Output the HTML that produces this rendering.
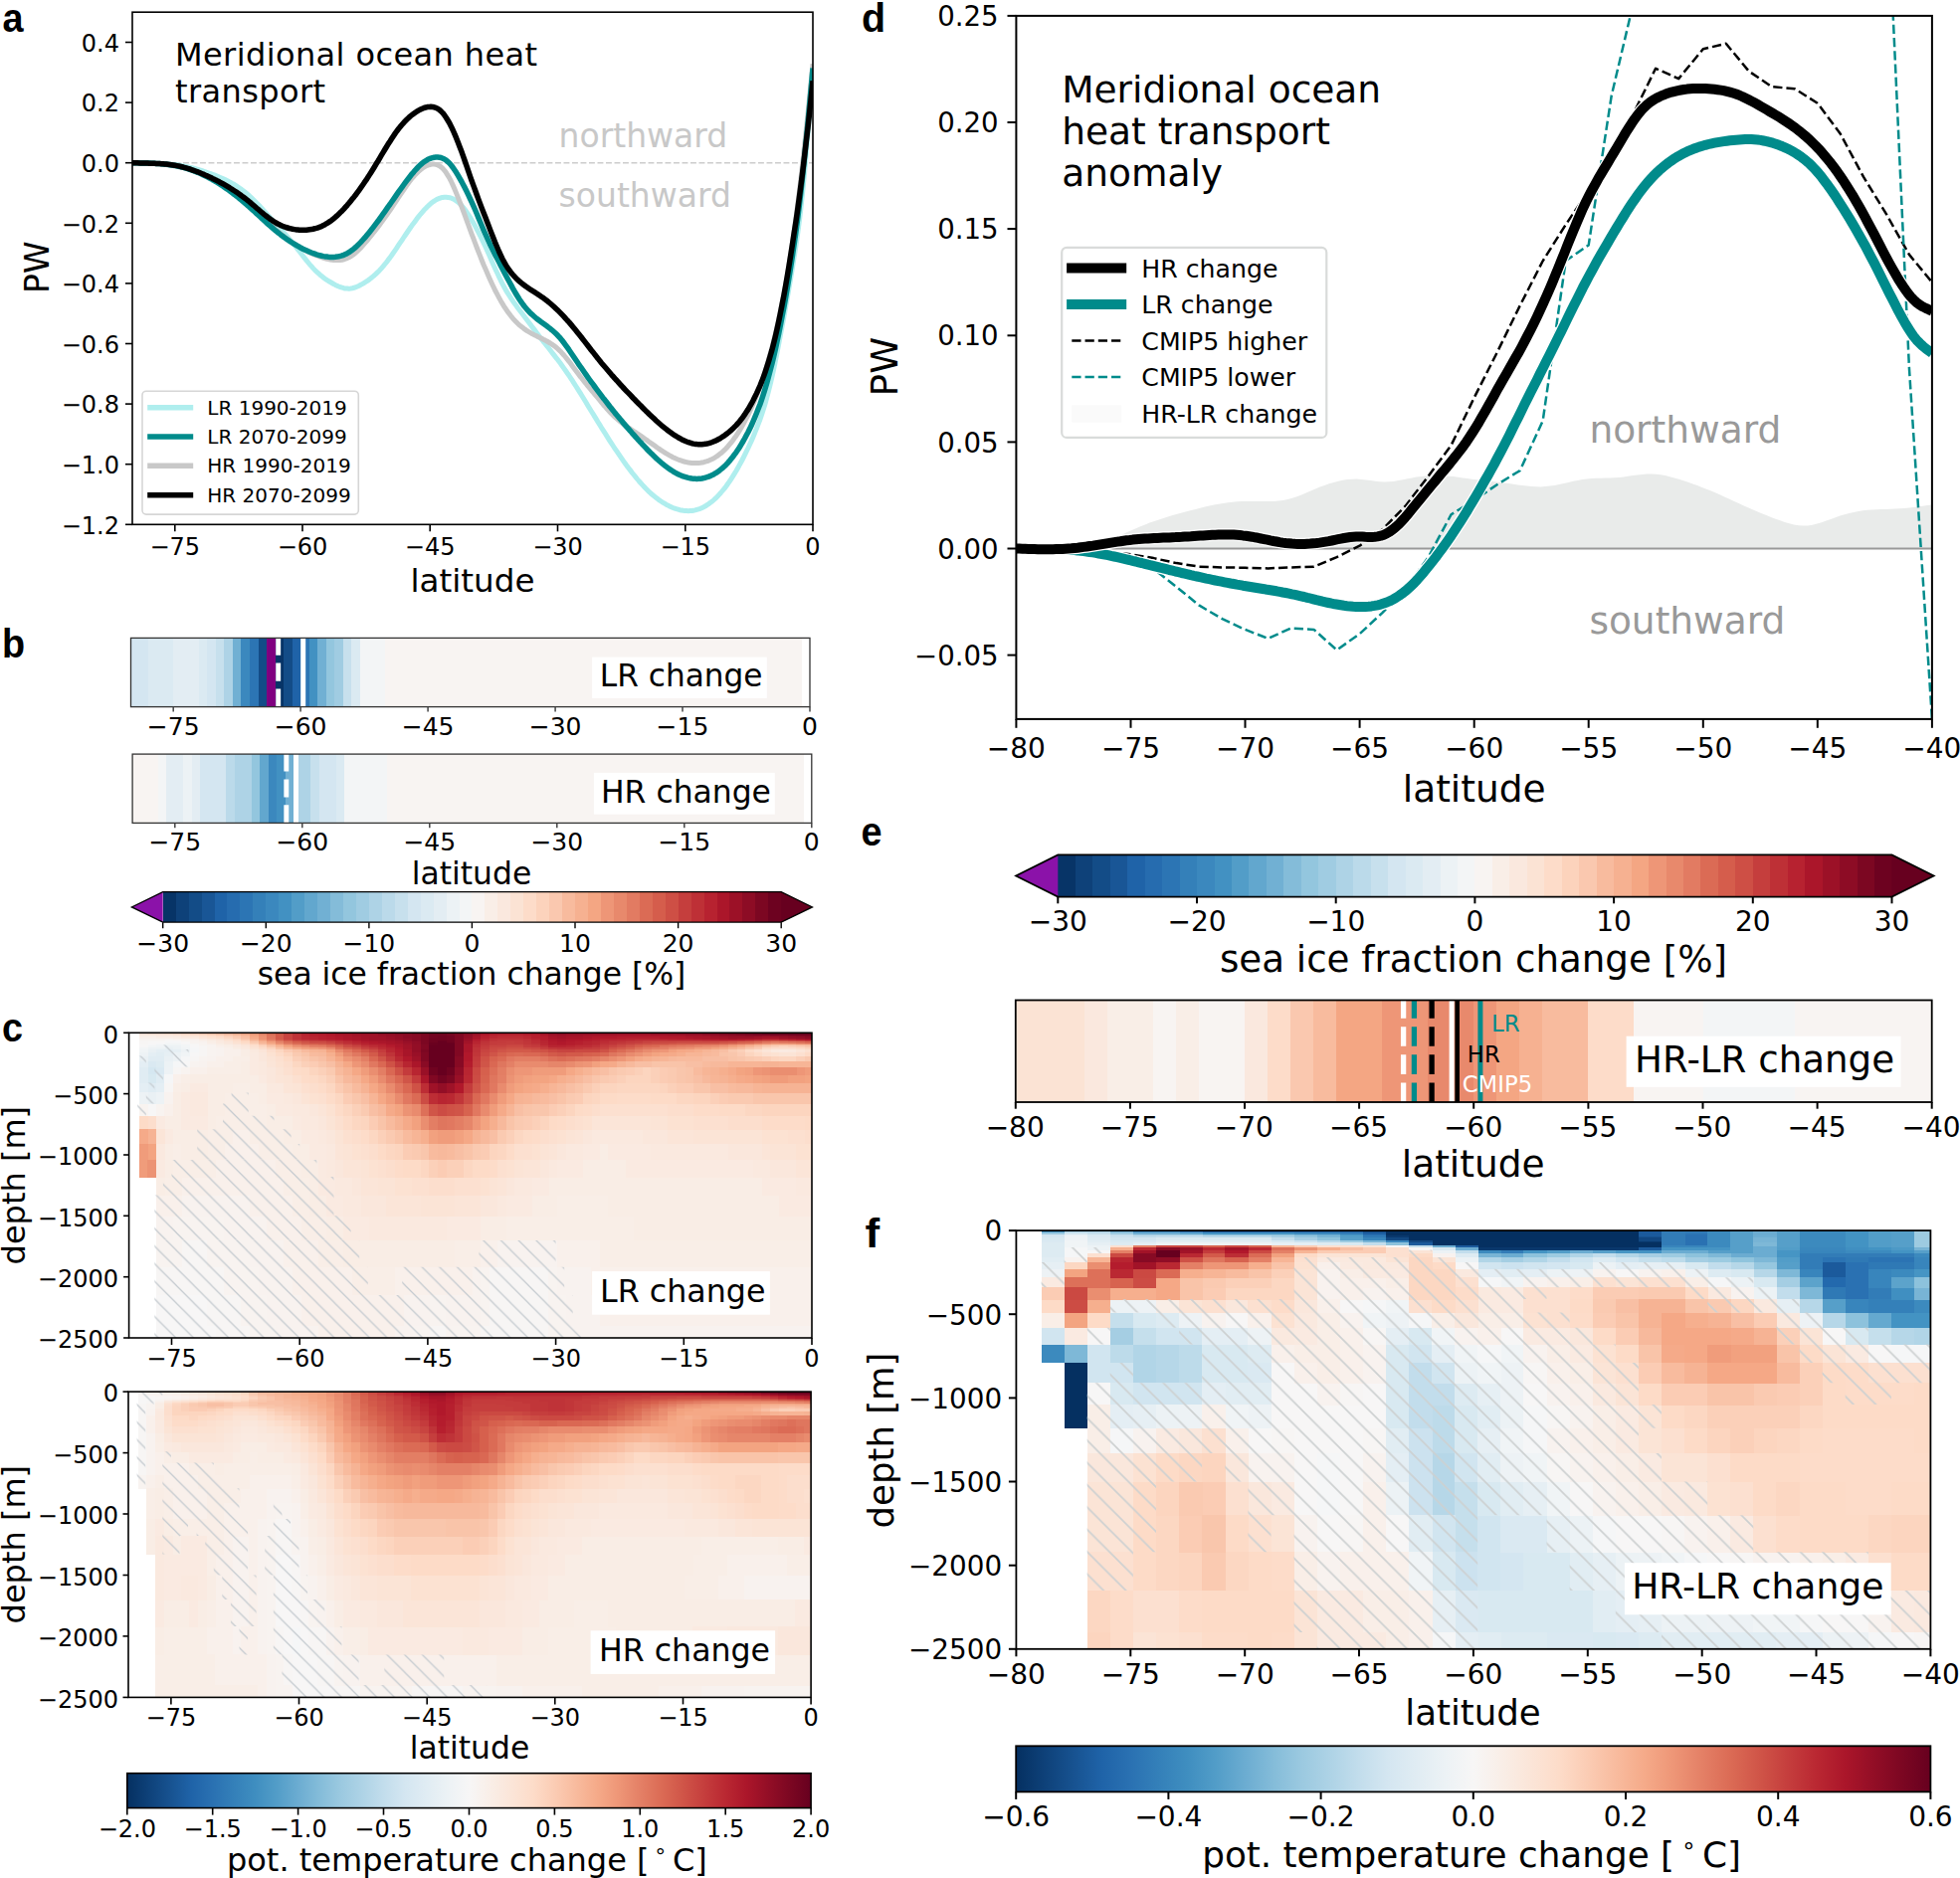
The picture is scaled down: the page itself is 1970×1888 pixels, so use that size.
<!DOCTYPE html><html><head><meta charset="utf-8"><title>Meridional ocean heat transport figure</title><style>html,body{margin:0;padding:0;background:#fff}svg{display:block}</style></head><body>
<svg width="1970" height="1888" viewBox="0 0 1970 1888" font-family='"DejaVu Sans","Liberation Sans",sans-serif' fill="#000">
<rect width="1970" height="1888" fill="#fff"/>
<defs><pattern id="hL" width="17.7" height="17.7" patternUnits="userSpaceOnUse"><path d="M-2 -2L19.7 19.7M-2 15.7L2 19.7M15.7 -2L19.7 2" stroke="#c4cacf" stroke-width="1.25" fill="none"/></pattern><pattern id="hR" width="22.4" height="22.4" patternUnits="userSpaceOnUse" x="3" y="0"><path d="M-2 -2L24.4 24.4M-2 20.4L2 24.4M20.4 -2L24.4 2" stroke="#cdd0d1" stroke-width="1.7" fill="none"/></pattern></defs>
<clipPath id="ca"><rect x="133" y="12.2" width="684" height="515.1"/></clipPath>
<g clip-path="url(#ca)">
<path d="M133 163.7L817 163.7" stroke="#cccccc" stroke-width="1.6" stroke-dasharray="5.9 2.6"/>
<path d="M133.0 163.7L134.7 163.7L136.4 163.8L138.1 163.8L139.9 163.9L141.6 163.9L143.3 164.0L145.0 164.0L146.7 164.1L148.4 164.1L150.1 164.2L151.9 164.2L153.6 164.3L155.3 164.3L157.0 164.4L158.7 164.4L160.4 164.5L162.1 164.6L163.9 164.6L165.6 164.7L167.3 164.8L169.0 164.9L170.7 165.0L172.4 165.2L174.1 165.4L175.9 165.6L177.6 165.8L179.3 166.0L181.0 166.3L182.7 166.6L184.4 166.9L186.1 167.2L187.9 167.6L189.6 168.0L191.3 168.4L193.0 168.8L194.7 169.2L196.4 169.7L198.1 170.2L199.9 170.7L201.6 171.2L203.3 171.7L205.0 172.3L206.7 172.9L208.4 173.5L210.1 174.1L211.9 174.7L213.6 175.3L215.3 175.9L217.0 176.6L218.7 177.3L220.4 178.0L222.1 178.7L223.9 179.5L225.6 180.3L227.3 181.1L229.0 182.0L230.7 182.9L232.4 183.8L234.1 184.8L235.9 185.8L237.6 186.9L239.3 188.0L241.0 189.2L242.7 190.4L244.4 191.7L246.1 193.0L247.9 194.5L249.6 195.9L251.3 197.5L253.0 199.1L254.7 200.7L256.4 202.4L258.1 204.2L259.9 206.0L261.6 207.8L263.3 209.7L265.0 211.6L266.7 213.5L268.4 215.4L270.1 217.3L271.9 219.2L273.6 221.1L275.3 223.0L277.0 224.9L278.7 226.8L280.4 228.6L282.1 230.5L283.9 232.4L285.6 234.3L287.3 236.2L289.0 238.1L290.7 240.1L292.4 242.1L294.1 244.1L295.9 246.2L297.6 248.4L299.3 250.6L301.0 252.8L302.7 255.0L304.4 257.2L306.1 259.4L307.9 261.6L309.6 263.7L311.3 265.8L313.0 267.7L314.7 269.6L316.4 271.4L318.1 273.1L319.9 274.7L321.6 276.2L323.3 277.6L325.0 278.9L326.7 280.2L328.4 281.4L330.1 282.5L331.9 283.5L333.6 284.5L335.3 285.5L337.0 286.4L338.7 287.2L340.4 288.0L342.1 288.6L343.9 289.2L345.6 289.7L347.3 290.0L349.0 290.1L350.7 290.2L352.4 290.0L354.1 289.7L355.9 289.3L357.6 288.7L359.3 288.0L361.0 287.2L362.7 286.3L364.4 285.4L366.1 284.3L367.9 283.2L369.6 282.1L371.3 280.9L373.0 279.5L374.7 278.1L376.4 276.7L378.1 275.1L379.9 273.4L381.6 271.7L383.3 269.8L385.0 267.9L386.7 265.8L388.4 263.7L390.1 261.4L391.9 259.1L393.6 256.7L395.3 254.3L397.0 251.8L398.7 249.3L400.4 246.7L402.1 244.2L403.9 241.6L405.6 239.0L407.3 236.5L409.0 234.0L410.7 231.5L412.4 229.0L414.1 226.6L415.9 224.2L417.6 221.9L419.3 219.6L421.0 217.4L422.7 215.3L424.4 213.3L426.1 211.3L427.9 209.5L429.6 207.7L431.3 206.1L433.0 204.6L434.7 203.3L436.4 202.1L438.1 201.0L439.9 200.1L441.6 199.4L443.3 198.8L445.0 198.4L446.7 198.2L448.4 198.2L450.1 198.4L451.9 198.7L453.6 199.2L455.3 199.9L457.0 200.8L458.7 201.9L460.4 203.2L462.1 204.8L463.9 206.5L465.6 208.5L467.3 210.7L469.0 213.1L470.7 215.6L472.4 218.3L474.1 221.2L475.9 224.1L477.6 227.2L479.3 230.5L481.0 233.8L482.7 237.2L484.4 240.7L486.1 244.3L487.9 248.0L489.6 251.8L491.3 255.6L493.0 259.5L494.7 263.4L496.4 267.2L498.1 271.0L499.9 274.8L501.6 278.5L503.3 282.0L505.0 285.3L506.7 288.5L508.4 291.6L510.1 294.4L511.9 297.2L513.6 299.8L515.3 302.3L517.0 304.8L518.7 307.1L520.4 309.5L522.1 311.7L523.9 314.0L525.6 316.2L527.3 318.5L529.0 320.8L530.7 323.0L532.4 325.3L534.1 327.6L535.9 329.9L537.6 332.1L539.3 334.4L541.0 336.6L542.7 338.9L544.4 341.1L546.1 343.3L547.9 345.5L549.6 347.7L551.3 349.8L553.0 352.0L554.7 354.2L556.4 356.4L558.1 358.6L559.9 360.8L561.6 363.1L563.3 365.3L565.0 367.7L566.7 370.1L568.4 372.5L570.1 375.0L571.9 377.5L573.6 380.1L575.3 382.7L577.0 385.3L578.7 388.0L580.4 390.7L582.1 393.4L583.9 396.2L585.6 399.0L587.3 401.8L589.0 404.5L590.7 407.4L592.4 410.2L594.1 413.0L595.9 415.8L597.6 418.6L599.3 421.4L601.0 424.2L602.7 426.9L604.4 429.7L606.1 432.4L607.9 435.2L609.6 437.9L611.3 440.6L613.0 443.3L614.7 445.9L616.4 448.5L618.1 451.1L619.9 453.7L621.6 456.2L623.3 458.7L625.0 461.2L626.7 463.6L628.4 466.0L630.1 468.4L631.9 470.7L633.6 472.9L635.3 475.2L637.0 477.3L638.7 479.4L640.4 481.5L642.1 483.5L643.9 485.5L645.6 487.4L647.3 489.2L649.0 491.0L650.7 492.7L652.4 494.4L654.1 496.0L655.9 497.5L657.6 498.9L659.3 500.3L661.0 501.6L662.7 502.9L664.4 504.0L666.1 505.1L667.9 506.2L669.6 507.2L671.3 508.1L673.0 508.9L674.7 509.7L676.4 510.5L678.1 511.1L679.9 511.7L681.6 512.2L683.3 512.7L685.0 513.0L686.7 513.3L688.4 513.5L690.1 513.6L691.9 513.7L693.6 513.6L695.3 513.5L697.0 513.2L698.7 512.9L700.4 512.4L702.1 511.9L703.9 511.3L705.6 510.6L707.3 509.7L709.0 508.8L710.7 507.7L712.4 506.6L714.1 505.3L715.9 504.0L717.6 502.5L719.3 500.9L721.0 499.2L722.7 497.4L724.4 495.5L726.1 493.5L727.9 491.4L729.6 489.2L731.3 486.8L733.0 484.4L734.7 481.8L736.4 479.1L738.1 476.4L739.9 473.5L741.6 470.5L743.3 467.4L745.0 464.3L746.7 461.0L748.4 457.6L750.1 454.1L751.9 450.5L753.6 446.8L755.3 443.1L757.0 439.2L758.7 435.1L760.4 430.9L762.1 426.4L763.9 421.8L765.6 416.8L767.3 411.5L769.0 405.9L770.7 399.9L772.4 393.4L774.1 386.6L775.9 379.2L777.6 371.5L779.3 363.3L781.0 354.7L782.7 345.9L784.4 336.9L786.1 327.7L787.9 318.4L789.6 308.9L791.3 299.3L793.0 289.6L794.7 279.6L796.4 269.3L798.1 258.6L799.9 247.5L801.6 235.7L803.3 222.8L805.0 208.7L806.7 193.1L808.4 175.8L810.1 156.6L811.9 135.9L813.6 114.1L815.3 91.5L817.0 68.6" fill="none" stroke="#afeeee" stroke-width="5" stroke-linejoin="round"/>
<path d="M133.0 163.7L134.7 163.7L136.4 163.8L138.1 163.8L139.9 163.8L141.6 163.9L143.3 163.9L145.0 164.0L146.7 164.0L148.4 164.1L150.1 164.1L151.9 164.2L153.6 164.3L155.3 164.4L157.0 164.4L158.7 164.5L160.4 164.7L162.1 164.8L163.9 164.9L165.6 165.1L167.3 165.3L169.0 165.5L170.7 165.7L172.4 165.9L174.1 166.2L175.9 166.5L177.6 166.8L179.3 167.2L181.0 167.5L182.7 167.9L184.4 168.4L186.1 168.8L187.9 169.3L189.6 169.8L191.3 170.4L193.0 171.0L194.7 171.6L196.4 172.2L198.1 172.8L199.9 173.5L201.6 174.2L203.3 175.0L205.0 175.7L206.7 176.5L208.4 177.4L210.1 178.2L211.9 179.1L213.6 180.0L215.3 181.0L217.0 181.9L218.7 182.9L220.4 184.0L222.1 185.0L223.9 186.1L225.6 187.2L227.3 188.4L229.0 189.5L230.7 190.7L232.4 191.9L234.1 193.2L235.9 194.5L237.6 195.8L239.3 197.1L241.0 198.5L242.7 199.8L244.4 201.2L246.1 202.7L247.9 204.1L249.6 205.6L251.3 207.1L253.0 208.7L254.7 210.2L256.4 211.8L258.1 213.4L259.9 215.0L261.6 216.6L263.3 218.2L265.0 219.8L266.7 221.4L268.4 223.0L270.1 224.5L271.9 226.1L273.6 227.6L275.3 229.2L277.0 230.7L278.7 232.1L280.4 233.6L282.1 235.0L283.9 236.4L285.6 237.7L287.3 239.0L289.0 240.3L290.7 241.6L292.4 242.8L294.1 244.0L295.9 245.2L297.6 246.3L299.3 247.4L301.0 248.4L302.7 249.4L304.4 250.4L306.1 251.3L307.9 252.2L309.6 253.0L311.3 253.9L313.0 254.7L314.7 255.4L316.4 256.1L318.1 256.8L319.9 257.5L321.6 258.1L323.3 258.7L325.0 259.3L326.7 259.8L328.4 260.2L330.1 260.6L331.9 261.0L333.6 261.3L335.3 261.5L337.0 261.6L338.7 261.6L340.4 261.6L342.1 261.4L343.9 261.2L345.6 260.8L347.3 260.2L349.0 259.6L350.7 258.8L352.4 257.8L354.1 256.7L355.9 255.4L357.6 254.0L359.3 252.4L361.0 250.8L362.7 249.0L364.4 247.1L366.1 245.2L367.9 243.2L369.6 241.1L371.3 239.0L373.0 236.9L374.7 234.7L376.4 232.6L378.1 230.4L379.9 228.1L381.6 225.9L383.3 223.6L385.0 221.3L386.7 218.9L388.4 216.5L390.1 214.1L391.9 211.6L393.6 209.1L395.3 206.5L397.0 203.9L398.7 201.3L400.4 198.7L402.1 196.1L403.9 193.5L405.6 191.0L407.3 188.5L409.0 186.1L410.7 183.7L412.4 181.5L414.1 179.3L415.9 177.3L417.6 175.4L419.3 173.7L421.0 172.0L422.7 170.6L424.4 169.2L426.1 168.1L427.9 167.1L429.6 166.3L431.3 165.7L433.0 165.3L434.7 165.1L436.4 165.1L438.1 165.4L439.9 165.9L441.6 166.7L443.3 167.9L445.0 169.4L446.7 171.3L448.4 173.6L450.1 176.3L451.9 179.3L453.6 182.7L455.3 186.4L457.0 190.3L458.7 194.4L460.4 198.6L462.1 203.0L463.9 207.5L465.6 212.0L467.3 216.7L469.0 221.3L470.7 226.0L472.4 230.7L474.1 235.3L475.9 239.9L477.6 244.5L479.3 249.0L481.0 253.4L482.7 257.7L484.4 262.0L486.1 266.2L487.9 270.3L489.6 274.3L491.3 278.2L493.0 282.0L494.7 285.7L496.4 289.3L498.1 292.8L499.9 296.1L501.6 299.3L503.3 302.4L505.0 305.3L506.7 308.1L508.4 310.7L510.1 313.2L511.9 315.6L513.6 317.8L515.3 319.9L517.0 321.8L518.7 323.6L520.4 325.3L522.1 326.9L523.9 328.3L525.6 329.6L527.3 330.9L529.0 332.1L530.7 333.2L532.4 334.2L534.1 335.2L535.9 336.1L537.6 337.0L539.3 337.8L541.0 338.7L542.7 339.5L544.4 340.3L546.1 341.2L547.9 342.1L549.6 343.0L551.3 344.0L553.0 345.0L554.7 346.1L556.4 347.3L558.1 348.6L559.9 350.0L561.6 351.6L563.3 353.2L565.0 355.1L566.7 357.0L568.4 359.0L570.1 361.1L571.9 363.3L573.6 365.6L575.3 367.9L577.0 370.2L578.7 372.5L580.4 374.8L582.1 377.1L583.9 379.3L585.6 381.5L587.3 383.6L589.0 385.8L590.7 387.9L592.4 389.9L594.1 392.0L595.9 394.0L597.6 396.1L599.3 398.2L601.0 400.2L602.7 402.3L604.4 404.4L606.1 406.5L607.9 408.5L609.6 410.5L611.3 412.4L613.0 414.3L614.7 416.1L616.4 417.8L618.1 419.4L619.9 420.9L621.6 422.4L623.3 423.8L625.0 425.1L626.7 426.4L628.4 427.7L630.1 428.9L631.9 430.1L633.6 431.2L635.3 432.4L637.0 433.5L638.7 434.6L640.4 435.8L642.1 436.9L643.9 438.1L645.6 439.3L647.3 440.5L649.0 441.7L650.7 442.9L652.4 444.2L654.1 445.4L655.9 446.6L657.6 447.8L659.3 449.1L661.0 450.3L662.7 451.4L664.4 452.6L666.1 453.7L667.9 454.8L669.6 455.9L671.3 456.9L673.0 457.9L674.7 458.8L676.4 459.7L678.1 460.5L679.9 461.3L681.6 462.0L683.3 462.6L685.0 463.2L686.7 463.8L688.4 464.2L690.1 464.6L691.9 465.0L693.6 465.2L695.3 465.4L697.0 465.6L698.7 465.6L700.4 465.6L702.1 465.5L703.9 465.3L705.6 465.0L707.3 464.7L709.0 464.2L710.7 463.7L712.4 463.1L714.1 462.3L715.9 461.5L717.6 460.6L719.3 459.5L721.0 458.4L722.7 457.1L724.4 455.8L726.1 454.3L727.9 452.7L729.6 451.0L731.3 449.2L733.0 447.2L734.7 445.2L736.4 443.0L738.1 440.6L739.9 438.2L741.6 435.6L743.3 432.9L745.0 430.0L746.7 427.1L748.4 423.9L750.1 420.7L751.9 417.3L753.6 413.7L755.3 410.0L757.0 406.1L758.7 402.0L760.4 397.8L762.1 393.4L763.9 388.7L765.6 383.8L767.3 378.7L769.0 373.4L770.7 367.9L772.4 362.0L774.1 355.9L775.9 349.6L777.6 342.9L779.3 335.9L781.0 328.6L782.7 320.9L784.4 312.8L786.1 304.3L787.9 295.5L789.6 286.2L791.3 276.4L793.0 266.2L794.7 255.5L796.4 244.2L798.1 232.4L799.9 220.1L801.6 207.1L803.3 193.5L805.0 179.2L806.7 164.2L808.4 148.6L810.1 132.4L811.9 115.8L813.6 98.8L815.3 81.6L817.0 64.3" fill="none" stroke="#c8c8c8" stroke-width="5" stroke-linejoin="round"/>
<path d="M133.0 163.7L134.7 163.7L136.4 163.8L138.1 163.8L139.9 163.8L141.6 163.9L143.3 163.9L145.0 164.0L146.7 164.0L148.4 164.1L150.1 164.1L151.9 164.2L153.6 164.3L155.3 164.3L157.0 164.4L158.7 164.5L160.4 164.6L162.1 164.8L163.9 164.9L165.6 165.1L167.3 165.3L169.0 165.5L170.7 165.7L172.4 165.9L174.1 166.2L175.9 166.5L177.6 166.8L179.3 167.2L181.0 167.6L182.7 168.0L184.4 168.4L186.1 168.9L187.9 169.4L189.6 170.0L191.3 170.5L193.0 171.1L194.7 171.8L196.4 172.4L198.1 173.1L199.9 173.8L201.6 174.6L203.3 175.4L205.0 176.2L206.7 177.0L208.4 177.9L210.1 178.8L211.9 179.7L213.6 180.7L215.3 181.6L217.0 182.7L218.7 183.7L220.4 184.8L222.1 185.9L223.9 187.0L225.6 188.2L227.3 189.4L229.0 190.6L230.7 191.8L232.4 193.1L234.1 194.4L235.9 195.7L237.6 197.1L239.3 198.4L241.0 199.8L242.7 201.2L244.4 202.7L246.1 204.1L247.9 205.6L249.6 207.1L251.3 208.7L253.0 210.2L254.7 211.8L256.4 213.3L258.1 214.9L259.9 216.5L261.6 218.1L263.3 219.7L265.0 221.2L266.7 222.8L268.4 224.4L270.1 225.9L271.9 227.4L273.6 228.9L275.3 230.4L277.0 231.8L278.7 233.2L280.4 234.5L282.1 235.9L283.9 237.2L285.6 238.5L287.3 239.7L289.0 240.9L290.7 242.1L292.4 243.2L294.1 244.3L295.9 245.4L297.6 246.4L299.3 247.4L301.0 248.3L302.7 249.3L304.4 250.2L306.1 251.0L307.9 251.8L309.6 252.6L311.3 253.3L313.0 254.0L314.7 254.6L316.4 255.2L318.1 255.8L319.9 256.3L321.6 256.8L323.3 257.2L325.0 257.6L326.7 257.9L328.4 258.1L330.1 258.3L331.9 258.4L333.6 258.4L335.3 258.4L337.0 258.3L338.7 258.1L340.4 257.8L342.1 257.4L343.9 256.9L345.6 256.3L347.3 255.5L349.0 254.7L350.7 253.7L352.4 252.5L354.1 251.3L355.9 249.9L357.6 248.4L359.3 246.8L361.0 245.1L362.7 243.4L364.4 241.5L366.1 239.6L367.9 237.6L369.6 235.5L371.3 233.4L373.0 231.3L374.7 229.1L376.4 226.9L378.1 224.6L379.9 222.3L381.6 220.0L383.3 217.6L385.0 215.2L386.7 212.8L388.4 210.4L390.1 207.9L391.9 205.5L393.6 203.0L395.3 200.6L397.0 198.1L398.7 195.6L400.4 193.2L402.1 190.8L403.9 188.4L405.6 186.0L407.3 183.7L409.0 181.4L410.7 179.2L412.4 177.0L414.1 174.8L415.9 172.8L417.6 170.8L419.3 169.0L421.0 167.2L422.7 165.6L424.4 164.1L426.1 162.8L427.9 161.7L429.6 160.6L431.3 159.8L433.0 159.1L434.7 158.6L436.4 158.2L438.1 158.0L439.9 158.0L441.6 158.2L443.3 158.5L445.0 159.2L446.7 160.0L448.4 161.1L450.1 162.6L451.9 164.3L453.6 166.3L455.3 168.5L457.0 171.0L458.7 173.6L460.4 176.4L462.1 179.4L463.9 182.5L465.6 185.7L467.3 188.9L469.0 192.3L470.7 195.9L472.4 199.5L474.1 203.2L475.9 207.1L477.6 211.0L479.3 215.0L481.0 219.1L482.7 223.2L484.4 227.3L486.1 231.3L487.9 235.3L489.6 239.2L491.3 242.9L493.0 246.6L494.7 250.1L496.4 253.6L498.1 257.0L499.9 260.3L501.6 263.6L503.3 266.9L505.0 270.2L506.7 273.5L508.4 276.8L510.1 280.0L511.9 283.3L513.6 286.4L515.3 289.6L517.0 292.6L518.7 295.5L520.4 298.3L522.1 301.0L523.9 303.6L525.6 306.0L527.3 308.2L529.0 310.2L530.7 312.2L532.4 314.0L534.1 315.7L535.9 317.2L537.6 318.7L539.3 320.2L541.0 321.5L542.7 322.8L544.4 324.1L546.1 325.3L547.9 326.6L549.6 327.8L551.3 329.1L553.0 330.4L554.7 331.8L556.4 333.3L558.1 334.8L559.9 336.5L561.6 338.3L563.3 340.2L565.0 342.3L566.7 344.5L568.4 346.8L570.1 349.2L571.9 351.7L573.6 354.2L575.3 356.7L577.0 359.3L578.7 361.8L580.4 364.3L582.1 366.9L583.9 369.3L585.6 371.8L587.3 374.3L589.0 376.7L590.7 379.1L592.4 381.5L594.1 383.8L595.9 386.2L597.6 388.5L599.3 390.8L601.0 393.1L602.7 395.4L604.4 397.7L606.1 399.9L607.9 402.1L609.6 404.3L611.3 406.5L613.0 408.7L614.7 410.8L616.4 412.9L618.1 415.1L619.9 417.2L621.6 419.2L623.3 421.3L625.0 423.3L626.7 425.4L628.4 427.4L630.1 429.4L631.9 431.4L633.6 433.3L635.3 435.3L637.0 437.2L638.7 439.1L640.4 441.0L642.1 442.9L643.9 444.7L645.6 446.6L647.3 448.4L649.0 450.2L650.7 452.0L652.4 453.7L654.1 455.4L655.9 457.1L657.6 458.8L659.3 460.4L661.0 462.0L662.7 463.5L664.4 465.0L666.1 466.4L667.9 467.8L669.6 469.1L671.3 470.4L673.0 471.6L674.7 472.7L676.4 473.8L678.1 474.8L679.9 475.8L681.6 476.7L683.3 477.5L685.0 478.2L686.7 478.9L688.4 479.4L690.1 479.9L691.9 480.4L693.6 480.7L695.3 481.0L697.0 481.2L698.7 481.3L700.4 481.4L702.1 481.3L703.9 481.2L705.6 481.0L707.3 480.6L709.0 480.2L710.7 479.7L712.4 479.1L714.1 478.4L715.9 477.6L717.6 476.7L719.3 475.7L721.0 474.6L722.7 473.4L724.4 472.0L726.1 470.6L727.9 469.0L729.6 467.4L731.3 465.6L733.0 463.7L734.7 461.6L736.4 459.5L738.1 457.2L739.9 454.8L741.6 452.3L743.3 449.7L745.0 446.9L746.7 444.0L748.4 441.0L750.1 437.8L751.9 434.5L753.6 431.1L755.3 427.5L757.0 423.7L758.7 419.7L760.4 415.5L762.1 411.1L763.9 406.5L765.6 401.6L767.3 396.4L769.0 390.9L770.7 385.2L772.4 379.1L774.1 372.6L775.9 365.9L777.6 358.8L779.3 351.3L781.0 343.5L782.7 335.4L784.4 326.9L786.1 318.1L787.9 308.9L789.6 299.4L791.3 289.5L793.0 279.2L794.7 268.6L796.4 257.5L798.1 245.9L799.9 233.6L801.6 220.7L803.3 206.9L805.0 192.2L806.7 176.6L808.4 160.1L810.1 142.7L811.9 124.7L813.6 106.3L815.3 87.5L817.0 68.6" fill="none" stroke="#008b8b" stroke-width="5.5" stroke-linejoin="round"/>
<path d="M133.0 163.7L134.7 163.7L136.4 163.8L138.1 163.8L139.9 163.9L141.6 163.9L143.3 163.9L145.0 164.0L146.7 164.0L148.4 164.1L150.1 164.2L151.9 164.2L153.6 164.3L155.3 164.3L157.0 164.4L158.7 164.5L160.4 164.6L162.1 164.7L163.9 164.8L165.6 165.0L167.3 165.1L169.0 165.3L170.7 165.5L172.4 165.7L174.1 166.0L175.9 166.3L177.6 166.6L179.3 166.9L181.0 167.3L182.7 167.7L184.4 168.2L186.1 168.6L187.9 169.1L189.6 169.6L191.3 170.2L193.0 170.8L194.7 171.4L196.4 172.0L198.1 172.6L199.9 173.3L201.6 174.0L203.3 174.7L205.0 175.4L206.7 176.2L208.4 176.9L210.1 177.7L211.9 178.5L213.6 179.4L215.3 180.2L217.0 181.1L218.7 181.9L220.4 182.8L222.1 183.8L223.9 184.7L225.6 185.7L227.3 186.7L229.0 187.7L230.7 188.7L232.4 189.8L234.1 190.9L235.9 192.0L237.6 193.1L239.3 194.3L241.0 195.5L242.7 196.8L244.4 198.0L246.1 199.3L247.9 200.7L249.6 202.0L251.3 203.4L253.0 204.9L254.7 206.3L256.4 207.8L258.1 209.3L259.9 210.7L261.6 212.2L263.3 213.7L265.0 215.1L266.7 216.5L268.4 217.8L270.1 219.1L271.9 220.4L273.6 221.6L275.3 222.7L277.0 223.8L278.7 224.7L280.4 225.6L282.1 226.4L283.9 227.2L285.6 227.9L287.3 228.5L289.0 229.0L290.7 229.5L292.4 229.9L294.1 230.3L295.9 230.6L297.6 230.9L299.3 231.0L301.0 231.2L302.7 231.2L304.4 231.3L306.1 231.2L307.9 231.2L309.6 231.0L311.3 230.8L313.0 230.6L314.7 230.2L316.4 229.8L318.1 229.4L319.9 228.8L321.6 228.2L323.3 227.4L325.0 226.6L326.7 225.7L328.4 224.7L330.1 223.6L331.9 222.4L333.6 221.2L335.3 219.8L337.0 218.4L338.7 216.9L340.4 215.3L342.1 213.6L343.9 211.9L345.6 210.1L347.3 208.2L349.0 206.3L350.7 204.3L352.4 202.2L354.1 200.1L355.9 197.9L357.6 195.7L359.3 193.4L361.0 191.1L362.7 188.7L364.4 186.2L366.1 183.7L367.9 181.2L369.6 178.6L371.3 175.9L373.0 173.2L374.7 170.5L376.4 167.7L378.1 164.8L379.9 162.0L381.6 159.1L383.3 156.2L385.0 153.4L386.7 150.5L388.4 147.7L390.1 144.9L391.9 142.2L393.6 139.5L395.3 136.9L397.0 134.4L398.7 132.0L400.4 129.8L402.1 127.6L403.9 125.5L405.6 123.6L407.3 121.7L409.0 120.0L410.7 118.4L412.4 116.9L414.1 115.5L415.9 114.2L417.6 113.0L419.3 111.9L421.0 110.9L422.7 110.0L424.4 109.2L426.1 108.5L427.9 108.0L429.6 107.6L431.3 107.4L433.0 107.3L434.7 107.5L436.4 107.8L438.1 108.4L439.9 109.3L441.6 110.4L443.3 111.9L445.0 113.6L446.7 115.7L448.4 118.2L450.1 121.0L451.9 124.0L453.6 127.4L455.3 131.0L457.0 134.9L458.7 138.9L460.4 143.2L462.1 147.7L463.9 152.3L465.6 157.1L467.3 162.0L469.0 166.9L470.7 171.9L472.4 176.8L474.1 181.8L475.9 186.6L477.6 191.3L479.3 196.0L481.0 200.6L482.7 205.1L484.4 209.6L486.1 214.0L487.9 218.5L489.6 222.9L491.3 227.4L493.0 231.9L494.7 236.3L496.4 240.6L498.1 244.9L499.9 249.0L501.6 253.0L503.3 256.7L505.0 260.2L506.7 263.4L508.4 266.4L510.1 269.1L511.9 271.6L513.6 273.9L515.3 276.0L517.0 277.9L518.7 279.7L520.4 281.4L522.1 282.9L523.9 284.4L525.6 285.7L527.3 287.0L529.0 288.3L530.7 289.4L532.4 290.6L534.1 291.7L535.9 292.8L537.6 293.9L539.3 295.0L541.0 296.1L542.7 297.2L544.4 298.4L546.1 299.6L547.9 300.9L549.6 302.2L551.3 303.6L553.0 305.0L554.7 306.5L556.4 308.0L558.1 309.6L559.9 311.2L561.6 312.9L563.3 314.6L565.0 316.4L566.7 318.2L568.4 320.1L570.1 322.0L571.9 323.9L573.6 325.9L575.3 327.9L577.0 330.0L578.7 332.1L580.4 334.2L582.1 336.3L583.9 338.5L585.6 340.7L587.3 342.9L589.0 345.1L590.7 347.3L592.4 349.5L594.1 351.7L595.9 353.9L597.6 356.1L599.3 358.3L601.0 360.4L602.7 362.6L604.4 364.7L606.1 366.7L607.9 368.8L609.6 370.8L611.3 372.8L613.0 374.8L614.7 376.8L616.4 378.7L618.1 380.6L619.9 382.5L621.6 384.4L623.3 386.3L625.0 388.2L626.7 390.0L628.4 391.8L630.1 393.6L631.9 395.4L633.6 397.2L635.3 399.0L637.0 400.8L638.7 402.5L640.4 404.3L642.1 406.0L643.9 407.7L645.6 409.5L647.3 411.2L649.0 412.9L650.7 414.5L652.4 416.2L654.1 417.9L655.9 419.5L657.6 421.1L659.3 422.7L661.0 424.2L662.7 425.7L664.4 427.2L666.1 428.7L667.9 430.1L669.6 431.4L671.3 432.8L673.0 434.1L674.7 435.3L676.4 436.5L678.1 437.6L679.9 438.7L681.6 439.8L683.3 440.7L685.0 441.7L686.7 442.5L688.4 443.3L690.1 444.0L691.9 444.6L693.6 445.2L695.3 445.7L697.0 446.1L698.7 446.4L700.4 446.6L702.1 446.7L703.9 446.8L705.6 446.7L707.3 446.6L709.0 446.3L710.7 446.0L712.4 445.6L714.1 445.1L715.9 444.5L717.6 443.8L719.3 443.1L721.0 442.2L722.7 441.3L724.4 440.3L726.1 439.2L727.9 438.1L729.6 436.8L731.3 435.5L733.0 434.1L734.7 432.7L736.4 431.1L738.1 429.4L739.9 427.6L741.6 425.7L743.3 423.7L745.0 421.6L746.7 419.3L748.4 416.9L750.1 414.3L751.9 411.6L753.6 408.7L755.3 405.7L757.0 402.5L758.7 399.1L760.4 395.6L762.1 391.8L763.9 387.8L765.6 383.6L767.3 379.1L769.0 374.3L770.7 369.2L772.4 363.8L774.1 358.0L775.9 351.9L777.6 345.3L779.3 338.3L781.0 330.9L782.7 323.1L784.4 314.8L786.1 306.1L787.9 297.0L789.6 287.5L791.3 277.6L793.0 267.4L794.7 256.8L796.4 245.9L798.1 234.7L799.9 223.2L801.6 211.3L803.3 198.9L805.0 186.1L806.7 172.8L808.4 158.9L810.1 144.4L811.9 129.2L813.6 113.6L815.3 97.5L817.0 81.3" fill="none" stroke="#000" stroke-width="5.5" stroke-linejoin="round"/>
</g>
<rect x="133" y="12.2" width="684" height="515.1" fill="none" stroke="#000" stroke-width="1.6"/>
<path d="M175.8 527.3L175.8 534.3" stroke="#000" stroke-width="1.6"/>
<text x="175.8" y="557.6" font-size="24" text-anchor="middle">−75</text>
<path d="M304 527.3L304 534.3" stroke="#000" stroke-width="1.6"/>
<text x="304" y="557.6" font-size="24" text-anchor="middle">−60</text>
<path d="M432.2 527.3L432.2 534.3" stroke="#000" stroke-width="1.6"/>
<text x="432.2" y="557.6" font-size="24" text-anchor="middle">−45</text>
<path d="M560.5 527.3L560.5 534.3" stroke="#000" stroke-width="1.6"/>
<text x="560.5" y="557.6" font-size="24" text-anchor="middle">−30</text>
<path d="M688.8 527.3L688.8 534.3" stroke="#000" stroke-width="1.6"/>
<text x="688.8" y="557.6" font-size="24" text-anchor="middle">−15</text>
<path d="M817 527.3L817 534.3" stroke="#000" stroke-width="1.6"/>
<text x="817" y="557.6" font-size="24" text-anchor="middle">0</text>
<path d="M126 42.5L133 42.5" stroke="#000" stroke-width="1.6"/>
<text x="120" y="51.8" font-size="24" text-anchor="end">0.4</text>
<path d="M126 103.1L133 103.1" stroke="#000" stroke-width="1.6"/>
<text x="120" y="112.4" font-size="24" text-anchor="end">0.2</text>
<path d="M126 163.7L133 163.7" stroke="#000" stroke-width="1.6"/>
<text x="120" y="173" font-size="24" text-anchor="end">0.0</text>
<path d="M126 224.3L133 224.3" stroke="#000" stroke-width="1.6"/>
<text x="120" y="233.6" font-size="24" text-anchor="end">−0.2</text>
<path d="M126 284.9L133 284.9" stroke="#000" stroke-width="1.6"/>
<text x="120" y="294.2" font-size="24" text-anchor="end">−0.4</text>
<path d="M126 345.5L133 345.5" stroke="#000" stroke-width="1.6"/>
<text x="120" y="354.8" font-size="24" text-anchor="end">−0.6</text>
<path d="M126 406.1L133 406.1" stroke="#000" stroke-width="1.6"/>
<text x="120" y="415.4" font-size="24" text-anchor="end">−0.8</text>
<path d="M126 466.7L133 466.7" stroke="#000" stroke-width="1.6"/>
<text x="120" y="476" font-size="24" text-anchor="end">−1.0</text>
<path d="M126 527.3L133 527.3" stroke="#000" stroke-width="1.6"/>
<text x="120" y="536.6" font-size="24" text-anchor="end">−1.2</text>
<text x="475" y="594.6" font-size="32.6" text-anchor="middle">latitude</text>
<text transform="translate(48.8,268.7) rotate(-90)" font-size="33" text-anchor="middle">PW</text>
<text x="176" y="66.3" font-size="32" letter-spacing="0.4">Meridional ocean heat</text>
<text x="176" y="102.5" font-size="32" letter-spacing="0.4">transport</text>
<text x="561.6" y="148.2" font-size="33" fill="#c8c8c8">northward</text>
<text x="561.6" y="208.3" font-size="33" fill="#c8c8c8">southward</text>
<rect x="143" y="393.2" width="217.3" height="123.9" fill="#fff" stroke="#d6d6d6" stroke-width="1.6" rx="4" fill-opacity="0.8"/>
<path d="M148.2 409.8L194.2 409.8" stroke="#afeeee" stroke-width="5.5"/>
<text x="208.3" y="416.7" font-size="20">LR 1990-2019</text>
<path d="M148.2 439L194.2 439" stroke="#008b8b" stroke-width="5.5"/>
<text x="208.3" y="445.9" font-size="20">LR 2070-2099</text>
<path d="M148.2 468.2L194.2 468.2" stroke="#c8c8c8" stroke-width="5.5"/>
<text x="208.3" y="475.1" font-size="20">HR 1990-2019</text>
<path d="M148.2 497.8L194.2 497.8" stroke="#000" stroke-width="5.5"/>
<text x="208.3" y="504.7" font-size="20">HR 2070-2099</text>
<text transform="translate(2.5,31.8) scale(0.9,0.98)" font-size="42" font-weight="bold" font-family='"Liberation Sans","DejaVu Sans",sans-serif'>a</text>
<g shape-rendering="crispEdges">
<rect x="131.5" y="641.4" width="17.4" height="69.2" fill="#d4e6f1"/>
<rect x="148.6" y="641.4" width="25.9" height="69.2" fill="#dbeaf2"/>
<rect x="174.2" y="641.4" width="25.9" height="69.2" fill="#e3edf3"/>
<rect x="199.8" y="641.4" width="8.8" height="69.2" fill="#dbeaf2"/>
<rect x="208.3" y="641.4" width="8.8" height="69.2" fill="#d4e6f1"/>
<rect x="216.8" y="641.4" width="8.8" height="69.2" fill="#c7e0ed"/>
<rect x="225.3" y="641.4" width="8.8" height="69.2" fill="#aed3e6"/>
<rect x="233.9" y="641.4" width="8.8" height="69.2" fill="#71b0d3"/>
<rect x="242.4" y="641.4" width="8.8" height="69.2" fill="#3b88be"/>
<rect x="250.9" y="641.4" width="8.8" height="69.2" fill="#2c75b4"/>
<rect x="259.5" y="641.4" width="8.8" height="69.2" fill="#134c87"/>
<rect x="268" y="641.4" width="8.8" height="69.2" fill="#800080"/>
<rect x="276.5" y="641.4" width="8.8" height="69.2" fill="#073467"/>
<rect x="285.1" y="641.4" width="8.8" height="69.2" fill="#134c87"/>
<rect x="293.6" y="641.4" width="8.8" height="69.2" fill="#1f63a8"/>
<rect x="302.1" y="641.4" width="8.8" height="69.2" fill="#2c75b4"/>
<rect x="310.7" y="641.4" width="8.8" height="69.2" fill="#4291c2"/>
<rect x="319.2" y="641.4" width="8.8" height="69.2" fill="#71b0d3"/>
<rect x="327.7" y="641.4" width="8.8" height="69.2" fill="#93c6de"/>
<rect x="336.2" y="641.4" width="8.8" height="69.2" fill="#a0cce2"/>
<rect x="344.8" y="641.4" width="8.8" height="69.2" fill="#c7e0ed"/>
<rect x="353.3" y="641.4" width="8.8" height="69.2" fill="#dbeaf2"/>
<rect x="361.8" y="641.4" width="25.9" height="69.2" fill="#f3f5f6"/>
<rect x="387.4" y="641.4" width="418.3" height="69.2" fill="#f8f4f2"/>
</g>
<path d="M279.7 710.6L279.7 641.4" stroke="#fff" stroke-width="4.9" stroke-dasharray="18.1 7.8"/>
<path d="M304.7 710.6L304.7 641.4" stroke="#fff" stroke-width="5.0"/>
<rect x="131.5" y="641.4" width="682.5" height="69.2" fill="none" stroke="#333" stroke-width="1.3"/>
<path d="M174.2 710.6L174.2 715.4" stroke="#444" stroke-width="1.5"/>
<text x="174.2" y="738.7" font-size="25" text-anchor="middle">−75</text>
<path d="M302.1 710.6L302.1 715.4" stroke="#444" stroke-width="1.5"/>
<text x="302.1" y="738.7" font-size="25" text-anchor="middle">−60</text>
<path d="M430.1 710.6L430.1 715.4" stroke="#444" stroke-width="1.5"/>
<text x="430.1" y="738.7" font-size="25" text-anchor="middle">−45</text>
<path d="M558.1 710.6L558.1 715.4" stroke="#444" stroke-width="1.5"/>
<text x="558.1" y="738.7" font-size="25" text-anchor="middle">−30</text>
<path d="M686 710.6L686 715.4" stroke="#444" stroke-width="1.5"/>
<text x="686" y="738.7" font-size="25" text-anchor="middle">−15</text>
<path d="M814 710.6L814 715.4" stroke="#444" stroke-width="1.5"/>
<text x="814" y="738.7" font-size="25" text-anchor="middle">0</text>
<rect x="595.1" y="660.6" width="175.7" height="41.3" fill="#fff"/>
<text x="602.8" y="690.4" font-size="31.2">LR change</text>
<g shape-rendering="crispEdges">
<rect x="133.1" y="758.1" width="25.9" height="69.3" fill="#f8f4f2"/>
<rect x="158.7" y="758.1" width="8.8" height="69.3" fill="#f3f5f6"/>
<rect x="167.2" y="758.1" width="17.4" height="69.3" fill="#e3edf3"/>
<rect x="184.3" y="758.1" width="8.8" height="69.3" fill="#ecf2f5"/>
<rect x="192.8" y="758.1" width="8.8" height="69.3" fill="#e3edf3"/>
<rect x="201.4" y="758.1" width="25.9" height="69.3" fill="#d4e6f1"/>
<rect x="227" y="758.1" width="8.8" height="69.3" fill="#bbdaea"/>
<rect x="235.5" y="758.1" width="17.4" height="69.3" fill="#aed3e6"/>
<rect x="252.6" y="758.1" width="8.8" height="69.3" fill="#93c6de"/>
<rect x="261.1" y="758.1" width="8.8" height="69.3" fill="#62a7ce"/>
<rect x="269.6" y="758.1" width="8.8" height="69.3" fill="#3b88be"/>
<rect x="278.2" y="758.1" width="8.8" height="69.3" fill="#4291c2"/>
<rect x="286.7" y="758.1" width="8.8" height="69.3" fill="#71b0d3"/>
<rect x="295.2" y="758.1" width="17.4" height="69.3" fill="#aed3e6"/>
<rect x="312.3" y="758.1" width="8.8" height="69.3" fill="#c7e0ed"/>
<rect x="320.8" y="758.1" width="17.4" height="69.3" fill="#d4e6f1"/>
<rect x="337.9" y="758.1" width="8.8" height="69.3" fill="#dbeaf2"/>
<rect x="346.4" y="758.1" width="43" height="69.3" fill="#f3f5f6"/>
<rect x="389.1" y="758.1" width="418.5" height="69.3" fill="#f8f4f2"/>
</g>
<path d="M287.8 827.4L287.8 758.1" stroke="#fff" stroke-width="4.9" stroke-dasharray="18.1 7.8"/>
<path d="M297.5 827.4L297.5 758.1" stroke="#fff" stroke-width="5.0"/>
<rect x="133.1" y="758.1" width="682.7" height="69.3" fill="none" stroke="#333" stroke-width="1.3"/>
<path d="M175.8 827.4L175.8 832.2" stroke="#444" stroke-width="1.5"/>
<text x="175.8" y="855.2" font-size="25" text-anchor="middle">−75</text>
<path d="M303.8 827.4L303.8 832.2" stroke="#444" stroke-width="1.5"/>
<text x="303.8" y="855.2" font-size="25" text-anchor="middle">−60</text>
<path d="M431.8 827.4L431.8 832.2" stroke="#444" stroke-width="1.5"/>
<text x="431.8" y="855.2" font-size="25" text-anchor="middle">−45</text>
<path d="M559.8 827.4L559.8 832.2" stroke="#444" stroke-width="1.5"/>
<text x="559.8" y="855.2" font-size="25" text-anchor="middle">−30</text>
<path d="M687.8 827.4L687.8 832.2" stroke="#444" stroke-width="1.5"/>
<text x="687.8" y="855.2" font-size="25" text-anchor="middle">−15</text>
<path d="M815.8 827.4L815.8 832.2" stroke="#444" stroke-width="1.5"/>
<text x="815.8" y="855.2" font-size="25" text-anchor="middle">0</text>
<rect x="596.9" y="776.9" width="181.9" height="41.8" fill="#fff"/>
<text x="604" y="807" font-size="31.4">HR change</text>
<text x="474" y="889" font-size="31.4" text-anchor="middle">latitude</text>
<g shape-rendering="crispEdges">
<rect x="163.7" y="896.6" width="13.2" height="30.6" fill="#073467"/>
<rect x="176.6" y="896.6" width="13.2" height="30.6" fill="#0e4179"/>
<rect x="189.6" y="896.6" width="13.2" height="30.6" fill="#134c87"/>
<rect x="202.5" y="896.6" width="13.2" height="30.6" fill="#195696"/>
<rect x="215.5" y="896.6" width="13.2" height="30.6" fill="#1f63a8"/>
<rect x="228.4" y="896.6" width="13.2" height="30.6" fill="#266caf"/>
<rect x="241.4" y="896.6" width="13.2" height="30.6" fill="#2c75b4"/>
<rect x="254.3" y="896.6" width="13.2" height="30.6" fill="#3480b9"/>
<rect x="267.3" y="896.6" width="13.2" height="30.6" fill="#3b88be"/>
<rect x="280.2" y="896.6" width="13.2" height="30.6" fill="#4291c2"/>
<rect x="293.2" y="896.6" width="13.2" height="30.6" fill="#529dc8"/>
<rect x="306.1" y="896.6" width="13.2" height="30.6" fill="#62a7ce"/>
<rect x="319.1" y="896.6" width="13.2" height="30.6" fill="#71b0d3"/>
<rect x="332" y="896.6" width="13.2" height="30.6" fill="#84bcd9"/>
<rect x="345" y="896.6" width="13.2" height="30.6" fill="#93c6de"/>
<rect x="357.9" y="896.6" width="13.2" height="30.6" fill="#a0cce2"/>
<rect x="370.9" y="896.6" width="13.2" height="30.6" fill="#aed3e6"/>
<rect x="383.8" y="896.6" width="13.2" height="30.6" fill="#bbdaea"/>
<rect x="396.8" y="896.6" width="13.2" height="30.6" fill="#c7e0ed"/>
<rect x="409.7" y="896.6" width="13.2" height="30.6" fill="#d4e6f1"/>
<rect x="422.7" y="896.6" width="13.2" height="30.6" fill="#dbeaf2"/>
<rect x="435.6" y="896.6" width="13.2" height="30.6" fill="#e3edf3"/>
<rect x="448.6" y="896.6" width="13.2" height="30.6" fill="#ecf2f5"/>
<rect x="461.5" y="896.6" width="13.2" height="30.6" fill="#f3f5f6"/>
<rect x="474.4" y="896.6" width="13.2" height="30.6" fill="#f8f4f2"/>
<rect x="487.4" y="896.6" width="13.2" height="30.6" fill="#f9eee7"/>
<rect x="500.3" y="896.6" width="13.2" height="30.6" fill="#fae8de"/>
<rect x="513.3" y="896.6" width="13.2" height="30.6" fill="#fbe3d4"/>
<rect x="526.2" y="896.6" width="13.2" height="30.6" fill="#fddcc9"/>
<rect x="539.2" y="896.6" width="13.2" height="30.6" fill="#fcd3bc"/>
<rect x="552.1" y="896.6" width="13.2" height="30.6" fill="#fac8af"/>
<rect x="565.1" y="896.6" width="13.2" height="30.6" fill="#f8bb9e"/>
<rect x="578" y="896.6" width="13.2" height="30.6" fill="#f6b191"/>
<rect x="591" y="896.6" width="13.2" height="30.6" fill="#f4a683"/>
<rect x="603.9" y="896.6" width="13.2" height="30.6" fill="#ee9677"/>
<rect x="616.9" y="896.6" width="13.2" height="30.6" fill="#e8896c"/>
<rect x="629.8" y="896.6" width="13.2" height="30.6" fill="#e27b62"/>
<rect x="642.8" y="896.6" width="13.2" height="30.6" fill="#db6b55"/>
<rect x="655.7" y="896.6" width="13.2" height="30.6" fill="#d55d4c"/>
<rect x="668.7" y="896.6" width="13.2" height="30.6" fill="#ce4f45"/>
<rect x="681.6" y="896.6" width="13.2" height="30.6" fill="#c53e3d"/>
<rect x="694.6" y="896.6" width="13.2" height="30.6" fill="#be3036"/>
<rect x="707.5" y="896.6" width="13.2" height="30.6" fill="#b72230"/>
<rect x="720.5" y="896.6" width="13.2" height="30.6" fill="#ab162a"/>
<rect x="733.4" y="896.6" width="13.2" height="30.6" fill="#9c1127"/>
<rect x="746.4" y="896.6" width="13.2" height="30.6" fill="#8d0c25"/>
<rect x="759.3" y="896.6" width="13.2" height="30.6" fill="#7c0722"/>
<rect x="772.3" y="896.6" width="13.2" height="30.6" fill="#6d0220"/>
</g>
<path d="M163.7 896.6L132.4 911.9L163.7 927.2Z" fill="#8b12a9"/>
<path d="M785.2 896.6L816.5 911.9L785.2 927.2Z" fill="#67001f"/>
<path d="M163.7 896.6L785.2 896.6L816.5 911.9L785.2 927.2L163.7 927.2L132.4 911.9Z" fill="none" stroke="#000" stroke-width="1.3" stroke-linejoin="miter"/>
<path d="M163.7 927.2L163.7 933.2" stroke="#000" stroke-width="1.4"/>
<text x="163.7" y="956.5" font-size="25" text-anchor="middle">−30</text>
<path d="M267.3 927.2L267.3 933.2" stroke="#000" stroke-width="1.4"/>
<text x="267.3" y="956.5" font-size="25" text-anchor="middle">−20</text>
<path d="M370.9 927.2L370.9 933.2" stroke="#000" stroke-width="1.4"/>
<text x="370.9" y="956.5" font-size="25" text-anchor="middle">−10</text>
<path d="M474.4 927.2L474.4 933.2" stroke="#000" stroke-width="1.4"/>
<text x="474.4" y="956.5" font-size="25" text-anchor="middle">0</text>
<path d="M578 927.2L578 933.2" stroke="#000" stroke-width="1.4"/>
<text x="578" y="956.5" font-size="25" text-anchor="middle">10</text>
<path d="M681.6 927.2L681.6 933.2" stroke="#000" stroke-width="1.4"/>
<text x="681.6" y="956.5" font-size="25" text-anchor="middle">20</text>
<path d="M785.2 927.2L785.2 933.2" stroke="#000" stroke-width="1.4"/>
<text x="785.2" y="956.5" font-size="25" text-anchor="middle">30</text>
<text x="474" y="990.3" font-size="31.4" text-anchor="middle">sea ice fraction change [%]</text>
<text transform="translate(2,661.1) scale(0.9,0.98)" font-size="42" font-weight="bold" font-family='"Liberation Sans","DejaVu Sans",sans-serif'>b</text>
<clipPath id="cc1"><rect x="129.6" y="1038.3" width="686.4" height="306.7"/></clipPath>
<g clip-path="url(#cc1)" shape-rendering="crispEdges">
<path fill="#d5e7f1" d="M148 1072.7h9v7.8h-9z"/>
<path fill="#d8e9f1" d="M148 1080h9v9h-9z"/>
<path fill="#dae9f2" d="M148 1066.5h9v6.5h-9zM156.6 1072.7h9v7.8h-9z"/>
<path fill="#ddebf2" d="M156.6 1066.5h9v6.5h-9z"/>
<path fill="#e0ecf3" d="M148 1061.6h17.6v5.3h-17.6zM139.5 1072.7h9v7.8h-9zM139.5 1080h9v9h-9zM156.6 1080h9v9h-9zM148 1088.6h9v10.2h-9z"/>
<path fill="#e1edf3" d="M156.6 1057.9h9v4.1h-9z"/>
<path fill="#e4eef4" d="M156.6 1054.9h17.6v3.5h-17.6zM148 1057.9h9v4.1h-9zM139.5 1066.5h9v6.5h-9zM139.5 1088.6h9v10.2h-9zM156.6 1088.6h9v10.2h-9z"/>
<path fill="#e6eff4" d="M173.8 1054.9h9v3.5h-9zM165.2 1057.9h9v4.1h-9z"/>
<path fill="#e9f0f4" d="M165.2 1052.4h9v2.9h-9zM148 1054.9h9v3.5h-9zM139.5 1061.6h9v5.3h-9zM165.2 1061.6h9v5.3h-9zM148 1098.4h9v11.4h-9z"/>
<path fill="#ecf2f5" d="M165.2 1050.6h9v2.2h-9zM156.6 1052.4h9v2.9h-9zM173.8 1052.4h9v2.9h-9zM173.8 1057.9h9v4.1h-9zM165.2 1066.5h9v6.5h-9z"/>
<path fill="#edf2f5" d="M173.8 1050.6h9v2.2h-9zM148 1052.4h9v2.9h-9zM182.4 1054.9h9v3.5h-9zM139.5 1057.9h9v4.1h-9zM173.8 1061.6h9v5.3h-9zM165.2 1072.7h9v7.8h-9zM139.5 1098.4h9v11.4h-9zM156.6 1098.4h9v11.4h-9z"/>
<path fill="#f0f4f6" d="M165.2 1049.3h17.6v1.6h-17.6zM156.6 1050.6h9v2.2h-9zM182.4 1052.4h9v2.9h-9zM139.5 1054.9h9v3.5h-9zM182.4 1057.9h9v4.1h-9z"/>
<path fill="#f2f5f6" d="M165.2 1048.1h17.6v1.6h-17.6zM156.6 1049.3h9v1.6h-9zM182.4 1049.3h9v1.6h-9zM148 1050.6h9v2.2h-9zM182.4 1050.6h9v2.2h-9zM139.5 1052.4h9v2.9h-9z"/>
<path fill="#f5f6f7" d="M165.2 1046.9h17.6v1.6h-17.6zM156.6 1048.1h9v1.6h-9zM148 1049.3h9v1.6h-9zM190.9 1052.4h9v2.9h-9zM190.9 1054.9h9v3.5h-9zM182.4 1061.6h9v5.3h-9zM173.8 1066.5h9v6.5h-9zM165.2 1080h9v9h-9z"/>
<path fill="#f7f6f6" d="M165.2 1045.7h17.6v1.6h-17.6zM148 1046.9h17.6v1.6h-17.6zM182.4 1046.9h9v1.6h-9zM148 1048.1h9v1.6h-9zM182.4 1048.1h9v1.6h-9zM139.5 1049.3h9v1.6h-9zM190.9 1049.3h9v1.6h-9zM139.5 1050.6h9v2.2h-9zM190.9 1050.6h9v2.2h-9zM190.9 1057.9h9v4.1h-9zM182.4 1066.5h9v6.5h-9zM148 1109.5h9v12.7h-9zM156.6 1302.1h51.9v31.1h-51.9zM156.6 1332.7h60.5v31.1h-60.5z"/>
<path fill="#f7f5f4" d="M165.2 1044.4h9v1.6h-9zM139.5 1045.7h26.1v1.6h-26.1zM139.5 1046.9h9v1.6h-9zM139.5 1048.1h9v1.6h-9zM190.9 1048.1h9v1.6h-9zM199.5 1050.6h9v2.2h-9zM199.5 1052.4h9v2.9h-9zM199.5 1054.9h9v3.5h-9zM199.5 1057.9h9v4.1h-9zM190.9 1061.6h9v5.3h-9zM173.8 1072.7h9v7.8h-9zM165.2 1088.6h9v10.2h-9zM182.4 1246.9h26.1v27.4h-26.1zM156.6 1273.8h69v28.6h-69zM491.2 1273.8h60.5v28.6h-60.5zM208.1 1302.1h34.7v31.1h-34.7zM491.2 1302.1h60.5v31.1h-60.5zM216.7 1332.7h34.7v31.1h-34.7zM431.2 1332.7h17.6v31.1h-17.6zM482.7 1332.7h69v31.1h-69z"/>
<path fill="#f8f3f0" d="M139.5 1044.4h26.1v1.6h-26.1zM173.8 1044.4h17.6v1.6h-17.6zM182.4 1045.7h9v1.6h-9zM190.9 1046.9h9v1.6h-9zM199.5 1048.1h9v1.6h-9zM199.5 1049.3h9v1.6h-9zM208.1 1050.6h9v2.2h-9zM208.1 1052.4h9v2.9h-9zM208.1 1054.9h9v3.5h-9zM208.1 1057.9h9v4.1h-9zM199.5 1061.6h9v5.3h-9zM190.9 1066.5h9v6.5h-9zM182.4 1072.7h9v7.8h-9zM139.5 1109.5h9v12.7h-9zM156.6 1109.5h9v12.7h-9zM173.8 1222.3h51.9v24.9h-51.9zM156.6 1246.9h26.1v27.4h-26.1zM208.1 1246.9h43.3v27.4h-43.3zM225.3 1273.8h34.7v28.6h-34.7zM482.7 1273.8h9v28.6h-9zM551.3 1273.8h9v28.6h-9zM242.4 1302.1h26.1v31.1h-26.1zM431.2 1302.1h17.6v31.1h-17.6zM482.7 1302.1h9v31.1h-9zM551.3 1302.1h17.6v31.1h-17.6zM251 1332.7h26.1v31.1h-26.1zM414 1332.7h17.6v31.1h-17.6zM448.3 1332.7h34.7v31.1h-34.7zM551.3 1332.7h26.1v31.1h-26.1z"/>
<path fill="#f8f2ef" d="M139.5 1043.2h34.7v1.6h-34.7zM190.9 1044.4h9v1.6h-9zM190.9 1045.7h9v1.6h-9zM199.5 1046.9h9v1.6h-9zM208.1 1049.3h9v1.6h-9zM216.7 1052.4h9v2.9h-9zM216.7 1054.9h9v3.5h-9zM216.7 1057.9h9v4.1h-9zM208.1 1061.6h9v5.3h-9zM199.5 1066.5h9v6.5h-9zM165.2 1098.4h9v11.4h-9zM182.4 1201.5h69v21.3h-69zM156.6 1222.3h17.6v24.9h-17.6zM225.3 1222.3h43.3v24.9h-43.3zM251 1246.9h34.7v27.4h-34.7zM499.8 1246.9h60.5v27.4h-60.5zM259.6 1273.8h34.7v28.6h-34.7zM474.1 1273.8h9v28.6h-9zM559.9 1273.8h34.7v28.6h-34.7zM268.2 1302.1h34.7v31.1h-34.7zM405.4 1302.1h26.1v31.1h-26.1zM448.3 1302.1h34.7v31.1h-34.7zM568.5 1302.1h34.7v31.1h-34.7zM276.7 1332.7h43.3v31.1h-43.3zM396.9 1332.7h17.6v31.1h-17.6zM577 1332.7h240.6v31.1h-240.6z"/>
<path fill="#f9f0eb" d="M139.5 1042h17.6v1.6h-17.6zM173.8 1043.2h17.6v1.6h-17.6zM199.5 1045.7h9v1.6h-9zM208.1 1048.1h9v1.6h-9zM216.7 1050.6h9v2.2h-9zM225.3 1052.4h9v2.9h-9zM225.3 1054.9h17.6v3.5h-17.6zM225.3 1057.9h17.6v4.1h-17.6zM216.7 1061.6h17.6v5.3h-17.6zM208.1 1066.5h17.6v6.5h-17.6zM190.9 1072.7h17.6v7.8h-17.6zM173.8 1080h9v9h-9zM165.2 1109.5h9v12.7h-9zM233.8 1135.2h17.6v15.1h-17.6zM225.3 1149.9h34.7v16.3h-34.7zM216.7 1165.9h60.5v17.6h-60.5zM182.4 1183.1h103.4v18.8h-103.4zM156.6 1201.5h26.1v21.3h-26.1zM251 1201.5h43.3v21.3h-43.3zM268.2 1222.3h34.7v24.9h-34.7zM285.3 1246.9h34.7v27.4h-34.7zM482.7 1246.9h17.6v27.4h-17.6zM559.9 1246.9h43.3v27.4h-43.3zM293.9 1273.8h60.5v28.6h-60.5zM396.9 1273.8h77.6v28.6h-77.6zM594.2 1273.8h223.5v28.6h-223.5zM302.5 1302.1h103.4v31.1h-103.4zM602.8 1302.1h214.9v31.1h-214.9zM319.6 1332.7h77.6v31.1h-77.6z"/>
<path fill="#f9eee7" d="M156.6 1042h17.6v1.6h-17.6zM190.9 1043.2h9v1.6h-9zM199.5 1044.4h9v1.6h-9zM208.1 1046.9h9v1.6h-9zM216.7 1049.3h9v1.6h-9zM225.3 1050.6h9v2.2h-9zM233.8 1061.6h17.6v5.3h-17.6zM225.3 1066.5h17.6v6.5h-17.6zM208.1 1072.7h34.7v7.8h-34.7zM182.4 1080h9v9h-9zM173.8 1088.6h9v10.2h-9zM233.8 1088.6h17.6v10.2h-17.6zM225.3 1098.4h34.7v11.4h-34.7zM225.3 1109.5h43.3v12.7h-43.3zM216.7 1121.7h51.9v13.9h-51.9zM208.1 1135.2h26.1v15.1h-26.1zM251 1135.2h34.7v15.1h-34.7zM173.8 1149.9h9v16.3h-9zM208.1 1149.9h17.6v16.3h-17.6zM259.6 1149.9h34.7v16.3h-34.7zM173.8 1165.9h43.3v17.6h-43.3zM276.7 1165.9h26.1v17.6h-26.1zM165.2 1183.1h17.6v18.8h-17.6zM285.3 1183.1h26.1v18.8h-26.1zM293.9 1201.5h17.6v21.3h-17.6zM559.9 1201.5h51.9v21.3h-51.9zM302.5 1222.3h26.1v24.9h-26.1zM508.4 1222.3h129.1v24.9h-129.1zM319.6 1246.9h26.1v27.4h-26.1zM456.9 1246.9h26.1v27.4h-26.1zM602.8 1246.9h214.9v27.4h-214.9zM354 1273.8h43.3v28.6h-43.3z"/>
<path fill="#f9ede5" d="M139.5 1040.8h17.6v1.6h-17.6zM173.8 1042h9v1.6h-9zM208.1 1045.7h9v1.6h-9zM216.7 1048.1h9v1.6h-9zM225.3 1049.3h9v1.6h-9zM233.8 1052.4h9v2.9h-9zM242.4 1054.9h9v3.5h-9zM242.4 1057.9h9v4.1h-9zM242.4 1066.5h9v6.5h-9zM242.4 1072.7h9v7.8h-9zM190.9 1080h69v9h-69zM182.4 1088.6h9v10.2h-9zM208.1 1088.6h26.1v10.2h-26.1zM251 1088.6h17.6v10.2h-17.6zM173.8 1098.4h9v11.4h-9zM208.1 1098.4h17.6v11.4h-17.6zM259.6 1098.4h9v11.4h-9zM173.8 1109.5h9v12.7h-9zM208.1 1109.5h17.6v12.7h-17.6zM268.2 1109.5h9v12.7h-9zM165.2 1121.7h17.6v13.9h-17.6zM208.1 1121.7h9v13.9h-9zM268.2 1121.7h26.1v13.9h-26.1zM173.8 1135.2h34.7v15.1h-34.7zM285.3 1135.2h17.6v15.1h-17.6zM165.2 1149.9h9v16.3h-9zM182.4 1149.9h26.1v16.3h-26.1zM293.9 1149.9h17.6v16.3h-17.6zM602.8 1149.9h9v16.3h-9zM165.2 1165.9h9v17.6h-9zM302.5 1165.9h17.6v17.6h-17.6zM585.6 1165.9h43.3v17.6h-43.3zM156.6 1183.1h9v18.8h-9zM311.1 1183.1h9v18.8h-9zM551.3 1183.1h214.9v18.8h-214.9zM311.1 1201.5h17.6v21.3h-17.6zM534.1 1201.5h26.1v21.3h-26.1zM611.4 1201.5h172v21.3h-172zM328.2 1222.3h17.6v24.9h-17.6zM482.7 1222.3h26.1v24.9h-26.1zM637.1 1222.3h180.6v24.9h-180.6zM345.4 1246.9h111.9v27.4h-111.9z"/>
<path fill="#faeae1" d="M139.5 1039.5h9v1.6h-9zM156.6 1040.8h17.6v1.6h-17.6zM182.4 1042h9v1.6h-9zM199.5 1043.2h9v1.6h-9zM208.1 1044.4h9v1.6h-9zM216.7 1046.9h9v1.6h-9zM233.8 1050.6h9v2.2h-9zM783 1054.9h9v3.5h-9zM251 1057.9h9v4.1h-9zM251 1061.6h9v5.3h-9zM251 1066.5h9v6.5h-9zM251 1072.7h9v7.8h-9zM259.6 1080h9v9h-9zM190.9 1088.6h17.6v10.2h-17.6zM182.4 1098.4h9v11.4h-9zM268.2 1098.4h17.6v11.4h-17.6zM182.4 1109.5h9v12.7h-9zM276.7 1109.5h17.6v12.7h-17.6zM156.6 1121.7h9v13.9h-9zM182.4 1121.7h26.1v13.9h-26.1zM293.9 1121.7h9v13.9h-9zM165.2 1135.2h9v15.1h-9zM302.5 1135.2h17.6v15.1h-17.6zM311.1 1149.9h17.6v16.3h-17.6zM585.6 1149.9h17.6v16.3h-17.6zM611.4 1149.9h43.3v16.3h-43.3zM156.6 1165.9h9v17.6h-9zM319.6 1165.9h9v17.6h-9zM559.9 1165.9h26.1v17.6h-26.1zM628.5 1165.9h129.1v17.6h-129.1zM319.6 1183.1h17.6v18.8h-17.6zM534.1 1183.1h17.6v18.8h-17.6zM765.8 1183.1h34.7v18.8h-34.7zM328.2 1201.5h17.6v21.3h-17.6zM508.4 1201.5h26.1v21.3h-26.1zM783 1201.5h34.7v21.3h-34.7zM345.4 1222.3h26.1v24.9h-26.1zM448.3 1222.3h34.7v24.9h-34.7z"/>
<path fill="#fae9df" d="M139.5 1038.3h9v1.6h-9zM148 1039.5h9v1.6h-9zM173.8 1040.8h9v1.6h-9zM190.9 1042h9v1.6h-9zM216.7 1045.7h9v1.6h-9zM225.3 1048.1h9v1.6h-9zM233.8 1049.3h9v1.6h-9zM242.4 1052.4h9v2.9h-9zM251 1054.9h9v3.5h-9zM774.4 1054.9h9v3.5h-9zM791.5 1054.9h9v3.5h-9zM259.6 1066.5h9v6.5h-9zM259.6 1072.7h9v7.8h-9zM268.2 1088.6h17.6v10.2h-17.6zM190.9 1098.4h17.6v11.4h-17.6zM285.3 1098.4h9v11.4h-9zM190.9 1109.5h17.6v12.7h-17.6zM293.9 1109.5h17.6v12.7h-17.6zM302.5 1121.7h17.6v13.9h-17.6zM319.6 1135.2h9v15.1h-9zM594.2 1135.2h51.9v15.1h-51.9zM156.6 1149.9h9v16.3h-9zM328.2 1149.9h9v16.3h-9zM568.5 1149.9h17.6v16.3h-17.6zM654.3 1149.9h77.6v16.3h-77.6zM328.2 1165.9h9v17.6h-9zM551.3 1165.9h9v17.6h-9zM757.2 1165.9h17.6v17.6h-17.6zM336.8 1183.1h17.6v18.8h-17.6zM517 1183.1h17.6v18.8h-17.6zM800.1 1183.1h17.6v18.8h-17.6zM345.4 1201.5h17.6v21.3h-17.6zM499.8 1201.5h9v21.3h-9zM371.1 1222.3h77.6v24.9h-77.6z"/>
<path fill="#fae7dc" d="M156.6 1039.5h17.6v1.6h-17.6zM208.1 1043.2h9v1.6h-9zM216.7 1044.4h9v1.6h-9zM225.3 1046.9h9v1.6h-9zM242.4 1050.6h9v2.2h-9zM259.6 1057.9h9v4.1h-9zM259.6 1061.6h9v5.3h-9zM268.2 1072.7h9v7.8h-9zM268.2 1080h9v9h-9zM293.9 1098.4h9v11.4h-9zM311.1 1109.5h9v12.7h-9zM319.6 1121.7h9v13.9h-9zM328.2 1135.2h9v15.1h-9zM585.6 1135.2h9v15.1h-9zM645.7 1135.2h26.1v15.1h-26.1zM559.9 1149.9h9v16.3h-9zM731.5 1149.9h34.7v16.3h-34.7zM336.8 1165.9h9v17.6h-9zM542.7 1165.9h9v17.6h-9zM774.4 1165.9h26.1v17.6h-26.1zM354 1183.1h9v18.8h-9zM508.4 1183.1h9v18.8h-9zM362.5 1201.5h26.1v21.3h-26.1zM482.7 1201.5h17.6v21.3h-17.6z"/>
<path fill="#fbe5d8" d="M148 1038.3h17.6v1.6h-17.6zM182.4 1040.8h9v1.6h-9zM199.5 1042h9v1.6h-9zM233.8 1048.1h9v1.6h-9zM259.6 1054.9h9v3.5h-9zM765.8 1054.9h9v3.5h-9zM800.1 1054.9h9v3.5h-9zM268.2 1066.5h9v6.5h-9zM276.7 1080h9v9h-9zM285.3 1088.6h9v10.2h-9zM319.6 1109.5h9v12.7h-9zM594.2 1121.7h60.5v13.9h-60.5zM156.6 1135.2h9v15.1h-9zM577 1135.2h9v15.1h-9zM671.4 1135.2h26.1v15.1h-26.1zM336.8 1149.9h9v16.3h-9zM551.3 1149.9h9v16.3h-9zM765.8 1149.9h9v16.3h-9zM345.4 1165.9h17.6v17.6h-17.6zM525.6 1165.9h17.6v17.6h-17.6zM800.1 1165.9h17.6v17.6h-17.6zM362.5 1183.1h17.6v18.8h-17.6zM499.8 1183.1h9v18.8h-9zM388.3 1201.5h34.7v21.3h-34.7zM456.9 1201.5h26.1v21.3h-26.1z"/>
<path fill="#fbe4d6" d="M173.8 1039.5h9v1.6h-9zM190.9 1040.8h9v1.6h-9zM216.7 1043.2h9v1.6h-9zM225.3 1045.7h9v1.6h-9zM242.4 1049.3h9v1.6h-9zM251 1052.4h9v2.9h-9zM783 1057.9h17.6v4.1h-17.6zM268.2 1061.6h9v5.3h-9zM276.7 1072.7h9v7.8h-9zM285.3 1080h9v9h-9zM293.9 1088.6h9v10.2h-9zM302.5 1098.4h9v11.4h-9zM328.2 1121.7h9v13.9h-9zM654.3 1121.7h17.6v13.9h-17.6zM336.8 1135.2h9v15.1h-9zM568.5 1135.2h9v15.1h-9zM697.2 1135.2h69v15.1h-69zM345.4 1149.9h9v16.3h-9zM542.7 1149.9h9v16.3h-9zM774.4 1149.9h26.1v16.3h-26.1zM362.5 1165.9h9v17.6h-9zM517 1165.9h9v17.6h-9zM379.7 1183.1h17.6v18.8h-17.6zM491.2 1183.1h9v18.8h-9zM422.6 1201.5h34.7v21.3h-34.7z"/>
<path fill="#fce2d2" d="M165.2 1038.3h9v1.6h-9zM182.4 1039.5h9v1.6h-9zM208.1 1042h9v1.6h-9zM225.3 1044.4h9v1.6h-9zM233.8 1046.9h9v1.6h-9zM268.2 1057.9h9v4.1h-9zM774.4 1057.9h9v4.1h-9zM276.7 1066.5h9v6.5h-9zM311.1 1098.4h9v11.4h-9zM328.2 1109.5h9v12.7h-9zM585.6 1121.7h9v13.9h-9zM671.4 1121.7h26.1v13.9h-26.1zM559.9 1135.2h9v15.1h-9zM765.8 1135.2h26.1v15.1h-26.1zM354 1149.9h9v16.3h-9zM534.1 1149.9h9v16.3h-9zM800.1 1149.9h17.6v16.3h-17.6zM371.1 1165.9h9v17.6h-9zM508.4 1165.9h9v17.6h-9zM396.9 1183.1h17.6v18.8h-17.6zM482.7 1183.1h9v18.8h-9z"/>
<path fill="#fce0d0" d="M173.8 1038.3h9v1.6h-9zM199.5 1040.8h9v1.6h-9zM242.4 1048.1h9v1.6h-9zM251 1050.6h9v2.2h-9zM757.2 1054.9h9v3.5h-9zM808.7 1054.9h9v3.5h-9zM765.8 1057.9h9v4.1h-9zM800.1 1057.9h9v4.1h-9zM276.7 1061.6h9v5.3h-9zM285.3 1072.7h9v7.8h-9zM293.9 1080h9v9h-9zM302.5 1088.6h9v10.2h-9zM319.6 1098.4h9v11.4h-9zM602.8 1109.5h69v12.7h-69zM336.8 1121.7h9v13.9h-9zM577 1121.7h9v13.9h-9zM697.2 1121.7h34.7v13.9h-34.7zM345.4 1135.2h9v15.1h-9zM551.3 1135.2h9v15.1h-9zM791.5 1135.2h17.6v15.1h-17.6zM362.5 1149.9h9v16.3h-9zM517 1149.9h17.6v16.3h-17.6zM379.7 1165.9h9v17.6h-9zM499.8 1165.9h9v17.6h-9zM414 1183.1h17.6v18.8h-17.6zM456.9 1183.1h26.1v18.8h-26.1z"/>
<path fill="#fcdecd" d="M190.9 1039.5h9v1.6h-9zM216.7 1042h9v1.6h-9zM225.3 1043.2h9v1.6h-9zM233.8 1045.7h9v1.6h-9zM259.6 1052.4h9v2.9h-9zM774.4 1052.4h26.1v2.9h-26.1zM268.2 1054.9h9v3.5h-9zM285.3 1066.5h9v6.5h-9zM311.1 1088.6h9v10.2h-9zM594.2 1109.5h9v12.7h-9zM671.4 1109.5h26.1v12.7h-26.1zM148 1121.7h9v13.9h-9zM568.5 1121.7h9v13.9h-9zM731.5 1121.7h34.7v13.9h-34.7zM354 1135.2h9v15.1h-9zM542.7 1135.2h9v15.1h-9zM808.7 1135.2h9v15.1h-9zM371.1 1149.9h9v16.3h-9zM388.3 1165.9h9v17.6h-9zM431.2 1183.1h26.1v18.8h-26.1z"/>
<path fill="#fddcc9" d="M182.4 1038.3h9v1.6h-9zM208.1 1040.8h9v1.6h-9zM233.8 1044.4h9v1.6h-9zM251 1049.3h9v1.6h-9zM276.7 1057.9h9v4.1h-9zM293.9 1072.7h9v7.8h-9zM302.5 1080h9v9h-9zM319.6 1088.6h9v10.2h-9zM328.2 1098.4h9v11.4h-9zM619.9 1098.4h34.7v11.4h-34.7zM336.8 1109.5h9v12.7h-9zM585.6 1109.5h9v12.7h-9zM697.2 1109.5h26.1v12.7h-26.1zM345.4 1121.7h9v13.9h-9zM559.9 1121.7h9v13.9h-9zM765.8 1121.7h43.3v13.9h-43.3zM362.5 1135.2h9v15.1h-9zM534.1 1135.2h9v15.1h-9zM508.4 1149.9h9v16.3h-9zM396.9 1165.9h9v17.6h-9zM491.2 1165.9h9v17.6h-9z"/>
<path fill="#fddbc7" d="M199.5 1039.5h9v1.6h-9zM242.4 1046.9h9v1.6h-9zM765.8 1052.4h9v2.9h-9zM800.1 1052.4h9v2.9h-9zM748.6 1054.9h9v3.5h-9zM757.2 1057.9h9v4.1h-9zM808.7 1057.9h9v4.1h-9zM285.3 1061.6h9v5.3h-9zM302.5 1072.7h9v7.8h-9zM311.1 1080h9v9h-9zM602.8 1098.4h17.6v11.4h-17.6zM654.3 1098.4h26.1v11.4h-26.1zM577 1109.5h9v12.7h-9zM722.9 1109.5h26.1v12.7h-26.1zM139.5 1121.7h9v13.9h-9zM551.3 1121.7h9v13.9h-9zM808.7 1121.7h9v13.9h-9zM525.6 1135.2h9v15.1h-9zM379.7 1149.9h9v16.3h-9zM405.4 1165.9h17.6v17.6h-17.6zM474.1 1165.9h17.6v17.6h-17.6z"/>
<path fill="#fcd7c2" d="M190.9 1038.3h9v1.6h-9zM216.7 1040.8h9v1.6h-9zM225.3 1042h9v1.6h-9zM259.6 1050.6h9v2.2h-9zM276.7 1054.9h9v3.5h-9zM783 1061.6h17.6v5.3h-17.6zM293.9 1066.5h9v6.5h-9zM319.6 1080h9v9h-9zM328.2 1088.6h9v10.2h-9zM619.9 1088.6h43.3v10.2h-43.3zM336.8 1098.4h9v11.4h-9zM594.2 1098.4h9v11.4h-9zM680 1098.4h17.6v11.4h-17.6zM345.4 1109.5h9v12.7h-9zM748.6 1109.5h17.6v12.7h-17.6zM354 1121.7h9v13.9h-9zM371.1 1135.2h9v15.1h-9zM517 1135.2h9v15.1h-9zM388.3 1149.9h9v16.3h-9zM499.8 1149.9h9v16.3h-9zM422.6 1165.9h9v17.6h-9zM465.5 1165.9h9v17.6h-9z"/>
<path fill="#fcd5bf" d="M208.1 1039.5h9v1.6h-9zM233.8 1043.2h9v1.6h-9zM242.4 1045.7h9v1.6h-9zM251 1048.1h9v1.6h-9zM783 1050.6h9v2.2h-9zM268.2 1052.4h9v2.9h-9zM808.7 1052.4h9v2.9h-9zM285.3 1057.9h9v4.1h-9zM748.6 1057.9h9v4.1h-9zM774.4 1061.6h9v5.3h-9zM311.1 1072.7h9v7.8h-9zM645.7 1072.7h9v7.8h-9zM628.5 1080h26.1v9h-26.1zM602.8 1088.6h17.6v10.2h-17.6zM662.8 1088.6h9v10.2h-9zM585.6 1098.4h9v11.4h-9zM697.2 1098.4h17.6v11.4h-17.6zM568.5 1109.5h9v12.7h-9zM765.8 1109.5h51.9v12.7h-51.9zM362.5 1121.7h9v13.9h-9zM542.7 1121.7h9v13.9h-9zM396.9 1149.9h9v16.3h-9zM491.2 1149.9h9v16.3h-9z"/>
<path fill="#fbd0b9" d="M199.5 1038.3h9v1.6h-9zM774.4 1050.6h9v2.2h-9zM791.5 1050.6h9v2.2h-9zM740.1 1054.9h9v3.5h-9zM293.9 1061.6h9v5.3h-9zM765.8 1061.6h9v5.3h-9zM800.1 1061.6h9v5.3h-9zM302.5 1066.5h9v6.5h-9zM319.6 1072.7h9v7.8h-9zM637.1 1072.7h9v7.8h-9zM654.3 1072.7h9v7.8h-9zM328.2 1080h9v9h-9zM619.9 1080h9v9h-9zM654.3 1080h9v9h-9zM594.2 1088.6h9v10.2h-9zM671.4 1088.6h9v10.2h-9zM714.3 1098.4h9v11.4h-9zM354 1109.5h9v12.7h-9zM559.9 1109.5h9v12.7h-9zM534.1 1121.7h9v13.9h-9zM379.7 1135.2h9v15.1h-9zM508.4 1135.2h9v15.1h-9zM431.2 1165.9h9v17.6h-9zM448.3 1165.9h17.6v17.6h-17.6z"/>
<path fill="#fbccb4" d="M216.7 1039.5h9v1.6h-9zM225.3 1040.8h9v1.6h-9zM233.8 1042h9v1.6h-9zM242.4 1044.4h9v1.6h-9zM259.6 1049.3h9v1.6h-9zM800.1 1050.6h9v2.2h-9zM757.2 1052.4h9v2.9h-9zM285.3 1054.9h9v3.5h-9zM740.1 1057.9h9v4.1h-9zM757.2 1061.6h9v5.3h-9zM311.1 1066.5h9v6.5h-9zM628.5 1072.7h9v7.8h-9zM662.8 1072.7h9v7.8h-9zM611.4 1080h9v9h-9zM662.8 1080h9v9h-9zM336.8 1088.6h9v10.2h-9zM680 1088.6h17.6v10.2h-17.6zM345.4 1098.4h9v11.4h-9zM577 1098.4h9v11.4h-9zM722.9 1098.4h9v11.4h-9zM551.3 1109.5h9v12.7h-9zM371.1 1121.7h9v13.9h-9zM525.6 1121.7h9v13.9h-9zM405.4 1149.9h9v16.3h-9zM482.7 1149.9h9v16.3h-9zM439.8 1165.9h9v17.6h-9z"/>
<path fill="#facab1" d="M208.1 1038.3h9v1.6h-9zM251 1046.9h9v1.6h-9zM765.8 1050.6h9v2.2h-9zM731.5 1054.9h9v3.5h-9zM293.9 1057.9h9v4.1h-9zM302.5 1061.6h9v5.3h-9zM748.6 1061.6h9v5.3h-9zM808.7 1061.6h9v5.3h-9zM328.2 1072.7h9v7.8h-9zM619.9 1072.7h9v7.8h-9zM671.4 1072.7h9v7.8h-9zM602.8 1080h9v9h-9zM671.4 1080h9v9h-9zM585.6 1088.6h9v10.2h-9zM568.5 1098.4h9v11.4h-9zM731.5 1098.4h26.1v11.4h-26.1zM362.5 1109.5h9v12.7h-9zM517 1121.7h9v13.9h-9zM388.3 1135.2h9v15.1h-9zM499.8 1135.2h9v15.1h-9zM414 1149.9h9v16.3h-9zM474.1 1149.9h9v16.3h-9z"/>
<path fill="#f9c6ac" d="M225.3 1039.5h9v1.6h-9zM233.8 1040.8h9v1.6h-9zM242.4 1043.2h9v1.6h-9zM268.2 1050.6h9v2.2h-9zM808.7 1050.6h9v2.2h-9zM748.6 1052.4h9v2.9h-9zM731.5 1057.9h9v4.1h-9zM740.1 1061.6h9v5.3h-9zM319.6 1066.5h9v6.5h-9zM611.4 1072.7h9v7.8h-9zM680 1072.7h9v7.8h-9zM594.2 1080h9v9h-9zM680 1080h9v9h-9zM697.2 1088.6h17.6v10.2h-17.6zM354 1098.4h9v11.4h-9zM757.2 1098.4h60.5v11.4h-60.5zM534.1 1109.5h17.6v12.7h-17.6zM422.6 1149.9h9v16.3h-9z"/>
<path fill="#f9c4a9" d="M216.7 1038.3h9v1.6h-9zM276.7 1052.4h9v2.9h-9zM293.9 1054.9h9v3.5h-9zM302.5 1057.9h9v4.1h-9zM722.9 1057.9h9v4.1h-9zM311.1 1061.6h9v5.3h-9zM731.5 1061.6h9v5.3h-9zM654.3 1066.5h34.7v6.5h-34.7zM688.6 1072.7h9v7.8h-9zM336.8 1080h9v9h-9zM688.6 1080h9v9h-9zM345.4 1088.6h9v10.2h-9zM577 1088.6h9v10.2h-9zM559.9 1098.4h9v11.4h-9zM525.6 1109.5h9v12.7h-9zM379.7 1121.7h9v13.9h-9zM508.4 1121.7h9v13.9h-9zM396.9 1135.2h9v15.1h-9zM465.5 1149.9h9v16.3h-9z"/>
<path fill="#f8bfa4" d="M242.4 1042h9v1.6h-9zM251 1045.7h9v1.6h-9zM259.6 1048.1h9v1.6h-9zM757.2 1050.6h9v2.2h-9zM722.9 1054.9h9v3.5h-9zM319.6 1061.6h9v5.3h-9zM705.7 1061.6h26.1v5.3h-26.1zM328.2 1066.5h9v6.5h-9zM637.1 1066.5h17.6v6.5h-17.6zM688.6 1066.5h17.6v6.5h-17.6zM602.8 1072.7h9v7.8h-9zM585.6 1080h9v9h-9zM697.2 1080h9v9h-9zM568.5 1088.6h9v10.2h-9zM714.3 1088.6h17.6v10.2h-17.6zM362.5 1098.4h9v11.4h-9zM551.3 1098.4h9v11.4h-9zM371.1 1109.5h9v12.7h-9zM517 1109.5h9v12.7h-9zM491.2 1135.2h9v15.1h-9zM456.9 1149.9h9v16.3h-9z"/>
<path fill="#f8bb9e" d="M225.3 1038.3h9v1.6h-9zM233.8 1039.5h9v1.6h-9zM774.4 1049.3h26.1v1.6h-26.1zM740.1 1052.4h9v2.9h-9zM302.5 1054.9h9v3.5h-9zM311.1 1057.9h9v4.1h-9zM714.3 1057.9h9v4.1h-9zM680 1061.6h26.1v5.3h-26.1zM705.7 1066.5h9v6.5h-9zM336.8 1072.7h9v7.8h-9zM594.2 1072.7h9v7.8h-9zM697.2 1072.7h9v7.8h-9zM354 1088.6h9v10.2h-9zM731.5 1088.6h9v10.2h-9zM542.7 1098.4h9v11.4h-9zM388.3 1121.7h9v13.9h-9zM405.4 1135.2h9v15.1h-9zM431.2 1149.9h9v16.3h-9zM448.3 1149.9h9v16.3h-9z"/>
<path fill="#f7b99c" d="M242.4 1040.8h9v1.6h-9zM268.2 1049.3h9v1.6h-9zM714.3 1054.9h9v3.5h-9zM319.6 1057.9h9v4.1h-9zM705.7 1057.9h9v4.1h-9zM671.4 1061.6h9v5.3h-9zM628.5 1066.5h9v6.5h-9zM714.3 1066.5h17.6v6.5h-17.6zM345.4 1080h9v9h-9zM577 1080h9v9h-9zM705.7 1080h9v9h-9zM559.9 1088.6h9v10.2h-9zM740.1 1088.6h17.6v10.2h-17.6zM534.1 1098.4h9v11.4h-9zM379.7 1109.5h9v12.7h-9zM499.8 1121.7h9v13.9h-9zM482.7 1135.2h9v15.1h-9zM439.8 1149.9h9v16.3h-9z"/>
<path fill="#f7b596" d="M233.8 1038.3h9v1.6h-9zM251 1044.4h9v1.6h-9zM259.6 1046.9h9v1.6h-9zM765.8 1049.3h9v1.6h-9zM800.1 1049.3h9v1.6h-9zM276.7 1050.6h9v2.2h-9zM748.6 1050.6h9v2.2h-9zM285.3 1052.4h9v2.9h-9zM311.1 1054.9h9v3.5h-9zM705.7 1054.9h9v3.5h-9zM688.6 1057.9h17.6v4.1h-17.6zM328.2 1061.6h9v5.3h-9zM662.8 1061.6h9v5.3h-9zM731.5 1066.5h34.7v6.5h-34.7zM783 1066.5h34.7v6.5h-34.7zM585.6 1072.7h9v7.8h-9zM705.7 1072.7h9v7.8h-9zM714.3 1080h9v9h-9zM551.3 1088.6h9v10.2h-9zM757.2 1088.6h9v10.2h-9zM371.1 1098.4h9v11.4h-9zM525.6 1098.4h9v11.4h-9zM508.4 1109.5h9v12.7h-9zM414 1135.2h9v15.1h-9z"/>
<path fill="#f6b394" d="M242.4 1039.5h9v1.6h-9zM808.7 1049.3h9v1.6h-9zM731.5 1052.4h9v2.9h-9zM319.6 1054.9h9v3.5h-9zM654.3 1061.6h9v5.3h-9zM336.8 1066.5h9v6.5h-9zM619.9 1066.5h9v6.5h-9zM765.8 1066.5h17.6v6.5h-17.6zM345.4 1072.7h9v7.8h-9zM714.3 1072.7h9v7.8h-9zM354 1080h9v9h-9zM568.5 1080h9v9h-9zM722.9 1080h9v9h-9zM362.5 1088.6h9v10.2h-9zM765.8 1088.6h51.9v10.2h-51.9zM517 1098.4h9v11.4h-9zM396.9 1121.7h9v13.9h-9zM148 1135.2h9v15.1h-9zM474.1 1135.2h9v15.1h-9z"/>
<path fill="#f6af8e" d="M251 1043.2h9v1.6h-9zM268.2 1048.1h9v1.6h-9zM697.2 1054.9h9v3.5h-9zM328.2 1057.9h9v4.1h-9zM680 1057.9h9v4.1h-9zM645.7 1061.6h9v5.3h-9zM577 1072.7h9v7.8h-9zM722.9 1072.7h9v7.8h-9zM559.9 1080h9v9h-9zM731.5 1080h9v9h-9zM542.7 1088.6h9v10.2h-9zM491.2 1121.7h9v13.9h-9zM422.6 1135.2h9v15.1h-9z"/>
<path fill="#f5aa89" d="M242.4 1038.3h9v1.6h-9zM251 1042h9v1.6h-9zM259.6 1045.7h9v1.6h-9zM757.2 1049.3h9v1.6h-9zM740.1 1050.6h9v2.2h-9zM293.9 1052.4h9v2.9h-9zM722.9 1052.4h9v2.9h-9zM688.6 1054.9h9v3.5h-9zM671.4 1057.9h9v4.1h-9zM637.1 1061.6h9v5.3h-9zM611.4 1066.5h9v6.5h-9zM731.5 1072.7h9v7.8h-9zM740.1 1080h9v9h-9zM534.1 1088.6h9v10.2h-9zM388.3 1109.5h9v12.7h-9zM499.8 1109.5h9v12.7h-9zM405.4 1121.7h9v13.9h-9zM139.5 1135.2h9v15.1h-9z"/>
<path fill="#f5a886" d="M276.7 1049.3h9v1.6h-9zM680 1054.9h9v3.5h-9zM662.8 1057.9h9v4.1h-9zM336.8 1061.6h9v5.3h-9zM345.4 1066.5h9v6.5h-9zM602.8 1066.5h9v6.5h-9zM354 1072.7h9v7.8h-9zM568.5 1072.7h9v7.8h-9zM362.5 1080h9v9h-9zM551.3 1080h9v9h-9zM748.6 1080h9v9h-9zM371.1 1088.6h9v10.2h-9zM525.6 1088.6h9v10.2h-9zM379.7 1098.4h9v11.4h-9zM508.4 1098.4h9v11.4h-9zM465.5 1135.2h9v15.1h-9z"/>
<path fill="#f3a481" d="M251 1040.8h9v1.6h-9zM285.3 1050.6h9v2.2h-9zM714.3 1052.4h9v2.9h-9zM328.2 1054.9h9v3.5h-9zM654.3 1057.9h9v4.1h-9zM740.1 1072.7h9v7.8h-9zM534.1 1080h17.6v9h-17.6zM757.2 1080h9v9h-9zM808.7 1080h9v9h-9zM517 1088.6h9v10.2h-9zM396.9 1109.5h9v12.7h-9zM482.7 1121.7h9v13.9h-9zM148 1149.9h9v16.3h-9z"/>
<path fill="#f2a17f" d="M251 1039.5h9v1.6h-9zM268.2 1046.9h9v1.6h-9zM774.4 1048.1h17.6v1.6h-17.6zM748.6 1049.3h9v1.6h-9zM731.5 1050.6h9v2.2h-9zM302.5 1052.4h9v2.9h-9zM671.4 1054.9h9v3.5h-9zM628.5 1061.6h9v5.3h-9zM594.2 1066.5h9v6.5h-9zM748.6 1072.7h9v7.8h-9zM525.6 1080h9v9h-9zM765.8 1080h9v9h-9zM791.5 1080h17.6v9h-17.6zM414 1121.7h9v13.9h-9zM431.2 1135.2h9v15.1h-9zM456.9 1135.2h9v15.1h-9z"/>
<path fill="#f09c7b" d="M251 1038.3h9v1.6h-9zM259.6 1044.4h9v1.6h-9zM791.5 1048.1h9v1.6h-9zM311.1 1052.4h9v2.9h-9zM697.2 1052.4h17.6v2.9h-17.6zM336.8 1057.9h9v4.1h-9zM645.7 1057.9h9v4.1h-9zM362.5 1072.7h9v7.8h-9zM534.1 1072.7h34.7v7.8h-34.7zM808.7 1072.7h9v7.8h-9zM371.1 1080h9v9h-9zM517 1080h9v9h-9zM774.4 1080h17.6v9h-17.6zM379.7 1088.6h9v10.2h-9zM508.4 1088.6h9v10.2h-9zM388.3 1098.4h9v11.4h-9zM499.8 1098.4h9v11.4h-9zM491.2 1109.5h9v12.7h-9zM439.8 1135.2h17.6v15.1h-17.6zM139.5 1149.9h9v16.3h-9zM139.5 1165.9h9v17.6h-9z"/>
<path fill="#ee9677" d="M276.7 1048.1h9v1.6h-9zM765.8 1048.1h9v1.6h-9zM740.1 1049.3h9v1.6h-9zM722.9 1050.6h9v2.2h-9zM319.6 1052.4h9v2.9h-9zM662.8 1054.9h9v3.5h-9zM345.4 1061.6h9v5.3h-9zM619.9 1061.6h9v5.3h-9zM354 1066.5h9v6.5h-9zM585.6 1066.5h9v6.5h-9zM517 1072.7h17.6v7.8h-17.6zM757.2 1072.7h9v7.8h-9zM800.1 1072.7h9v7.8h-9zM474.1 1121.7h9v13.9h-9z"/>
<path fill="#ec9374" d="M259.6 1042h9v1.6h-9zM259.6 1043.2h9v1.6h-9zM800.1 1048.1h9v1.6h-9zM285.3 1049.3h9v1.6h-9zM293.9 1050.6h9v2.2h-9zM688.6 1052.4h9v2.9h-9zM654.3 1054.9h9v3.5h-9zM637.1 1057.9h9v4.1h-9zM577 1066.5h9v6.5h-9zM765.8 1072.7h9v7.8h-9zM508.4 1080h9v9h-9zM405.4 1109.5h9v12.7h-9zM148 1165.9h9v17.6h-9z"/>
<path fill="#ea8e70" d="M259.6 1040.8h9v1.6h-9zM268.2 1045.7h9v1.6h-9zM757.2 1048.1h9v1.6h-9zM808.7 1048.1h9v1.6h-9zM714.3 1050.6h9v2.2h-9zM680 1052.4h9v2.9h-9zM611.4 1061.6h9v5.3h-9zM371.1 1072.7h9v7.8h-9zM508.4 1072.7h9v7.8h-9zM774.4 1072.7h26.1v7.8h-26.1zM422.6 1121.7h9v13.9h-9z"/>
<path fill="#e98b6e" d="M259.6 1039.5h9v1.6h-9zM731.5 1049.3h9v1.6h-9zM302.5 1050.6h9v2.2h-9zM705.7 1050.6h9v2.2h-9zM328.2 1052.4h9v2.9h-9zM671.4 1052.4h9v2.9h-9zM336.8 1054.9h9v3.5h-9zM645.7 1054.9h9v3.5h-9zM628.5 1057.9h9v4.1h-9zM354 1061.6h9v5.3h-9zM362.5 1066.5h9v6.5h-9zM517 1066.5h34.7v6.5h-34.7zM568.5 1066.5h9v6.5h-9zM379.7 1080h9v9h-9zM388.3 1088.6h9v10.2h-9zM499.8 1088.6h9v10.2h-9zM396.9 1098.4h9v11.4h-9zM491.2 1098.4h9v11.4h-9zM414 1109.5h9v12.7h-9zM482.7 1109.5h9v12.7h-9z"/>
<path fill="#e6866a" d="M259.6 1038.3h9v1.6h-9zM276.7 1046.9h9v1.6h-9zM697.2 1050.6h9v2.2h-9zM345.4 1057.9h9v4.1h-9zM602.8 1061.6h9v5.3h-9zM551.3 1066.5h17.6v6.5h-17.6zM465.5 1121.7h9v13.9h-9z"/>
<path fill="#e48066" d="M268.2 1044.4h9v1.6h-9zM285.3 1048.1h9v1.6h-9zM748.6 1048.1h9v1.6h-9zM293.9 1049.3h9v1.6h-9zM722.9 1049.3h9v1.6h-9zM311.1 1050.6h9v2.2h-9zM688.6 1050.6h9v2.2h-9zM662.8 1052.4h9v2.9h-9zM637.1 1054.9h9v3.5h-9zM508.4 1066.5h9v6.5h-9zM499.8 1080h9v9h-9z"/>
<path fill="#e37e64" d="M774.4 1046.9h9v1.6h-9zM319.6 1050.6h9v2.2h-9zM680 1050.6h9v2.2h-9zM654.3 1052.4h9v2.9h-9zM619.9 1057.9h9v4.1h-9zM362.5 1061.6h9v5.3h-9zM517 1061.6h26.1v5.3h-26.1zM594.2 1061.6h9v5.3h-9zM379.7 1072.7h9v7.8h-9zM499.8 1072.7h9v7.8h-9zM431.2 1121.7h9v13.9h-9zM456.9 1121.7h9v13.9h-9z"/>
<path fill="#e17860" d="M268.2 1043.2h9v1.6h-9zM765.8 1046.9h9v1.6h-9zM783 1046.9h9v1.6h-9zM740.1 1048.1h9v1.6h-9zM714.3 1049.3h9v1.6h-9zM671.4 1050.6h9v2.2h-9zM645.7 1052.4h9v2.9h-9zM345.4 1054.9h9v3.5h-9zM354 1057.9h9v4.1h-9zM508.4 1061.6h9v5.3h-9zM542.7 1061.6h9v5.3h-9zM585.6 1061.6h9v5.3h-9zM371.1 1066.5h9v6.5h-9zM388.3 1080h9v9h-9zM396.9 1088.6h9v10.2h-9zM491.2 1088.6h9v10.2h-9zM405.4 1098.4h9v11.4h-9zM482.7 1098.4h9v11.4h-9zM474.1 1109.5h9v12.7h-9zM448.3 1121.7h9v13.9h-9z"/>
<path fill="#df765e" d="M268.2 1040.8h9v1.6h-9zM268.2 1042h9v1.6h-9zM276.7 1045.7h9v1.6h-9zM791.5 1046.9h9v1.6h-9zM302.5 1049.3h9v1.6h-9zM697.2 1049.3h17.6v1.6h-17.6zM662.8 1050.6h9v2.2h-9zM628.5 1054.9h9v3.5h-9zM611.4 1057.9h9v4.1h-9zM577 1061.6h9v5.3h-9zM499.8 1066.5h9v6.5h-9zM491.2 1080h9v9h-9zM439.8 1121.7h9v13.9h-9z"/>
<path fill="#dd7059" d="M268.2 1038.3h9v1.6h-9zM268.2 1039.5h9v1.6h-9zM285.3 1046.9h9v1.6h-9zM800.1 1046.9h9v1.6h-9zM293.9 1048.1h9v1.6h-9zM731.5 1048.1h9v1.6h-9zM311.1 1049.3h9v1.6h-9zM688.6 1049.3h9v1.6h-9zM328.2 1050.6h9v2.2h-9zM336.8 1052.4h9v2.9h-9zM637.1 1052.4h9v2.9h-9zM551.3 1061.6h9v5.3h-9zM568.5 1061.6h9v5.3h-9zM491.2 1072.7h9v7.8h-9zM422.6 1109.5h9v12.7h-9z"/>
<path fill="#db6b55" d="M757.2 1046.9h9v1.6h-9zM319.6 1049.3h9v1.6h-9zM680 1049.3h9v1.6h-9zM654.3 1050.6h9v2.2h-9zM619.9 1054.9h9v3.5h-9zM362.5 1057.9h9v4.1h-9zM517 1057.9h9v4.1h-9zM499.8 1061.6h9v5.3h-9zM559.9 1061.6h9v5.3h-9zM414 1098.4h9v11.4h-9z"/>
<path fill="#da6853" d="M808.7 1046.9h9v1.6h-9zM722.9 1048.1h9v1.6h-9zM671.4 1049.3h9v1.6h-9zM645.7 1050.6h9v2.2h-9zM354 1054.9h9v3.5h-9zM508.4 1057.9h9v4.1h-9zM525.6 1057.9h17.6v4.1h-17.6zM602.8 1057.9h9v4.1h-9zM371.1 1061.6h9v5.3h-9zM379.7 1066.5h9v6.5h-9zM491.2 1066.5h9v6.5h-9zM388.3 1072.7h9v7.8h-9zM396.9 1080h9v9h-9zM405.4 1088.6h9v10.2h-9zM482.7 1088.6h9v10.2h-9zM474.1 1098.4h9v11.4h-9z"/>
<path fill="#d7634f" d="M276.7 1044.4h9v1.6h-9zM748.6 1046.9h9v1.6h-9zM302.5 1048.1h9v1.6h-9zM705.7 1048.1h17.6v1.6h-17.6zM662.8 1049.3h9v1.6h-9zM628.5 1052.4h9v2.9h-9zM542.7 1057.9h9v4.1h-9zM594.2 1057.9h9v4.1h-9zM491.2 1061.6h9v5.3h-9zM482.7 1080h9v9h-9zM465.5 1109.5h9v12.7h-9z"/>
<path fill="#d6604d" d="M285.3 1045.7h9v1.6h-9zM293.9 1046.9h9v1.6h-9zM740.1 1046.9h9v1.6h-9zM311.1 1048.1h9v1.6h-9zM680 1048.1h26.1v1.6h-26.1zM328.2 1049.3h9v1.6h-9zM654.3 1049.3h9v1.6h-9zM336.8 1050.6h9v2.2h-9zM637.1 1050.6h9v2.2h-9zM345.4 1052.4h9v2.9h-9zM611.4 1054.9h9v3.5h-9zM499.8 1057.9h9v4.1h-9zM585.6 1057.9h9v4.1h-9zM482.7 1072.7h9v7.8h-9z"/>
<path fill="#d35a4a" d="M276.7 1038.3h9v1.6h-9zM276.7 1039.5h9v1.6h-9zM276.7 1040.8h9v1.6h-9zM276.7 1042h9v1.6h-9zM276.7 1043.2h9v1.6h-9zM774.4 1045.7h9v1.6h-9zM319.6 1048.1h9v1.6h-9zM671.4 1048.1h9v1.6h-9zM645.7 1049.3h9v1.6h-9zM619.9 1052.4h9v2.9h-9zM362.5 1054.9h9v3.5h-9zM508.4 1054.9h26.1v3.5h-26.1zM371.1 1057.9h9v4.1h-9zM551.3 1057.9h9v4.1h-9zM568.5 1057.9h17.6v4.1h-17.6z"/>
<path fill="#d05548" d="M765.8 1045.7h9v1.6h-9zM783 1045.7h9v1.6h-9zM302.5 1046.9h9v1.6h-9zM731.5 1046.9h9v1.6h-9zM662.8 1048.1h9v1.6h-9zM637.1 1049.3h9v1.6h-9zM628.5 1050.6h9v2.2h-9zM354 1052.4h9v2.9h-9zM499.8 1054.9h9v3.5h-9zM534.1 1054.9h9v3.5h-9zM491.2 1057.9h9v4.1h-9zM559.9 1057.9h9v4.1h-9zM379.7 1061.6h9v5.3h-9zM482.7 1066.5h9v6.5h-9zM405.4 1080h9v9h-9zM474.1 1088.6h9v10.2h-9zM431.2 1109.5h9v12.7h-9zM456.9 1109.5h9v12.7h-9z"/>
<path fill="#cf5246" d="M722.9 1046.9h9v1.6h-9zM328.2 1048.1h9v1.6h-9zM645.7 1048.1h17.6v1.6h-17.6zM336.8 1049.3h9v1.6h-9zM508.4 1052.4h17.6v2.9h-17.6zM611.4 1052.4h9v2.9h-9zM542.7 1054.9h9v3.5h-9zM602.8 1054.9h9v3.5h-9zM482.7 1061.6h9v5.3h-9zM388.3 1066.5h9v6.5h-9zM396.9 1072.7h9v7.8h-9zM414 1088.6h9v10.2h-9zM448.3 1109.5h9v12.7h-9z"/>
<path fill="#cc4c44" d="M285.3 1044.4h9v1.6h-9zM293.9 1045.7h9v1.6h-9zM757.2 1045.7h9v1.6h-9zM791.5 1045.7h9v1.6h-9zM311.1 1046.9h17.6v1.6h-17.6zM680 1046.9h43.3v1.6h-43.3zM637.1 1048.1h9v1.6h-9zM628.5 1049.3h9v1.6h-9zM345.4 1050.6h9v2.2h-9zM619.9 1050.6h9v2.2h-9zM499.8 1052.4h9v2.9h-9zM525.6 1052.4h9v2.9h-9zM371.1 1054.9h9v3.5h-9zM491.2 1054.9h9v3.5h-9zM474.1 1080h9v9h-9zM422.6 1098.4h9v11.4h-9zM465.5 1098.4h9v11.4h-9zM439.8 1109.5h9v12.7h-9z"/>
<path fill="#cb4942" d="M800.1 1045.7h9v1.6h-9zM654.3 1046.9h26.1v1.6h-26.1zM508.4 1050.6h17.6v2.2h-17.6zM491.2 1052.4h9v2.9h-9zM534.1 1052.4h9v2.9h-9zM551.3 1054.9h9v3.5h-9zM577 1054.9h26.1v3.5h-26.1zM482.7 1057.9h9v4.1h-9zM474.1 1072.7h9v7.8h-9z"/>
<path fill="#c84440" d="M285.3 1038.3h9v1.6h-9zM285.3 1039.5h9v1.6h-9zM285.3 1040.8h9v1.6h-9zM285.3 1042h9v1.6h-9zM285.3 1043.2h9v1.6h-9zM302.5 1045.7h9v1.6h-9zM748.6 1045.7h9v1.6h-9zM328.2 1046.9h9v1.6h-9zM645.7 1046.9h9v1.6h-9zM336.8 1048.1h9v1.6h-9zM628.5 1048.1h9v1.6h-9zM345.4 1049.3h9v1.6h-9zM508.4 1049.3h17.6v1.6h-17.6zM619.9 1049.3h9v1.6h-9zM354 1050.6h9v2.2h-9zM491.2 1050.6h17.6v2.2h-17.6zM611.4 1050.6h9v2.2h-9zM362.5 1052.4h9v2.9h-9zM602.8 1052.4h9v2.9h-9zM482.7 1054.9h9v3.5h-9zM559.9 1054.9h17.6v3.5h-17.6zM379.7 1057.9h9v4.1h-9z"/>
<path fill="#c53e3d" d="M311.1 1045.7h9v1.6h-9zM740.1 1045.7h9v1.6h-9zM808.7 1045.7h9v1.6h-9zM508.4 1046.9h9v1.6h-9zM637.1 1046.9h9v1.6h-9zM499.8 1048.1h26.1v1.6h-26.1zM619.9 1048.1h9v1.6h-9zM491.2 1049.3h17.6v1.6h-17.6zM525.6 1050.6h9v2.2h-9zM482.7 1052.4h9v2.9h-9zM542.7 1052.4h9v2.9h-9zM594.2 1052.4h9v2.9h-9zM388.3 1061.6h9v5.3h-9zM474.1 1066.5h9v6.5h-9z"/>
<path fill="#c43b3c" d="M293.9 1044.4h9v1.6h-9zM319.6 1045.7h9v1.6h-9zM499.8 1045.7h26.1v1.6h-26.1zM645.7 1045.7h60.5v1.6h-60.5zM731.5 1045.7h9v1.6h-9zM491.2 1046.9h17.6v1.6h-17.6zM517 1046.9h9v1.6h-9zM628.5 1046.9h9v1.6h-9zM491.2 1048.1h9v1.6h-9zM525.6 1049.3h9v1.6h-9zM611.4 1049.3h9v1.6h-9zM482.7 1050.6h9v2.2h-9zM534.1 1050.6h9v2.2h-9zM602.8 1050.6h9v2.2h-9zM371.1 1052.4h9v2.9h-9zM585.6 1052.4h9v2.9h-9zM379.7 1054.9h9v3.5h-9zM474.1 1061.6h9v5.3h-9zM396.9 1066.5h9v6.5h-9zM405.4 1072.7h9v7.8h-9zM414 1080h9v9h-9zM465.5 1088.6h9v10.2h-9z"/>
<path fill="#c13639" d="M499.8 1044.4h26.1v1.6h-26.1zM765.8 1044.4h17.6v1.6h-17.6zM491.2 1045.7h9v1.6h-9zM637.1 1045.7h9v1.6h-9zM705.7 1045.7h26.1v1.6h-26.1zM336.8 1046.9h9v1.6h-9zM525.6 1046.9h9v1.6h-9zM619.9 1046.9h9v1.6h-9zM345.4 1048.1h9v1.6h-9zM482.7 1048.1h9v1.6h-9zM525.6 1048.1h9v1.6h-9zM611.4 1048.1h9v1.6h-9zM354 1049.3h9v1.6h-9zM482.7 1049.3h9v1.6h-9zM534.1 1049.3h9v1.6h-9zM602.8 1049.3h9v1.6h-9zM362.5 1050.6h9v2.2h-9zM551.3 1052.4h9v2.9h-9zM577 1052.4h9v2.9h-9zM474.1 1057.9h9v4.1h-9zM456.9 1098.4h9v11.4h-9z"/>
<path fill="#bf3338" d="M293.9 1038.3h9v1.6h-9zM293.9 1039.5h9v1.6h-9zM293.9 1040.8h9v1.6h-9zM293.9 1042h9v1.6h-9zM293.9 1043.2h9v1.6h-9zM491.2 1043.2h34.7v1.6h-34.7zM302.5 1044.4h9v1.6h-9zM491.2 1044.4h9v1.6h-9zM525.6 1044.4h9v1.6h-9zM328.2 1045.7h9v1.6h-9zM525.6 1045.7h9v1.6h-9zM628.5 1045.7h9v1.6h-9zM482.7 1046.9h9v1.6h-9zM611.4 1046.9h9v1.6h-9zM534.1 1048.1h9v1.6h-9zM602.8 1048.1h9v1.6h-9zM542.7 1050.6h9v2.2h-9zM594.2 1050.6h9v2.2h-9zM474.1 1052.4h9v2.9h-9zM559.9 1052.4h17.6v2.9h-17.6zM474.1 1054.9h9v3.5h-9zM388.3 1057.9h9v4.1h-9z"/>
<path fill="#bd2d35" d="M499.8 1042h26.1v1.6h-26.1zM525.6 1043.2h9v1.6h-9zM311.1 1044.4h9v1.6h-9zM637.1 1044.4h34.7v1.6h-34.7zM757.2 1044.4h9v1.6h-9zM783 1044.4h9v1.6h-9zM336.8 1045.7h9v1.6h-9zM482.7 1045.7h9v1.6h-9zM534.1 1045.7h9v1.6h-9zM611.4 1045.7h17.6v1.6h-17.6zM345.4 1046.9h9v1.6h-9zM534.1 1046.9h9v1.6h-9zM602.8 1046.9h9v1.6h-9zM354 1048.1h9v1.6h-9zM474.1 1049.3h9v1.6h-9zM594.2 1049.3h9v1.6h-9zM371.1 1050.6h9v2.2h-9zM474.1 1050.6h9v2.2h-9zM577 1050.6h17.6v2.2h-17.6zM379.7 1052.4h9v2.9h-9zM422.6 1088.6h9v10.2h-9zM431.2 1098.4h9v11.4h-9z"/>
<path fill="#ba2832" d="M499.8 1040.8h26.1v1.6h-26.1zM302.5 1042h9v1.6h-9zM491.2 1042h9v1.6h-9zM525.6 1042h9v1.6h-9zM302.5 1043.2h9v1.6h-9zM319.6 1044.4h9v1.6h-9zM482.7 1044.4h9v1.6h-9zM534.1 1044.4h9v1.6h-9zM619.9 1044.4h17.6v1.6h-17.6zM671.4 1044.4h26.1v1.6h-26.1zM791.5 1044.4h9v1.6h-9zM602.8 1045.7h9v1.6h-9zM594.2 1046.9h9v1.6h-9zM474.1 1048.1h9v1.6h-9zM542.7 1048.1h9v1.6h-9zM594.2 1048.1h9v1.6h-9zM362.5 1049.3h9v1.6h-9zM542.7 1049.3h9v1.6h-9zM585.6 1049.3h9v1.6h-9zM568.5 1050.6h9v2.2h-9zM388.3 1054.9h9v3.5h-9zM396.9 1061.6h9v5.3h-9zM465.5 1080h9v9h-9zM448.3 1098.4h9v11.4h-9z"/>
<path fill="#b82531" d="M302.5 1038.3h9v1.6h-9zM302.5 1039.5h9v1.6h-9zM499.8 1039.5h26.1v1.6h-26.1zM302.5 1040.8h9v1.6h-9zM491.2 1040.8h9v1.6h-9zM525.6 1040.8h9v1.6h-9zM311.1 1042h9v1.6h-9zM311.1 1043.2h9v1.6h-9zM482.7 1043.2h9v1.6h-9zM534.1 1043.2h9v1.6h-9zM628.5 1043.2h34.7v1.6h-34.7zM328.2 1044.4h9v1.6h-9zM602.8 1044.4h17.6v1.6h-17.6zM697.2 1044.4h17.6v1.6h-17.6zM748.6 1044.4h9v1.6h-9zM345.4 1045.7h9v1.6h-9zM542.7 1045.7h9v1.6h-9zM594.2 1045.7h9v1.6h-9zM354 1046.9h9v1.6h-9zM474.1 1046.9h9v1.6h-9zM542.7 1046.9h9v1.6h-9zM585.6 1046.9h9v1.6h-9zM362.5 1048.1h9v1.6h-9zM585.6 1048.1h9v1.6h-9zM371.1 1049.3h9v1.6h-9zM577 1049.3h9v1.6h-9zM379.7 1050.6h9v2.2h-9zM551.3 1050.6h17.6v2.2h-17.6zM388.3 1052.4h9v2.9h-9zM405.4 1066.5h9v6.5h-9zM414 1072.7h9v7.8h-9zM465.5 1072.7h9v7.8h-9zM439.8 1098.4h9v11.4h-9z"/>
<path fill="#b61f2e" d="M311.1 1038.3h9v1.6h-9zM508.4 1038.3h17.6v1.6h-17.6zM311.1 1039.5h9v1.6h-9zM491.2 1039.5h9v1.6h-9zM525.6 1039.5h9v1.6h-9zM311.1 1040.8h9v1.6h-9zM534.1 1040.8h9v1.6h-9zM319.6 1042h9v1.6h-9zM482.7 1042h9v1.6h-9zM534.1 1042h9v1.6h-9zM319.6 1043.2h9v1.6h-9zM602.8 1043.2h26.1v1.6h-26.1zM662.8 1043.2h17.6v1.6h-17.6zM336.8 1044.4h9v1.6h-9zM542.7 1044.4h9v1.6h-9zM594.2 1044.4h9v1.6h-9zM714.3 1044.4h9v1.6h-9zM740.1 1044.4h9v1.6h-9zM800.1 1044.4h9v1.6h-9zM474.1 1045.7h9v1.6h-9zM585.6 1045.7h9v1.6h-9zM577 1046.9h9v1.6h-9zM577 1048.1h9v1.6h-9zM379.7 1049.3h9v1.6h-9zM551.3 1049.3h9v1.6h-9zM568.5 1049.3h9v1.6h-9zM396.9 1057.9h9v4.1h-9z"/>
<path fill="#b41c2d" d="M319.6 1038.3h9v1.6h-9zM491.2 1038.3h17.6v1.6h-17.6zM525.6 1038.3h9v1.6h-9zM319.6 1039.5h9v1.6h-9zM534.1 1039.5h9v1.6h-9zM319.6 1040.8h9v1.6h-9zM482.7 1040.8h9v1.6h-9zM328.2 1042h9v1.6h-9zM542.7 1042h9v1.6h-9zM619.9 1042h43.3v1.6h-43.3zM328.2 1043.2h9v1.6h-9zM542.7 1043.2h9v1.6h-9zM594.2 1043.2h9v1.6h-9zM680 1043.2h17.6v1.6h-17.6zM765.8 1043.2h17.6v1.6h-17.6zM474.1 1044.4h9v1.6h-9zM585.6 1044.4h9v1.6h-9zM722.9 1044.4h17.6v1.6h-17.6zM354 1045.7h9v1.6h-9zM577 1045.7h9v1.6h-9zM362.5 1046.9h9v1.6h-9zM551.3 1046.9h9v1.6h-9zM568.5 1046.9h9v1.6h-9zM371.1 1048.1h17.6v1.6h-17.6zM551.3 1048.1h9v1.6h-9zM568.5 1048.1h9v1.6h-9zM559.9 1049.3h9v1.6h-9zM388.3 1050.6h9v2.2h-9zM396.9 1054.9h9v3.5h-9zM465.5 1066.5h9v6.5h-9z"/>
<path fill="#b1182b" d="M328.2 1038.3h9v1.6h-9zM534.1 1038.3h9v1.6h-9zM328.2 1039.5h9v1.6h-9zM482.7 1039.5h9v1.6h-9zM328.2 1040.8h9v1.6h-9zM542.7 1040.8h9v1.6h-9zM336.8 1042h9v1.6h-9zM594.2 1042h26.1v1.6h-26.1zM662.8 1042h26.1v1.6h-26.1zM336.8 1043.2h9v1.6h-9zM585.6 1043.2h9v1.6h-9zM697.2 1043.2h9v1.6h-9zM345.4 1044.4h9v1.6h-9zM551.3 1044.4h9v1.6h-9zM568.5 1044.4h17.6v1.6h-17.6zM808.7 1044.4h9v1.6h-9zM551.3 1045.7h9v1.6h-9zM568.5 1045.7h9v1.6h-9zM371.1 1046.9h9v1.6h-9zM559.9 1046.9h9v1.6h-9zM559.9 1048.1h9v1.6h-9zM388.3 1049.3h9v1.6h-9zM396.9 1052.4h9v2.9h-9zM465.5 1057.9h9v4.1h-9zM405.4 1061.6h9v5.3h-9zM465.5 1061.6h9v5.3h-9zM456.9 1088.6h9v10.2h-9z"/>
<path fill="#ab162a" d="M482.7 1038.3h9v1.6h-9zM336.8 1039.5h9v1.6h-9zM542.7 1039.5h9v1.6h-9zM336.8 1040.8h9v1.6h-9zM602.8 1040.8h69v1.6h-69zM345.4 1042h9v1.6h-9zM585.6 1042h9v1.6h-9zM688.6 1042h9v1.6h-9zM345.4 1043.2h9v1.6h-9zM474.1 1043.2h9v1.6h-9zM551.3 1043.2h9v1.6h-9zM568.5 1043.2h17.6v1.6h-17.6zM705.7 1043.2h17.6v1.6h-17.6zM757.2 1043.2h9v1.6h-9zM783 1043.2h9v1.6h-9zM354 1044.4h9v1.6h-9zM559.9 1044.4h9v1.6h-9zM362.5 1045.7h9v1.6h-9zM559.9 1045.7h9v1.6h-9zM379.7 1046.9h9v1.6h-9zM388.3 1048.1h9v1.6h-9zM396.9 1049.3h9v1.6h-9zM465.5 1049.3h9v1.6h-9zM396.9 1050.6h9v2.2h-9zM465.5 1050.6h9v2.2h-9zM465.5 1052.4h9v2.9h-9zM465.5 1054.9h9v3.5h-9zM414 1066.5h9v6.5h-9zM422.6 1080h9v9h-9z"/>
<path fill="#a81529" d="M336.8 1038.3h17.6v1.6h-17.6zM542.7 1038.3h9v1.6h-9zM345.4 1039.5h9v1.6h-9zM619.9 1039.5h34.7v1.6h-34.7zM345.4 1040.8h9v1.6h-9zM585.6 1040.8h17.6v1.6h-17.6zM671.4 1040.8h17.6v1.6h-17.6zM354 1042h9v1.6h-9zM474.1 1042h9v1.6h-9zM551.3 1042h9v1.6h-9zM568.5 1042h17.6v1.6h-17.6zM697.2 1042h17.6v1.6h-17.6zM354 1043.2h9v1.6h-9zM559.9 1043.2h9v1.6h-9zM722.9 1043.2h9v1.6h-9zM740.1 1043.2h17.6v1.6h-17.6zM791.5 1043.2h9v1.6h-9zM362.5 1044.4h9v1.6h-9zM371.1 1045.7h17.6v1.6h-17.6zM388.3 1046.9h9v1.6h-9zM396.9 1048.1h9v1.6h-9zM465.5 1048.1h9v1.6h-9zM405.4 1054.9h9v3.5h-9zM405.4 1057.9h9v4.1h-9z"/>
<path fill="#a21328" d="M354 1038.3h9v1.6h-9zM354 1039.5h9v1.6h-9zM585.6 1039.5h34.7v1.6h-34.7zM654.3 1039.5h17.6v1.6h-17.6zM354 1040.8h9v1.6h-9zM474.1 1040.8h9v1.6h-9zM551.3 1040.8h9v1.6h-9zM568.5 1040.8h17.6v1.6h-17.6zM688.6 1040.8h17.6v1.6h-17.6zM362.5 1042h9v1.6h-9zM559.9 1042h9v1.6h-9zM714.3 1042h9v1.6h-9zM765.8 1042h17.6v1.6h-17.6zM362.5 1043.2h9v1.6h-9zM731.5 1043.2h9v1.6h-9zM371.1 1044.4h17.6v1.6h-17.6zM388.3 1045.7h9v1.6h-9zM396.9 1046.9h9v1.6h-9zM465.5 1046.9h9v1.6h-9zM405.4 1050.6h9v2.2h-9zM405.4 1052.4h9v2.9h-9z"/>
<path fill="#9f1228" d="M362.5 1038.3h17.6v1.6h-17.6zM594.2 1038.3h60.5v1.6h-60.5zM362.5 1039.5h17.6v1.6h-17.6zM474.1 1039.5h9v1.6h-9zM551.3 1039.5h9v1.6h-9zM568.5 1039.5h17.6v1.6h-17.6zM671.4 1039.5h17.6v1.6h-17.6zM362.5 1040.8h17.6v1.6h-17.6zM559.9 1040.8h9v1.6h-9zM705.7 1040.8h9v1.6h-9zM371.1 1042h17.6v1.6h-17.6zM722.9 1042h9v1.6h-9zM757.2 1042h9v1.6h-9zM371.1 1043.2h17.6v1.6h-17.6zM800.1 1043.2h9v1.6h-9zM388.3 1044.4h9v1.6h-9zM396.9 1045.7h9v1.6h-9zM465.5 1045.7h9v1.6h-9zM405.4 1048.1h9v1.6h-9zM405.4 1049.3h9v1.6h-9zM414 1061.6h9v5.3h-9zM431.2 1088.6h9v10.2h-9zM448.3 1088.6h9v10.2h-9z"/>
<path fill="#991027" d="M474.1 1038.3h9v1.6h-9zM551.3 1038.3h9v1.6h-9zM568.5 1038.3h26.1v1.6h-26.1zM654.3 1038.3h26.1v1.6h-26.1zM379.7 1039.5h9v1.6h-9zM559.9 1039.5h9v1.6h-9zM688.6 1039.5h17.6v1.6h-17.6zM379.7 1040.8h9v1.6h-9zM714.3 1040.8h9v1.6h-9zM388.3 1042h9v1.6h-9zM731.5 1042h26.1v1.6h-26.1zM783 1042h9v1.6h-9zM388.3 1043.2h9v1.6h-9zM465.5 1043.2h9v1.6h-9zM808.7 1043.2h9v1.6h-9zM396.9 1044.4h9v1.6h-9zM465.5 1044.4h9v1.6h-9zM405.4 1046.9h9v1.6h-9zM414 1057.9h9v4.1h-9zM422.6 1072.7h9v7.8h-9zM456.9 1080h9v9h-9z"/>
<path fill="#930e26" d="M379.7 1038.3h17.6v1.6h-17.6zM559.9 1038.3h9v1.6h-9zM680 1038.3h17.6v1.6h-17.6zM388.3 1039.5h9v1.6h-9zM705.7 1039.5h9v1.6h-9zM388.3 1040.8h9v1.6h-9zM722.9 1040.8h9v1.6h-9zM396.9 1042h9v1.6h-9zM465.5 1042h9v1.6h-9zM791.5 1042h9v1.6h-9zM396.9 1043.2h9v1.6h-9zM405.4 1045.7h9v1.6h-9zM414 1049.3h9v1.6h-9zM414 1050.6h9v2.2h-9zM414 1052.4h9v2.9h-9zM414 1054.9h9v3.5h-9zM439.8 1088.6h9v10.2h-9z"/>
<path fill="#900d26" d="M697.2 1038.3h9v1.6h-9zM396.9 1039.5h9v1.6h-9zM465.5 1039.5h9v1.6h-9zM714.3 1039.5h9v1.6h-9zM396.9 1040.8h9v1.6h-9zM465.5 1040.8h9v1.6h-9zM731.5 1040.8h17.6v1.6h-17.6zM765.8 1040.8h9v1.6h-9zM800.1 1042h9v1.6h-9zM405.4 1043.2h9v1.6h-9zM405.4 1044.4h9v1.6h-9zM414 1046.9h9v1.6h-9zM414 1048.1h9v1.6h-9zM456.9 1072.7h9v7.8h-9z"/>
<path fill="#8a0b25" d="M396.9 1038.3h17.6v1.6h-17.6zM465.5 1038.3h9v1.6h-9zM705.7 1038.3h17.6v1.6h-17.6zM405.4 1039.5h9v1.6h-9zM722.9 1039.5h9v1.6h-9zM405.4 1040.8h9v1.6h-9zM748.6 1040.8h17.6v1.6h-17.6zM774.4 1040.8h17.6v1.6h-17.6zM405.4 1042h9v1.6h-9zM808.7 1042h9v1.6h-9zM414 1045.7h9v1.6h-9zM422.6 1066.5h9v6.5h-9z"/>
<path fill="#870a24" d="M414 1039.5h9v1.6h-9zM731.5 1039.5h9v1.6h-9zM414 1040.8h9v1.6h-9zM791.5 1040.8h9v1.6h-9zM414 1042h9v1.6h-9zM414 1043.2h9v1.6h-9zM414 1044.4h9v1.6h-9zM456.9 1061.6h9v5.3h-9zM456.9 1066.5h9v6.5h-9z"/>
<path fill="#810823" d="M414 1038.3h9v1.6h-9zM456.9 1038.3h9v1.6h-9zM722.9 1038.3h9v1.6h-9zM456.9 1039.5h9v1.6h-9zM740.1 1039.5h17.6v1.6h-17.6zM456.9 1040.8h9v1.6h-9zM800.1 1040.8h9v1.6h-9zM456.9 1042h9v1.6h-9zM456.9 1043.2h9v1.6h-9zM456.9 1044.4h9v1.6h-9zM456.9 1045.7h9v1.6h-9zM456.9 1046.9h9v1.6h-9zM456.9 1048.1h9v1.6h-9zM422.6 1049.3h9v1.6h-9zM456.9 1049.3h9v1.6h-9zM422.6 1050.6h9v2.2h-9zM456.9 1050.6h9v2.2h-9zM422.6 1052.4h9v2.9h-9zM456.9 1052.4h9v2.9h-9zM456.9 1054.9h9v3.5h-9zM422.6 1057.9h9v4.1h-9zM456.9 1057.9h9v4.1h-9zM422.6 1061.6h9v5.3h-9zM431.2 1080h9v9h-9z"/>
<path fill="#7c0722" d="M422.6 1038.3h9v1.6h-9zM731.5 1038.3h9v1.6h-9zM422.6 1039.5h9v1.6h-9zM757.2 1039.5h17.6v1.6h-17.6zM422.6 1040.8h9v1.6h-9zM808.7 1040.8h9v1.6h-9zM422.6 1042h9v1.6h-9zM422.6 1043.2h9v1.6h-9zM422.6 1044.4h9v1.6h-9zM422.6 1045.7h9v1.6h-9zM422.6 1046.9h9v1.6h-9zM422.6 1048.1h9v1.6h-9zM422.6 1054.9h9v3.5h-9zM448.3 1080h9v9h-9z"/>
<path fill="#790622" d="M448.3 1038.3h9v1.6h-9zM740.1 1038.3h9v1.6h-9zM448.3 1039.5h9v1.6h-9zM774.4 1039.5h17.6v1.6h-17.6z"/>
<path fill="#730421" d="M431.2 1038.3h17.6v1.6h-17.6zM748.6 1038.3h9v1.6h-9zM431.2 1039.5h17.6v1.6h-17.6zM791.5 1039.5h26.1v1.6h-26.1zM431.2 1040.8h9v1.6h-9zM448.3 1040.8h9v1.6h-9zM431.2 1042h9v1.6h-9zM448.3 1042h9v1.6h-9zM431.2 1043.2h9v1.6h-9zM448.3 1043.2h9v1.6h-9zM448.3 1044.4h9v1.6h-9zM439.8 1080h9v9h-9z"/>
<path fill="#700320" d="M757.2 1038.3h9v1.6h-9zM439.8 1040.8h9v1.6h-9zM439.8 1042h9v1.6h-9zM439.8 1043.2h9v1.6h-9zM431.2 1044.4h17.6v1.6h-17.6zM431.2 1045.7h9v1.6h-9zM448.3 1045.7h9v1.6h-9zM431.2 1046.9h9v1.6h-9zM448.3 1046.9h9v1.6h-9zM431.2 1072.7h9v7.8h-9zM448.3 1072.7h9v7.8h-9z"/>
<path fill="#6a011f" d="M439.8 1045.7h9v1.6h-9zM431.2 1048.1h9v1.6h-9zM448.3 1048.1h9v1.6h-9zM431.2 1049.3h9v1.6h-9z"/>
<path fill="#67001f" d="M765.8 1038.3h51.9v1.6h-51.9zM439.8 1046.9h9v1.6h-9zM439.8 1048.1h9v1.6h-9zM439.8 1049.3h17.6v1.6h-17.6zM431.2 1050.6h26.1v2.2h-26.1zM431.2 1052.4h26.1v2.9h-26.1zM431.2 1054.9h26.1v3.5h-26.1zM431.2 1057.9h26.1v4.1h-26.1zM431.2 1061.6h26.1v5.3h-26.1zM431.2 1066.5h26.1v6.5h-26.1zM439.8 1072.7h9v7.8h-9z"/>
</g>
<path clip-path="url(#cc1)" fill="url(#hL)" d="M163.9 1050.6h17.2v1.8h-17.2zM163.9 1052.4h17.2v2.5h-17.2zM163.9 1054.9h25.7v3.1h-25.7zM163.9 1057.9h25.7v3.7h-25.7zM138.2 1061.6h8.6v4.9h-8.6zM172.5 1061.6h17.2v4.9h-17.2zM138.2 1066.5h8.6v6.1h-8.6zM172.5 1066.5h17.2v6.1h-17.2zM155.3 1072.7h8.6v7.4h-8.6zM155.3 1080h8.6v8.6h-8.6zM146.8 1088.6h8.6v9.8h-8.6zM146.8 1098.4h8.6v11h-8.6zM232.6 1098.4h17.2v11h-17.2zM138.2 1109.5h8.6v12.3h-8.6zM224 1109.5h25.7v12.3h-25.7zM224 1121.7h51.5v13.5h-51.5zM198.2 1135.2h94.4v14.7h-94.4zM198.2 1149.9h103v15.9h-103zM172.5 1165.9h145.9v17.2h-145.9zM163.9 1183.1h171.6v18.4h-171.6zM155.3 1201.5h180.2v20.9h-180.2zM155.3 1222.3h197.3v24.5h-197.3zM155.3 1246.9h205.9v27h-205.9zM481.4 1246.9h77.2v27h-77.2zM155.3 1273.8h214.5v28.2h-214.5zM404.2 1273.8h163v28.2h-163zM155.3 1302.1h420.4v30.7h-420.4zM155.3 1332.7h429v30.7h-429z"/>
<rect x="129.6" y="1038.3" width="686.4" height="306.7" fill="none" stroke="#000" stroke-width="1.6"/>
<path d="M124.1 1038.3L129.6 1038.3" stroke="#000" stroke-width="1.6"/>
<text x="119" y="1048.5" font-size="24" text-anchor="end">0</text>
<path d="M124.1 1099.6L129.6 1099.6" stroke="#000" stroke-width="1.6"/>
<text x="119" y="1109.8" font-size="24" text-anchor="end">−500</text>
<path d="M124.1 1161L129.6 1161" stroke="#000" stroke-width="1.6"/>
<text x="119" y="1171.2" font-size="24" text-anchor="end">−1000</text>
<path d="M124.1 1222.3L129.6 1222.3" stroke="#000" stroke-width="1.6"/>
<text x="119" y="1232.5" font-size="24" text-anchor="end">−1500</text>
<path d="M124.1 1283.7L129.6 1283.7" stroke="#000" stroke-width="1.6"/>
<text x="119" y="1293.9" font-size="24" text-anchor="end">−2000</text>
<path d="M124.1 1345L129.6 1345" stroke="#000" stroke-width="1.6"/>
<text x="119" y="1355.2" font-size="24" text-anchor="end">−2500</text>
<path d="M172.5 1345L172.5 1352" stroke="#000" stroke-width="1.6"/>
<text x="172.5" y="1374.2" font-size="24" text-anchor="middle">−75</text>
<path d="M301.2 1345L301.2 1352" stroke="#000" stroke-width="1.6"/>
<text x="301.2" y="1374.2" font-size="24" text-anchor="middle">−60</text>
<path d="M429.9 1345L429.9 1352" stroke="#000" stroke-width="1.6"/>
<text x="429.9" y="1374.2" font-size="24" text-anchor="middle">−45</text>
<path d="M558.6 1345L558.6 1352" stroke="#000" stroke-width="1.6"/>
<text x="558.6" y="1374.2" font-size="24" text-anchor="middle">−30</text>
<path d="M687.3 1345L687.3 1352" stroke="#000" stroke-width="1.6"/>
<text x="687.3" y="1374.2" font-size="24" text-anchor="middle">−15</text>
<path d="M816 1345L816 1352" stroke="#000" stroke-width="1.6"/>
<text x="816" y="1374.2" font-size="24" text-anchor="middle">0</text>
<text transform="translate(25.3,1191.7) rotate(-90)" font-size="32" text-anchor="middle">depth [m]</text>
<rect x="595.1" y="1278.1" width="178.8" height="43.6" fill="#fff"/>
<text x="603.1" y="1309" font-size="31.7">LR change</text>
<text transform="translate(2,1047.4) scale(0.9,0.98)" font-size="42" font-weight="bold" font-family='"Liberation Sans","DejaVu Sans",sans-serif'>c</text>
<clipPath id="cc2"><rect x="129" y="1399.1" width="686.1" height="307.3"/></clipPath>
<g clip-path="url(#cc2)" shape-rendering="crispEdges">
<path fill="#f5f6f7" d="M293.2 1635.1h9v28.7h-9z"/>
<path fill="#f7f6f6" d="M138.9 1404h17.6v1.6h-17.6zM138.9 1405.2h17.6v1.6h-17.6zM138.9 1406.5h17.6v1.6h-17.6zM138.9 1407.7h9v1.6h-9zM138.9 1408.9h9v1.6h-9zM138.9 1410.2h9v1.6h-9zM276.1 1562.6h17.6v21.3h-17.6zM276.1 1583.5h17.6v25h-17.6zM276.1 1608.1h26.1v27.4h-26.1zM284.7 1635.1h9v28.7h-9zM301.8 1635.1h9v28.7h-9zM293.2 1663.4h26.1v31.1h-26.1zM293.2 1694.1h43.3v31.1h-43.3z"/>
<path fill="#f7f5f4" d="M138.9 1401.6h9v1.6h-9zM138.9 1402.8h17.6v1.6h-17.6zM156 1404h17.6v1.6h-17.6zM156 1405.2h9v1.6h-9zM147.4 1407.7h9v1.6h-9zM147.4 1408.9h9v1.6h-9zM147.4 1410.2h9v1.6h-9zM138.9 1411.4h9v2.2h-9zM138.9 1413.2h9v2.9h-9zM138.9 1415.7h9v3.5h-9zM138.9 1418.8h9v4.1h-9zM138.9 1422.5h9v5.3h-9zM138.9 1427.4h9v6.5h-9zM138.9 1433.5h9v7.8h-9zM138.9 1440.9h9v9h-9zM138.9 1449.5h9v10.2h-9zM138.9 1459.3h9v11.5h-9zM138.9 1470.4h9v12.7h-9zM276.1 1526.9h17.6v17.6h-17.6zM276.1 1544.1h17.6v18.8h-17.6zM293.2 1562.6h9v21.3h-9zM293.2 1583.5h9v25h-9zM301.8 1608.1h9v27.4h-9zM276.1 1635.1h9v28.7h-9zM310.4 1635.1h17.6v28.7h-17.6zM284.7 1663.4h9v31.1h-9zM319 1663.4h17.6v31.1h-17.6zM336.1 1694.1h26.1v31.1h-26.1zM413.3 1694.1h51.9v31.1h-51.9z"/>
<path fill="#f8f3f0" d="M138.9 1399.1h9v1.6h-9zM138.9 1400.3h9v1.6h-9zM147.4 1401.6h17.6v1.6h-17.6zM156 1402.8h17.6v1.6h-17.6zM173.2 1404h9v1.6h-9zM164.6 1405.2h9v1.6h-9zM156 1406.5h9v1.6h-9zM147.4 1411.4h9v2.2h-9zM147.4 1413.2h9v2.9h-9zM138.9 1482.7h9v13.9h-9zM276.1 1511h17.6v16.4h-17.6zM267.5 1526.9h9v17.6h-9zM267.5 1544.1h9v18.8h-9zM293.2 1544.1h9v18.8h-9zM267.5 1562.6h9v21.3h-9zM267.5 1583.5h9v25h-9zM301.8 1583.5h9v25h-9zM267.5 1608.1h9v27.4h-9zM310.4 1608.1h9v27.4h-9zM267.5 1635.1h9v28.7h-9zM276.1 1663.4h9v31.1h-9zM336.1 1663.4h9v31.1h-9zM276.1 1694.1h17.6v31.1h-17.6zM361.8 1694.1h51.9v31.1h-51.9zM464.8 1694.1h34.7v31.1h-34.7zM747.8 1694.1h69v31.1h-69z"/>
<path fill="#f8f2ef" d="M147.4 1400.3h17.6v1.6h-17.6zM164.6 1401.6h9v1.6h-9zM173.2 1402.8h9v1.6h-9zM181.7 1404h9v1.6h-9zM173.2 1405.2h9v1.6h-9zM156 1407.7h9v1.6h-9zM147.4 1415.7h9v3.5h-9zM147.4 1418.8h9v4.1h-9zM147.4 1440.9h9v9h-9zM147.4 1449.5h9v10.2h-9zM147.4 1459.3h9v11.5h-9zM147.4 1470.4h9v12.7h-9zM267.5 1496.2h26.1v15.2h-26.1zM267.5 1511h9v16.4h-9zM293.2 1511h9v16.4h-9zM258.9 1526.9h9v17.6h-9zM293.2 1526.9h9v17.6h-9zM233.2 1544.1h17.6v18.8h-17.6zM258.9 1544.1h9v18.8h-9zM301.8 1544.1h9v18.8h-9zM233.2 1562.6h17.6v21.3h-17.6zM258.9 1562.6h9v21.3h-9zM301.8 1562.6h9v21.3h-9zM233.2 1583.5h17.6v25h-17.6zM258.9 1583.5h9v25h-9zM310.4 1583.5h9v25h-9zM747.8 1583.5h69v25h-69zM233.2 1608.1h17.6v27.4h-17.6zM258.9 1608.1h9v27.4h-9zM319 1608.1h9v27.4h-9zM233.2 1635.1h9v28.7h-9zM258.9 1635.1h9v28.7h-9zM327.5 1635.1h9v28.7h-9zM267.5 1663.4h9v31.1h-9zM344.7 1663.4h17.6v31.1h-17.6zM267.5 1694.1h9v31.1h-9zM499.1 1694.1h26.1v31.1h-26.1zM704.9 1694.1h43.3v31.1h-43.3z"/>
<path fill="#f9f0eb" d="M147.4 1399.1h17.6v1.6h-17.6zM164.6 1400.3h17.6v1.6h-17.6zM173.2 1401.6h9v1.6h-9zM181.7 1402.8h9v1.6h-9zM190.3 1404h9v1.6h-9zM181.7 1405.2h9v1.6h-9zM164.6 1406.5h9v1.6h-9zM156 1408.9h9v1.6h-9zM147.4 1422.5h9v5.3h-9zM147.4 1427.4h9v6.5h-9zM147.4 1433.5h9v7.8h-9zM156 1459.3h9v11.5h-9zM156 1470.4h34.7v12.7h-34.7zM147.4 1482.7h9v13.9h-9zM164.6 1482.7h34.7v13.9h-34.7zM250.4 1482.7h43.3v13.9h-43.3zM173.2 1496.2h34.7v15.2h-34.7zM241.8 1496.2h26.1v15.2h-26.1zM293.2 1496.2h9v15.2h-9zM173.2 1511h34.7v16.4h-34.7zM224.6 1511h43.3v16.4h-43.3zM224.6 1526.9h34.7v17.6h-34.7zM301.8 1526.9h9v17.6h-9zM224.6 1544.1h9v18.8h-9zM250.4 1544.1h9v18.8h-9zM216 1562.6h17.6v21.3h-17.6zM250.4 1562.6h9v21.3h-9zM310.4 1562.6h9v21.3h-9zM730.6 1562.6h60.4v21.3h-60.4zM216 1583.5h17.6v25h-17.6zM250.4 1583.5h9v25h-9zM319 1583.5h9v25h-9zM722 1583.5h26.1v25h-26.1zM216 1608.1h17.6v27.4h-17.6zM250.4 1608.1h9v27.4h-9zM327.5 1608.1h9v27.4h-9zM207.5 1635.1h26.1v28.7h-26.1zM241.8 1635.1h17.6v28.7h-17.6zM336.1 1635.1h9v28.7h-9zM216 1663.4h51.9v31.1h-51.9zM361.8 1663.4h137.6v31.1h-137.6zM258.9 1694.1h9v31.1h-9zM524.8 1694.1h60.4v31.1h-60.4zM662 1694.1h43.3v31.1h-43.3z"/>
<path fill="#f9eee7" d="M164.6 1399.1h17.6v1.6h-17.6zM181.7 1401.6h9v1.6h-9zM190.3 1402.8h9v1.6h-9zM198.9 1404h9v1.6h-9zM190.3 1405.2h9v1.6h-9zM156 1410.2h9v1.6h-9zM156 1449.5h9v10.2h-9zM164.6 1459.3h9v11.5h-9zM250.4 1459.3h9v11.5h-9zM190.3 1470.4h26.1v12.7h-26.1zM224.6 1470.4h69v12.7h-69zM156 1482.7h9v13.9h-9zM198.9 1482.7h51.9v13.9h-51.9zM293.2 1482.7h9v13.9h-9zM147.4 1496.2h9v15.2h-9zM164.6 1496.2h9v15.2h-9zM207.5 1496.2h34.7v15.2h-34.7zM147.4 1511h9v16.4h-9zM164.6 1511h9v16.4h-9zM207.5 1511h17.6v16.4h-17.6zM301.8 1511h9v16.4h-9zM173.2 1526.9h51.9v17.6h-51.9zM207.5 1544.1h17.6v18.8h-17.6zM310.4 1544.1h9v18.8h-9zM704.9 1544.1h77.6v18.8h-77.6zM207.5 1562.6h9v21.3h-9zM319 1562.6h9v21.3h-9zM696.3 1562.6h34.7v21.3h-34.7zM790.7 1562.6h26.1v21.3h-26.1zM687.7 1583.5h34.7v25h-34.7zM207.5 1608.1h9v27.4h-9zM576.3 1608.1h34.7v27.4h-34.7zM164.6 1635.1h43.3v28.7h-43.3zM344.7 1635.1h17.6v28.7h-17.6zM550.5 1635.1h69v28.7h-69zM156 1663.4h60.4v31.1h-60.4zM499.1 1663.4h317.7v31.1h-317.7zM156 1694.1h103.3v31.1h-103.3zM584.8 1694.1h77.6v31.1h-77.6z"/>
<path fill="#f9ede5" d="M181.7 1399.1h9v1.6h-9zM181.7 1400.3h9v1.6h-9zM190.3 1401.6h9v1.6h-9zM198.9 1402.8h9v1.6h-9zM173.2 1406.5h9v1.6h-9zM156 1411.4h9v2.2h-9zM156 1413.2h9v2.9h-9zM156 1440.9h9v9h-9zM241.8 1449.5h26.1v10.2h-26.1zM173.2 1459.3h17.6v11.5h-17.6zM233.2 1459.3h17.6v11.5h-17.6zM258.9 1459.3h26.1v11.5h-26.1zM216 1470.4h9v12.7h-9zM293.2 1470.4h9v12.7h-9zM156 1496.2h9v15.2h-9zM301.8 1496.2h9v15.2h-9zM156 1511h9v16.4h-9zM147.4 1526.9h9v17.6h-9zM164.6 1526.9h9v17.6h-9zM310.4 1526.9h9v17.6h-9zM147.4 1544.1h9v18.8h-9zM173.2 1544.1h9v18.8h-9zM319 1544.1h9v18.8h-9zM584.8 1544.1h120.5v18.8h-120.5zM782.1 1544.1h26.1v18.8h-26.1zM567.7 1562.6h129v21.3h-129zM207.5 1583.5h9v25h-9zM327.5 1583.5h9v25h-9zM550.5 1583.5h137.6v25h-137.6zM164.6 1608.1h26.1v27.4h-26.1zM198.9 1608.1h9v27.4h-9zM336.1 1608.1h9v27.4h-9zM541.9 1608.1h34.7v27.4h-34.7zM610.6 1608.1h189.1v27.4h-189.1zM156 1635.1h9v28.7h-9zM361.8 1635.1h9v28.7h-9zM524.8 1635.1h26.1v28.7h-26.1zM619.1 1635.1h77.6v28.7h-77.6z"/>
<path fill="#faeae1" d="M190.3 1399.1h9v1.6h-9zM190.3 1400.3h9v1.6h-9zM198.9 1401.6h9v1.6h-9zM207.5 1404h9v1.6h-9zM198.9 1405.2h9v1.6h-9zM181.7 1406.5h9v1.6h-9zM164.6 1407.7h9v1.6h-9zM156 1415.7h9v3.5h-9zM156 1427.4h9v6.5h-9zM156 1433.5h9v7.8h-9zM241.8 1440.9h17.6v9h-17.6zM164.6 1449.5h9v10.2h-9zM233.2 1449.5h9v10.2h-9zM267.5 1449.5h9v10.2h-9zM190.3 1459.3h43.3v11.5h-43.3zM284.7 1459.3h9v11.5h-9zM301.8 1482.7h9v13.9h-9zM310.4 1511h9v16.4h-9zM156 1526.9h9v17.6h-9zM319 1526.9h9v17.6h-9zM593.4 1526.9h94.7v17.6h-94.7zM164.6 1544.1h9v18.8h-9zM181.7 1544.1h26.1v18.8h-26.1zM559.1 1544.1h26.1v18.8h-26.1zM807.8 1544.1h9v18.8h-9zM164.6 1562.6h43.3v21.3h-43.3zM327.5 1562.6h9v21.3h-9zM550.5 1562.6h17.6v21.3h-17.6zM164.6 1583.5h17.6v25h-17.6zM198.9 1583.5h9v25h-9zM336.1 1583.5h9v25h-9zM533.4 1583.5h17.6v25h-17.6zM156 1608.1h9v27.4h-9zM190.3 1608.1h9v27.4h-9zM344.7 1608.1h17.6v27.4h-17.6zM524.8 1608.1h17.6v27.4h-17.6zM799.2 1608.1h17.6v27.4h-17.6zM370.4 1635.1h94.7v28.7h-94.7zM490.5 1635.1h34.7v28.7h-34.7zM696.3 1635.1h34.7v28.7h-34.7z"/>
<path fill="#fae9df" d="M198.9 1400.3h9v1.6h-9zM207.5 1402.8h9v1.6h-9zM156 1418.8h9v4.1h-9zM156 1422.5h9v5.3h-9zM241.8 1433.5h17.6v7.8h-17.6zM233.2 1440.9h9v9h-9zM258.9 1440.9h17.6v9h-17.6zM173.2 1449.5h9v10.2h-9zM224.6 1449.5h9v10.2h-9zM276.1 1449.5h17.6v10.2h-17.6zM293.2 1459.3h9v11.5h-9zM301.8 1470.4h9v12.7h-9zM310.4 1496.2h9v15.2h-9zM319 1511h9v16.4h-9zM602 1511h69v16.4h-69zM567.7 1526.9h26.1v17.6h-26.1zM687.7 1526.9h34.7v17.6h-34.7zM156 1544.1h9v18.8h-9zM327.5 1544.1h9v18.8h-9zM541.9 1544.1h17.6v18.8h-17.6zM156 1562.6h9v21.3h-9zM533.4 1562.6h17.6v21.3h-17.6zM156 1583.5h9v25h-9zM181.7 1583.5h17.6v25h-17.6zM344.7 1583.5h9v25h-9zM516.2 1583.5h17.6v25h-17.6zM361.8 1608.1h17.6v27.4h-17.6zM507.6 1608.1h17.6v27.4h-17.6zM464.8 1635.1h26.1v28.7h-26.1zM730.6 1635.1h51.9v28.7h-51.9z"/>
<path fill="#fae7dc" d="M198.9 1399.1h9v1.6h-9zM207.5 1401.6h9v1.6h-9zM216 1404h9v1.6h-9zM207.5 1405.2h9v1.6h-9zM190.3 1406.5h9v1.6h-9zM173.2 1407.7h9v1.6h-9zM164.6 1408.9h9v1.6h-9zM241.8 1427.4h17.6v6.5h-17.6zM233.2 1433.5h9v7.8h-9zM258.9 1433.5h9v7.8h-9zM164.6 1440.9h9v9h-9zM224.6 1440.9h9v9h-9zM276.1 1440.9h9v9h-9zM181.7 1449.5h43.3v10.2h-43.3zM310.4 1482.7h9v13.9h-9zM619.1 1496.2h51.9v15.2h-51.9zM576.3 1511h26.1v16.4h-26.1zM670.6 1511h26.1v16.4h-26.1zM327.5 1526.9h9v17.6h-9zM550.5 1526.9h17.6v17.6h-17.6zM722 1526.9h17.6v17.6h-17.6zM533.4 1544.1h9v18.8h-9zM336.1 1562.6h9v21.3h-9zM524.8 1562.6h9v21.3h-9zM353.3 1583.5h9v25h-9zM507.6 1583.5h9v25h-9zM379 1608.1h26.1v27.4h-26.1zM481.9 1608.1h26.1v27.4h-26.1zM782.1 1635.1h34.7v28.7h-34.7z"/>
<path fill="#fbe5d8" d="M207.5 1400.3h9v1.6h-9zM216 1402.8h9v1.6h-9zM224.6 1404h9v1.6h-9zM216 1405.2h9v1.6h-9zM198.9 1406.5h9v1.6h-9zM233.2 1427.4h9v6.5h-9zM258.9 1427.4h9v6.5h-9zM224.6 1433.5h9v7.8h-9zM267.5 1433.5h9v7.8h-9zM216 1440.9h9v9h-9zM284.7 1440.9h9v9h-9zM293.2 1449.5h9v10.2h-9zM301.8 1459.3h9v11.5h-9zM644.9 1482.7h9v13.9h-9zM319 1496.2h9v15.2h-9zM602 1496.2h17.6v15.2h-17.6zM670.6 1496.2h17.6v15.2h-17.6zM559.1 1511h17.6v16.4h-17.6zM696.3 1511h17.6v16.4h-17.6zM541.9 1526.9h9v17.6h-9zM739.2 1526.9h17.6v17.6h-17.6zM336.1 1544.1h9v18.8h-9zM516.2 1544.1h17.6v18.8h-17.6zM344.7 1562.6h9v21.3h-9zM516.2 1562.6h9v21.3h-9zM361.8 1583.5h17.6v25h-17.6zM490.5 1583.5h17.6v25h-17.6zM404.7 1608.1h77.6v27.4h-77.6z"/>
<path fill="#fbe4d6" d="M207.5 1399.1h9v1.6h-9zM216 1401.6h9v1.6h-9zM224.6 1402.8h9v1.6h-9zM224.6 1405.2h9v1.6h-9zM181.7 1407.7h9v1.6h-9zM164.6 1410.2h9v1.6h-9zM233.2 1422.5h26.1v5.3h-26.1zM224.6 1427.4h9v6.5h-9zM164.6 1433.5h9v7.8h-9zM216 1433.5h9v7.8h-9zM276.1 1433.5h9v7.8h-9zM173.2 1440.9h43.3v9h-43.3zM310.4 1470.4h9v12.7h-9zM627.7 1482.7h17.6v13.9h-17.6zM653.4 1482.7h17.6v13.9h-17.6zM584.8 1496.2h17.6v15.2h-17.6zM687.7 1496.2h17.6v15.2h-17.6zM327.5 1511h9v16.4h-9zM550.5 1511h9v16.4h-9zM713.5 1511h9v16.4h-9zM533.4 1526.9h9v17.6h-9zM756.4 1526.9h60.4v17.6h-60.4zM353.3 1562.6h9v21.3h-9zM507.6 1562.6h9v21.3h-9zM379 1583.5h34.7v25h-34.7zM481.9 1583.5h9v25h-9z"/>
<path fill="#fce2d2" d="M216 1400.3h9v1.6h-9zM224.6 1401.6h9v1.6h-9zM233.2 1404h9v1.6h-9zM233.2 1405.2h9v1.6h-9zM207.5 1406.5h9v1.6h-9zM190.3 1407.7h9v1.6h-9zM173.2 1408.9h9v1.6h-9zM164.6 1427.4h9v6.5h-9zM216 1427.4h9v6.5h-9zM267.5 1427.4h9v6.5h-9zM198.9 1433.5h17.6v7.8h-17.6zM293.2 1440.9h9v9h-9zM301.8 1449.5h9v10.2h-9zM319 1482.7h9v13.9h-9zM610.6 1482.7h17.6v13.9h-17.6zM670.6 1482.7h26.1v13.9h-26.1zM567.7 1496.2h17.6v15.2h-17.6zM704.9 1496.2h9v15.2h-9zM541.9 1511h9v16.4h-9zM722 1511h9v16.4h-9zM336.1 1526.9h9v17.6h-9zM524.8 1526.9h9v17.6h-9zM344.7 1544.1h9v18.8h-9zM507.6 1544.1h9v18.8h-9zM361.8 1562.6h9v21.3h-9zM413.3 1583.5h69v25h-69z"/>
<path fill="#fce0d0" d="M216 1399.1h9v1.6h-9zM224.6 1400.3h9v1.6h-9zM233.2 1402.8h9v1.6h-9zM164.6 1411.4h9v2.2h-9zM233.2 1418.8h17.6v4.1h-17.6zM164.6 1422.5h9v5.3h-9zM224.6 1422.5h9v5.3h-9zM258.9 1422.5h9v5.3h-9zM207.5 1427.4h9v6.5h-9zM173.2 1433.5h26.1v7.8h-26.1zM284.7 1433.5h9v7.8h-9zM310.4 1459.3h9v11.5h-9zM636.3 1470.4h34.7v12.7h-34.7zM602 1482.7h9v13.9h-9zM696.3 1482.7h9v13.9h-9zM327.5 1496.2h9v15.2h-9zM559.1 1496.2h9v15.2h-9zM713.5 1496.2h9v15.2h-9zM807.8 1496.2h9v15.2h-9zM533.4 1511h9v16.4h-9zM730.6 1511h9v16.4h-9zM516.2 1526.9h9v17.6h-9zM353.3 1544.1h9v18.8h-9zM370.4 1562.6h9v21.3h-9zM499.1 1562.6h9v21.3h-9z"/>
<path fill="#fcdecd" d="M224.6 1399.1h9v1.6h-9zM233.2 1400.3h9v1.6h-9zM233.2 1401.6h9v1.6h-9zM241.8 1404h9v1.6h-9zM216 1406.5h26.1v1.6h-26.1zM198.9 1407.7h9v1.6h-9zM181.7 1408.9h9v1.6h-9zM164.6 1413.2h9v2.9h-9zM164.6 1415.7h9v3.5h-9zM164.6 1418.8h9v4.1h-9zM250.4 1418.8h9v4.1h-9zM216 1422.5h9v5.3h-9zM198.9 1427.4h9v6.5h-9zM276.1 1427.4h9v6.5h-9zM319 1470.4h9v12.7h-9zM627.7 1470.4h9v12.7h-9zM670.6 1470.4h26.1v12.7h-26.1zM584.8 1482.7h17.6v13.9h-17.6zM704.9 1482.7h9v13.9h-9zM790.7 1482.7h26.1v13.9h-26.1zM541.9 1496.2h17.6v15.2h-17.6zM722 1496.2h9v15.2h-9zM790.7 1496.2h17.6v15.2h-17.6zM336.1 1511h9v16.4h-9zM524.8 1511h9v16.4h-9zM739.2 1511h9v16.4h-9zM799.2 1511h17.6v16.4h-17.6zM344.7 1526.9h9v17.6h-9zM361.8 1544.1h9v18.8h-9zM379 1562.6h17.6v21.3h-17.6zM490.5 1562.6h9v21.3h-9z"/>
<path fill="#fddcc9" d="M233.2 1399.1h9v1.6h-9zM241.8 1402.8h9v1.6h-9zM241.8 1405.2h9v1.6h-9zM173.2 1410.2h9v1.6h-9zM233.2 1415.7h17.6v3.5h-17.6zM224.6 1418.8h9v4.1h-9zM258.9 1418.8h9v4.1h-9zM207.5 1422.5h9v5.3h-9zM267.5 1422.5h9v5.3h-9zM173.2 1427.4h26.1v6.5h-26.1zM293.2 1433.5h9v7.8h-9zM301.8 1440.9h9v9h-9zM310.4 1449.5h9v10.2h-9zM619.1 1470.4h9v12.7h-9zM696.3 1470.4h9v12.7h-9zM782.1 1470.4h34.7v12.7h-34.7zM327.5 1482.7h9v13.9h-9zM576.3 1482.7h9v13.9h-9zM713.5 1482.7h9v13.9h-9zM782.1 1482.7h9v13.9h-9zM730.6 1496.2h9v15.2h-9zM782.1 1496.2h9v15.2h-9zM516.2 1511h9v16.4h-9zM747.8 1511h9v16.4h-9zM782.1 1511h17.6v16.4h-17.6zM507.6 1526.9h9v17.6h-9zM499.1 1544.1h9v18.8h-9zM396.2 1562.6h17.6v21.3h-17.6zM481.9 1562.6h9v21.3h-9z"/>
<path fill="#fddbc7" d="M241.8 1401.6h9v1.6h-9zM241.8 1406.5h9v1.6h-9zM207.5 1407.7h9v1.6h-9zM224.6 1407.7h17.6v1.6h-17.6zM190.3 1408.9h9v1.6h-9zM224.6 1415.7h9v3.5h-9zM250.4 1415.7h9v3.5h-9zM216 1418.8h9v4.1h-9zM173.2 1422.5h17.6v5.3h-17.6zM198.9 1422.5h9v5.3h-9zM284.7 1427.4h9v6.5h-9zM319 1459.3h9v11.5h-9zM636.3 1459.3h17.6v11.5h-17.6zM602 1470.4h17.6v12.7h-17.6zM704.9 1470.4h77.6v12.7h-77.6zM567.7 1482.7h9v13.9h-9zM722 1482.7h17.6v13.9h-17.6zM764.9 1482.7h17.6v13.9h-17.6zM336.1 1496.2h9v15.2h-9zM533.4 1496.2h9v15.2h-9zM739.2 1496.2h9v15.2h-9zM764.9 1496.2h17.6v15.2h-17.6zM344.7 1511h9v16.4h-9zM756.4 1511h26.1v16.4h-26.1zM353.3 1526.9h9v17.6h-9zM370.4 1544.1h9v18.8h-9zM413.3 1562.6h69v21.3h-69z"/>
<path fill="#fcd7c2" d="M241.8 1400.3h9v1.6h-9zM216 1407.7h9v1.6h-9zM181.7 1410.2h9v1.6h-9zM173.2 1411.4h9v2.2h-9zM258.9 1415.7h9v3.5h-9zM207.5 1418.8h9v4.1h-9zM267.5 1418.8h9v4.1h-9zM190.3 1422.5h9v5.3h-9zM276.1 1422.5h9v5.3h-9zM293.2 1427.4h9v6.5h-9zM301.8 1433.5h9v7.8h-9zM653.4 1459.3h17.6v11.5h-17.6zM327.5 1470.4h9v12.7h-9zM593.4 1470.4h9v12.7h-9zM559.1 1482.7h9v13.9h-9zM739.2 1482.7h26.1v13.9h-26.1zM524.8 1496.2h9v15.2h-9zM747.8 1496.2h17.6v15.2h-17.6zM507.6 1511h9v16.4h-9zM361.8 1526.9h9v17.6h-9zM499.1 1526.9h9v17.6h-9zM379 1544.1h9v18.8h-9z"/>
<path fill="#fcd5bf" d="M241.8 1399.1h9v1.6h-9zM250.4 1404h9v1.6h-9zM250.4 1405.2h9v1.6h-9zM241.8 1407.7h9v1.6h-9zM198.9 1408.9h9v1.6h-9zM233.2 1408.9h9v1.6h-9zM173.2 1413.2h9v2.9h-9zM233.2 1413.2h17.6v2.9h-17.6zM173.2 1415.7h9v3.5h-9zM216 1415.7h9v3.5h-9zM173.2 1418.8h34.7v4.1h-34.7zM284.7 1422.5h9v5.3h-9zM310.4 1440.9h9v9h-9zM319 1449.5h9v10.2h-9zM627.7 1459.3h9v11.5h-9zM670.6 1459.3h17.6v11.5h-17.6zM584.8 1470.4h9v12.7h-9zM550.5 1482.7h9v13.9h-9zM516.2 1496.2h9v15.2h-9zM353.3 1511h9v16.4h-9zM370.4 1526.9h9v17.6h-9zM387.6 1544.1h9v18.8h-9zM490.5 1544.1h9v18.8h-9z"/>
<path fill="#fbd0b9" d="M250.4 1402.8h9v1.6h-9zM224.6 1408.9h9v1.6h-9zM241.8 1408.9h9v1.6h-9zM190.3 1410.2h9v1.6h-9zM181.7 1411.4h9v2.2h-9zM181.7 1413.2h9v2.9h-9zM250.4 1413.2h9v2.9h-9zM181.7 1415.7h9v3.5h-9zM207.5 1415.7h9v3.5h-9zM267.5 1415.7h9v3.5h-9zM782.1 1415.7h17.6v3.5h-17.6zM276.1 1418.8h9v4.1h-9zM619.1 1459.3h9v11.5h-9zM687.7 1459.3h9v11.5h-9zM576.3 1470.4h9v12.7h-9zM336.1 1482.7h9v13.9h-9zM541.9 1482.7h9v13.9h-9zM344.7 1496.2h9v15.2h-9zM396.2 1544.1h69v18.8h-69zM481.9 1544.1h9v18.8h-9z"/>
<path fill="#fbccb4" d="M250.4 1401.6h9v1.6h-9zM250.4 1406.5h9v1.6h-9zM250.4 1407.7h9v1.6h-9zM207.5 1408.9h17.6v1.6h-17.6zM233.2 1410.2h17.6v1.6h-17.6zM233.2 1411.4h17.6v2.2h-17.6zM190.3 1413.2h9v2.9h-9zM224.6 1413.2h9v2.9h-9zM258.9 1413.2h9v2.9h-9zM190.3 1415.7h17.6v3.5h-17.6zM799.2 1415.7h17.6v3.5h-17.6zM293.2 1422.5h9v5.3h-9zM301.8 1427.4h9v6.5h-9zM310.4 1433.5h9v7.8h-9zM327.5 1459.3h9v11.5h-9zM610.6 1459.3h9v11.5h-9zM696.3 1459.3h9v11.5h-9zM567.7 1470.4h9v12.7h-9zM533.4 1482.7h9v13.9h-9zM507.6 1496.2h9v15.2h-9zM361.8 1511h9v16.4h-9zM499.1 1511h9v16.4h-9zM379 1526.9h9v17.6h-9zM490.5 1526.9h9v17.6h-9zM464.8 1544.1h17.6v18.8h-17.6z"/>
<path fill="#facab1" d="M250.4 1400.3h9v1.6h-9zM258.9 1404h9v1.6h-9zM258.9 1405.2h9v1.6h-9zM198.9 1410.2h9v1.6h-9zM190.3 1411.4h9v2.2h-9zM198.9 1413.2h9v2.9h-9zM216 1413.2h9v2.9h-9zM276.1 1415.7h9v3.5h-9zM773.5 1415.7h9v3.5h-9zM284.7 1418.8h9v4.1h-9zM319 1440.9h9v9h-9zM636.3 1449.5h17.6v10.2h-17.6zM602 1459.3h9v11.5h-9zM704.9 1459.3h9v11.5h-9zM559.1 1470.4h9v12.7h-9zM524.8 1482.7h9v13.9h-9zM353.3 1496.2h9v15.2h-9zM370.4 1511h9v16.4h-9zM387.6 1526.9h9v17.6h-9z"/>
<path fill="#f9c6ac" d="M250.4 1399.1h9v1.6h-9zM258.9 1402.8h9v1.6h-9zM258.9 1406.5h9v1.6h-9zM258.9 1407.7h9v1.6h-9zM250.4 1408.9h9v1.6h-9zM224.6 1410.2h9v1.6h-9zM250.4 1410.2h9v1.6h-9zM198.9 1411.4h9v2.2h-9zM224.6 1411.4h9v2.2h-9zM250.4 1411.4h9v2.2h-9zM207.5 1413.2h9v2.9h-9zM267.5 1413.2h17.6v2.9h-17.6zM293.2 1418.8h9v4.1h-9zM301.8 1422.5h9v5.3h-9zM310.4 1427.4h9v6.5h-9zM327.5 1449.5h9v10.2h-9zM627.7 1449.5h9v10.2h-9zM653.4 1449.5h9v10.2h-9zM593.4 1459.3h9v11.5h-9zM713.5 1459.3h9v11.5h-9zM782.1 1459.3h34.7v11.5h-34.7zM336.1 1470.4h9v12.7h-9zM550.5 1470.4h9v12.7h-9zM344.7 1482.7h9v13.9h-9zM396.2 1526.9h51.9v17.6h-51.9zM481.9 1526.9h9v17.6h-9z"/>
<path fill="#f9c4a9" d="M258.9 1401.6h9v1.6h-9zM267.5 1404h9v1.6h-9zM267.5 1405.2h9v1.6h-9zM267.5 1406.5h9v1.6h-9zM258.9 1408.9h9v1.6h-9zM207.5 1410.2h17.6v1.6h-17.6zM258.9 1411.4h17.6v2.2h-17.6zM790.7 1413.2h9v2.9h-9zM284.7 1415.7h9v3.5h-9zM319 1433.5h9v7.8h-9zM662 1449.5h9v10.2h-9zM584.8 1459.3h9v11.5h-9zM722 1459.3h60.4v11.5h-60.4zM516.2 1482.7h9v13.9h-9zM499.1 1496.2h9v15.2h-9zM379 1511h9v16.4h-9zM490.5 1511h9v16.4h-9zM447.6 1526.9h34.7v17.6h-34.7z"/>
<path fill="#f8bfa4" d="M258.9 1400.3h9v1.6h-9zM267.5 1402.8h9v1.6h-9zM267.5 1407.7h17.6v1.6h-17.6zM267.5 1408.9h17.6v1.6h-17.6zM258.9 1410.2h26.1v1.6h-26.1zM207.5 1411.4h17.6v2.2h-17.6zM276.1 1411.4h17.6v2.2h-17.6zM284.7 1413.2h17.6v2.9h-17.6zM782.1 1413.2h9v2.9h-9zM799.2 1413.2h9v2.9h-9zM293.2 1415.7h9v3.5h-9zM764.9 1415.7h9v3.5h-9zM301.8 1418.8h9v4.1h-9zM310.4 1422.5h9v5.3h-9zM619.1 1449.5h9v10.2h-9zM670.6 1449.5h9v10.2h-9zM576.3 1459.3h9v11.5h-9zM541.9 1470.4h9v12.7h-9zM361.8 1496.2h9v15.2h-9zM387.6 1511h9v16.4h-9z"/>
<path fill="#f8bb9e" d="M258.9 1399.1h9v1.6h-9zM267.5 1400.3h9v1.6h-9zM267.5 1401.6h9v1.6h-9zM276.1 1404h9v1.6h-9zM276.1 1405.2h9v1.6h-9zM276.1 1406.5h9v1.6h-9zM284.7 1408.9h9v1.6h-9zM284.7 1410.2h9v1.6h-9zM293.2 1411.4h9v2.2h-9zM773.5 1413.2h9v2.9h-9zM807.8 1413.2h9v2.9h-9zM301.8 1415.7h9v3.5h-9zM319 1427.4h9v6.5h-9zM327.5 1440.9h9v9h-9zM610.6 1449.5h9v10.2h-9zM679.2 1449.5h9v10.2h-9zM336.1 1459.3h9v11.5h-9zM567.7 1459.3h9v11.5h-9zM344.7 1470.4h9v12.7h-9zM533.4 1470.4h9v12.7h-9zM353.3 1482.7h9v13.9h-9zM507.6 1482.7h9v13.9h-9zM370.4 1496.2h9v15.2h-9zM490.5 1496.2h9v15.2h-9zM396.2 1511h9v16.4h-9zM481.9 1511h9v16.4h-9z"/>
<path fill="#f7b99c" d="M267.5 1399.1h9v1.6h-9zM276.1 1401.6h9v1.6h-9zM276.1 1402.8h9v1.6h-9zM284.7 1405.2h9v1.6h-9zM284.7 1406.5h9v1.6h-9zM284.7 1407.7h17.6v1.6h-17.6zM293.2 1408.9h9v1.6h-9zM293.2 1410.2h9v1.6h-9zM301.8 1413.2h9v2.9h-9zM310.4 1418.8h9v4.1h-9zM319 1422.5h9v5.3h-9zM644.9 1440.9h9v9h-9zM602 1449.5h9v10.2h-9zM687.7 1449.5h9v10.2h-9zM559.1 1459.3h9v11.5h-9zM404.7 1511h77.6v16.4h-77.6z"/>
<path fill="#f7b596" d="M276.1 1399.1h9v1.6h-9zM276.1 1400.3h9v1.6h-9zM284.7 1402.8h9v1.6h-9zM284.7 1404h9v1.6h-9zM293.2 1405.2h9v1.6h-9zM293.2 1406.5h9v1.6h-9zM301.8 1408.9h9v1.6h-9zM301.8 1410.2h9v1.6h-9zM301.8 1411.4h9v2.2h-9zM782.1 1411.4h17.6v2.2h-17.6zM764.9 1413.2h9v2.9h-9zM310.4 1415.7h9v3.5h-9zM756.4 1415.7h9v3.5h-9zM782.1 1418.8h26.1v4.1h-26.1zM327.5 1433.5h9v7.8h-9zM636.3 1440.9h9v9h-9zM653.4 1440.9h9v9h-9zM336.1 1449.5h9v10.2h-9zM593.4 1449.5h9v10.2h-9zM550.5 1459.3h9v11.5h-9zM524.8 1470.4h9v12.7h-9zM361.8 1482.7h9v13.9h-9zM379 1496.2h9v15.2h-9zM481.9 1496.2h9v15.2h-9z"/>
<path fill="#f6b394" d="M284.7 1399.1h9v1.6h-9zM284.7 1400.3h9v1.6h-9zM284.7 1401.6h9v1.6h-9zM293.2 1402.8h9v1.6h-9zM293.2 1404h9v1.6h-9zM301.8 1406.5h9v1.6h-9zM301.8 1407.7h9v1.6h-9zM310.4 1411.4h9v2.2h-9zM773.5 1411.4h9v2.2h-9zM799.2 1411.4h17.6v2.2h-17.6zM310.4 1413.2h9v2.9h-9zM319 1418.8h9v4.1h-9zM773.5 1418.8h9v4.1h-9zM807.8 1418.8h9v4.1h-9zM327.5 1427.4h9v6.5h-9zM627.7 1440.9h9v9h-9zM662 1440.9h9v9h-9zM576.3 1449.5h17.6v10.2h-17.6zM696.3 1449.5h9v10.2h-9zM344.7 1459.3h9v11.5h-9zM541.9 1459.3h9v11.5h-9zM353.3 1470.4h9v12.7h-9zM499.1 1482.7h9v13.9h-9zM387.6 1496.2h9v15.2h-9zM473.3 1496.2h9v15.2h-9z"/>
<path fill="#f6af8e" d="M293.2 1400.3h9v1.6h-9zM293.2 1401.6h9v1.6h-9zM301.8 1402.8h9v1.6h-9zM301.8 1404h9v1.6h-9zM301.8 1405.2h9v1.6h-9zM310.4 1408.9h9v1.6h-9zM310.4 1410.2h9v1.6h-9zM764.9 1411.4h9v2.2h-9zM756.4 1413.2h9v2.9h-9zM319 1415.7h9v3.5h-9zM739.2 1415.7h17.6v3.5h-17.6zM764.9 1418.8h9v4.1h-9zM687.7 1422.5h9v5.3h-9zM619.1 1440.9h9v9h-9zM670.6 1440.9h9v9h-9zM567.7 1449.5h9v10.2h-9zM704.9 1449.5h9v10.2h-9zM533.4 1459.3h9v11.5h-9zM516.2 1470.4h9v12.7h-9zM370.4 1482.7h9v13.9h-9zM396.2 1496.2h9v15.2h-9zM413.3 1496.2h9v15.2h-9zM464.8 1496.2h9v15.2h-9z"/>
<path fill="#f5aa89" d="M293.2 1399.1h9v1.6h-9zM301.8 1400.3h9v1.6h-9zM301.8 1401.6h9v1.6h-9zM310.4 1405.2h9v1.6h-9zM310.4 1406.5h9v1.6h-9zM310.4 1407.7h9v1.6h-9zM319 1410.2h9v1.6h-9zM319 1411.4h9v2.2h-9zM319 1413.2h9v2.9h-9zM739.2 1413.2h17.6v2.9h-17.6zM713.5 1415.7h26.1v3.5h-26.1zM756.4 1418.8h9v4.1h-9zM327.5 1422.5h9v5.3h-9zM679.2 1422.5h9v5.3h-9zM696.3 1422.5h9v5.3h-9zM679.2 1427.4h17.6v6.5h-17.6zM670.6 1433.5h17.6v7.8h-17.6zM336.1 1440.9h9v9h-9zM610.6 1440.9h9v9h-9zM679.2 1440.9h9v9h-9zM550.5 1449.5h17.6v10.2h-17.6zM713.5 1449.5h9v10.2h-9zM799.2 1449.5h17.6v10.2h-17.6zM490.5 1482.7h9v13.9h-9zM404.7 1496.2h9v15.2h-9zM421.9 1496.2h17.6v15.2h-17.6zM456.2 1496.2h9v15.2h-9z"/>
<path fill="#f5a886" d="M301.8 1399.1h9v1.6h-9zM310.4 1401.6h9v1.6h-9zM310.4 1402.8h9v1.6h-9zM310.4 1404h9v1.6h-9zM319 1406.5h9v1.6h-9zM319 1407.7h9v1.6h-9zM319 1408.9h9v1.6h-9zM747.8 1411.4h17.6v2.2h-17.6zM722 1413.2h17.6v2.9h-17.6zM327.5 1415.7h9v3.5h-9zM696.3 1415.7h17.6v3.5h-17.6zM327.5 1418.8h9v4.1h-9zM687.7 1418.8h69v4.1h-69zM704.9 1422.5h9v5.3h-9zM670.6 1427.4h9v6.5h-9zM336.1 1433.5h9v7.8h-9zM644.9 1433.5h26.1v7.8h-26.1zM687.7 1433.5h9v7.8h-9zM602 1440.9h9v9h-9zM687.7 1440.9h9v9h-9zM344.7 1449.5h9v10.2h-9zM782.1 1449.5h17.6v10.2h-17.6zM353.3 1459.3h9v11.5h-9zM524.8 1459.3h9v11.5h-9zM361.8 1470.4h9v12.7h-9zM507.6 1470.4h9v12.7h-9zM379 1482.7h9v13.9h-9zM439 1496.2h17.6v15.2h-17.6z"/>
<path fill="#f3a481" d="M310.4 1399.1h9v1.6h-9zM310.4 1400.3h9v1.6h-9zM319 1402.8h9v1.6h-9zM319 1404h9v1.6h-9zM319 1405.2h9v1.6h-9zM773.5 1410.2h26.1v1.6h-26.1zM722 1411.4h26.1v2.2h-26.1zM327.5 1413.2h9v2.9h-9zM704.9 1413.2h17.6v2.9h-17.6zM687.7 1415.7h9v3.5h-9zM679.2 1418.8h9v4.1h-9zM670.6 1422.5h9v5.3h-9zM713.5 1422.5h9v5.3h-9zM696.3 1427.4h9v6.5h-9zM636.3 1433.5h9v7.8h-9zM593.4 1440.9h9v9h-9zM541.9 1449.5h9v10.2h-9zM722 1449.5h60.4v10.2h-60.4zM387.6 1482.7h9v13.9h-9zM481.9 1482.7h9v13.9h-9z"/>
<path fill="#f2a17f" d="M319 1399.1h9v1.6h-9zM319 1400.3h9v1.6h-9zM319 1401.6h9v1.6h-9zM327.5 1408.9h9v1.6h-9zM327.5 1410.2h9v1.6h-9zM764.9 1410.2h9v1.6h-9zM799.2 1410.2h17.6v1.6h-17.6zM327.5 1411.4h9v2.2h-9zM713.5 1411.4h9v2.2h-9zM679.2 1415.7h9v3.5h-9zM722 1422.5h9v5.3h-9zM336.1 1427.4h9v6.5h-9zM662 1427.4h9v6.5h-9zM627.7 1433.5h9v7.8h-9zM344.7 1440.9h9v9h-9zM567.7 1440.9h26.1v9h-26.1zM696.3 1440.9h9v9h-9zM353.3 1449.5h9v10.2h-9zM533.4 1449.5h9v10.2h-9zM361.8 1459.3h9v11.5h-9zM516.2 1459.3h9v11.5h-9zM370.4 1470.4h9v12.7h-9zM396.2 1482.7h9v13.9h-9zM413.3 1482.7h9v13.9h-9zM473.3 1482.7h9v13.9h-9z"/>
<path fill="#f09c7b" d="M327.5 1404h9v1.6h-9zM327.5 1405.2h9v1.6h-9zM327.5 1406.5h9v1.6h-9zM327.5 1407.7h9v1.6h-9zM722 1410.2h43.3v1.6h-43.3zM704.9 1411.4h9v2.2h-9zM687.7 1413.2h17.6v2.9h-17.6zM670.6 1418.8h9v4.1h-9zM336.1 1422.5h9v5.3h-9zM730.6 1422.5h17.6v5.3h-17.6zM653.4 1427.4h9v6.5h-9zM704.9 1427.4h9v6.5h-9zM619.1 1433.5h9v7.8h-9zM696.3 1433.5h9v7.8h-9zM550.5 1440.9h17.6v9h-17.6zM524.8 1449.5h9v10.2h-9zM379 1470.4h9v12.7h-9zM499.1 1470.4h9v12.7h-9zM404.7 1482.7h9v13.9h-9zM421.9 1482.7h17.6v13.9h-17.6zM464.8 1482.7h9v13.9h-9z"/>
<path fill="#ee9677" d="M327.5 1400.3h9v1.6h-9zM327.5 1401.6h9v1.6h-9zM327.5 1402.8h9v1.6h-9zM713.5 1410.2h9v1.6h-9zM696.3 1411.4h9v2.2h-9zM336.1 1415.7h9v3.5h-9zM336.1 1418.8h9v4.1h-9zM662 1422.5h9v5.3h-9zM747.8 1422.5h9v5.3h-9zM713.5 1427.4h9v6.5h-9zM344.7 1433.5h9v7.8h-9zM610.6 1433.5h9v7.8h-9zM541.9 1440.9h9v9h-9zM704.9 1440.9h9v9h-9zM516.2 1449.5h9v10.2h-9zM370.4 1459.3h9v11.5h-9zM507.6 1459.3h9v11.5h-9zM439 1482.7h26.1v13.9h-26.1z"/>
<path fill="#ec9374" d="M327.5 1399.1h9v1.6h-9zM336.1 1407.7h9v1.6h-9zM336.1 1408.9h9v1.6h-9zM336.1 1410.2h9v1.6h-9zM704.9 1410.2h9v1.6h-9zM336.1 1411.4h9v2.2h-9zM687.7 1411.4h9v2.2h-9zM336.1 1413.2h9v2.9h-9zM679.2 1413.2h9v2.9h-9zM670.6 1415.7h9v3.5h-9zM756.4 1422.5h9v5.3h-9zM344.7 1427.4h9v6.5h-9zM644.9 1427.4h9v6.5h-9zM722 1427.4h9v6.5h-9zM704.9 1433.5h9v7.8h-9zM353.3 1440.9h9v9h-9zM533.4 1440.9h9v9h-9zM361.8 1449.5h9v10.2h-9zM387.6 1470.4h9v12.7h-9z"/>
<path fill="#ea8e70" d="M336.1 1404h9v1.6h-9zM336.1 1405.2h9v1.6h-9zM336.1 1406.5h9v1.6h-9zM764.9 1408.9h17.6v1.6h-17.6zM662 1418.8h9v4.1h-9zM653.4 1422.5h9v5.3h-9zM764.9 1422.5h9v5.3h-9zM636.3 1427.4h9v6.5h-9zM730.6 1427.4h9v6.5h-9zM353.3 1433.5h9v7.8h-9zM584.8 1433.5h26.1v7.8h-26.1zM524.8 1440.9h9v9h-9zM713.5 1440.9h9v9h-9zM379 1459.3h9v11.5h-9zM396.2 1470.4h9v12.7h-9zM413.3 1470.4h9v12.7h-9zM490.5 1470.4h9v12.7h-9z"/>
<path fill="#e98b6e" d="M336.1 1399.1h9v1.6h-9zM336.1 1400.3h9v1.6h-9zM336.1 1401.6h9v1.6h-9zM336.1 1402.8h9v1.6h-9zM722 1408.9h43.3v1.6h-43.3zM782.1 1408.9h17.6v1.6h-17.6zM696.3 1410.2h9v1.6h-9zM679.2 1411.4h9v2.2h-9zM670.6 1413.2h9v2.9h-9zM662 1415.7h9v3.5h-9zM344.7 1418.8h9v4.1h-9zM344.7 1422.5h9v5.3h-9zM773.5 1422.5h17.6v5.3h-17.6zM739.2 1427.4h17.6v6.5h-17.6zM550.5 1433.5h34.7v7.8h-34.7zM713.5 1433.5h9v7.8h-9zM361.8 1440.9h9v9h-9zM516.2 1440.9h9v9h-9zM722 1440.9h9v9h-9zM807.8 1440.9h9v9h-9zM370.4 1449.5h9v10.2h-9zM507.6 1449.5h9v10.2h-9zM404.7 1470.4h9v12.7h-9zM421.9 1470.4h9v12.7h-9zM481.9 1470.4h9v12.7h-9z"/>
<path fill="#e6866a" d="M713.5 1408.9h9v1.6h-9zM799.2 1408.9h9v1.6h-9zM344.7 1410.2h9v1.6h-9zM687.7 1410.2h9v1.6h-9zM344.7 1411.4h9v2.2h-9zM344.7 1413.2h9v2.9h-9zM344.7 1415.7h9v3.5h-9zM653.4 1418.8h9v4.1h-9zM644.9 1422.5h9v5.3h-9zM790.7 1422.5h26.1v5.3h-26.1zM353.3 1427.4h9v6.5h-9zM627.7 1427.4h9v6.5h-9zM756.4 1427.4h9v6.5h-9zM361.8 1433.5h9v7.8h-9zM541.9 1433.5h9v7.8h-9zM722 1433.5h9v7.8h-9zM507.6 1440.9h9v9h-9zM730.6 1440.9h43.3v9h-43.3zM799.2 1440.9h9v9h-9zM387.6 1459.3h9v11.5h-9zM499.1 1459.3h9v11.5h-9zM430.5 1470.4h9v12.7h-9zM473.3 1470.4h9v12.7h-9z"/>
<path fill="#e48066" d="M344.7 1404h9v1.6h-9zM344.7 1405.2h9v1.6h-9zM344.7 1406.5h9v1.6h-9zM344.7 1407.7h9v1.6h-9zM344.7 1408.9h9v1.6h-9zM704.9 1408.9h9v1.6h-9zM807.8 1408.9h9v1.6h-9zM679.2 1410.2h9v1.6h-9zM670.6 1411.4h9v2.2h-9zM662 1413.2h9v2.9h-9zM524.8 1433.5h17.6v7.8h-17.6zM730.6 1433.5h9v7.8h-9zM370.4 1440.9h9v9h-9zM773.5 1440.9h26.1v9h-26.1zM379 1449.5h9v10.2h-9zM439 1470.4h34.7v12.7h-34.7z"/>
<path fill="#e37e64" d="M344.7 1400.3h9v1.6h-9zM344.7 1401.6h9v1.6h-9zM344.7 1402.8h9v1.6h-9zM696.3 1408.9h9v1.6h-9zM653.4 1415.7h9v3.5h-9zM353.3 1418.8h9v4.1h-9zM644.9 1418.8h9v4.1h-9zM353.3 1422.5h9v5.3h-9zM619.1 1427.4h9v6.5h-9zM764.9 1427.4h9v6.5h-9zM516.2 1433.5h9v7.8h-9zM739.2 1433.5h17.6v7.8h-17.6zM396.2 1459.3h34.7v11.5h-34.7z"/>
<path fill="#e17860" d="M344.7 1399.1h9v1.6h-9zM722 1407.7h60.4v1.6h-60.4zM687.7 1408.9h9v1.6h-9zM670.6 1410.2h9v1.6h-9zM662 1411.4h9v2.2h-9zM353.3 1413.2h9v2.9h-9zM353.3 1415.7h9v3.5h-9zM636.3 1422.5h9v5.3h-9zM361.8 1427.4h9v6.5h-9zM610.6 1427.4h9v6.5h-9zM773.5 1427.4h9v6.5h-9zM370.4 1433.5h9v7.8h-9zM507.6 1433.5h9v7.8h-9zM756.4 1433.5h9v7.8h-9zM499.1 1440.9h9v9h-9zM387.6 1449.5h9v10.2h-9zM499.1 1449.5h9v10.2h-9z"/>
<path fill="#df765e" d="M353.3 1406.5h9v1.6h-9zM353.3 1407.7h9v1.6h-9zM704.9 1407.7h17.6v1.6h-17.6zM353.3 1408.9h9v1.6h-9zM679.2 1408.9h9v1.6h-9zM353.3 1410.2h9v1.6h-9zM353.3 1411.4h9v2.2h-9zM653.4 1413.2h9v2.9h-9zM644.9 1415.7h9v3.5h-9zM782.1 1427.4h9v6.5h-9zM799.2 1427.4h17.6v6.5h-17.6zM764.9 1433.5h9v7.8h-9zM807.8 1433.5h9v7.8h-9zM379 1440.9h9v9h-9zM430.5 1459.3h9v11.5h-9zM490.5 1459.3h9v11.5h-9z"/>
<path fill="#dd7059" d="M353.3 1402.8h9v1.6h-9zM353.3 1404h9v1.6h-9zM353.3 1405.2h9v1.6h-9zM696.3 1407.7h9v1.6h-9zM782.1 1407.7h9v1.6h-9zM670.6 1408.9h9v1.6h-9zM662 1410.2h9v1.6h-9zM653.4 1411.4h9v2.2h-9zM361.8 1418.8h9v4.1h-9zM636.3 1418.8h9v4.1h-9zM361.8 1422.5h9v5.3h-9zM627.7 1422.5h9v5.3h-9zM370.4 1427.4h9v6.5h-9zM602 1427.4h9v6.5h-9zM790.7 1427.4h9v6.5h-9zM379 1433.5h9v7.8h-9zM499.1 1433.5h9v7.8h-9zM773.5 1433.5h9v7.8h-9zM799.2 1433.5h9v7.8h-9zM396.2 1449.5h9v10.2h-9z"/>
<path fill="#db6b55" d="M353.3 1400.3h9v1.6h-9zM353.3 1401.6h9v1.6h-9zM687.7 1407.7h9v1.6h-9zM790.7 1407.7h9v1.6h-9zM644.9 1413.2h9v2.9h-9zM361.8 1415.7h9v3.5h-9zM636.3 1415.7h9v3.5h-9zM516.2 1427.4h9v6.5h-9zM584.8 1427.4h17.6v6.5h-17.6zM782.1 1433.5h17.6v7.8h-17.6zM387.6 1440.9h9v9h-9zM490.5 1440.9h9v9h-9zM404.7 1449.5h17.6v10.2h-17.6zM490.5 1449.5h9v10.2h-9zM439 1459.3h9v11.5h-9z"/>
<path fill="#da6853" d="M353.3 1399.1h9v1.6h-9zM713.5 1406.5h51.9v1.6h-51.9zM679.2 1407.7h9v1.6h-9zM799.2 1407.7h9v1.6h-9zM662 1408.9h9v1.6h-9zM361.8 1410.2h9v1.6h-9zM653.4 1410.2h9v1.6h-9zM361.8 1411.4h9v2.2h-9zM644.9 1411.4h9v2.2h-9zM361.8 1413.2h9v2.9h-9zM627.7 1418.8h9v4.1h-9zM370.4 1422.5h9v5.3h-9zM619.1 1422.5h9v5.3h-9zM507.6 1427.4h9v6.5h-9zM524.8 1427.4h17.6v6.5h-17.6zM559.1 1427.4h26.1v6.5h-26.1zM490.5 1433.5h9v7.8h-9zM421.9 1449.5h9v10.2h-9zM481.9 1459.3h9v11.5h-9z"/>
<path fill="#d7634f" d="M361.8 1404h9v1.6h-9zM361.8 1405.2h9v1.6h-9zM361.8 1406.5h9v1.6h-9zM696.3 1406.5h17.6v1.6h-17.6zM764.9 1406.5h9v1.6h-9zM361.8 1407.7h9v1.6h-9zM670.6 1407.7h9v1.6h-9zM807.8 1407.7h9v1.6h-9zM361.8 1408.9h9v1.6h-9zM636.3 1413.2h9v2.9h-9zM627.7 1415.7h9v3.5h-9zM370.4 1418.8h9v4.1h-9zM379 1427.4h9v6.5h-9zM499.1 1427.4h9v6.5h-9zM541.9 1427.4h17.6v6.5h-17.6zM387.6 1433.5h9v7.8h-9zM447.6 1459.3h9v11.5h-9zM464.8 1459.3h17.6v11.5h-17.6z"/>
<path fill="#d6604d" d="M361.8 1401.6h9v1.6h-9zM361.8 1402.8h9v1.6h-9zM679.2 1406.5h17.6v1.6h-17.6zM773.5 1406.5h9v1.6h-9zM662 1407.7h9v1.6h-9zM653.4 1408.9h9v1.6h-9zM644.9 1410.2h9v1.6h-9zM636.3 1411.4h9v2.2h-9zM370.4 1413.2h9v2.9h-9zM627.7 1413.2h9v2.9h-9zM370.4 1415.7h9v3.5h-9zM619.1 1418.8h9v4.1h-9zM379 1422.5h9v5.3h-9zM610.6 1422.5h9v5.3h-9zM490.5 1427.4h9v6.5h-9zM481.9 1433.5h9v7.8h-9zM396.2 1440.9h9v9h-9zM481.9 1440.9h9v9h-9zM481.9 1449.5h9v10.2h-9zM456.2 1459.3h9v11.5h-9z"/>
<path fill="#d35a4a" d="M361.8 1399.1h9v1.6h-9zM361.8 1400.3h9v1.6h-9zM670.6 1406.5h9v1.6h-9zM370.4 1407.7h9v1.6h-9zM653.4 1407.7h9v1.6h-9zM370.4 1408.9h9v1.6h-9zM644.9 1408.9h9v1.6h-9zM370.4 1410.2h9v1.6h-9zM636.3 1410.2h9v1.6h-9zM370.4 1411.4h9v2.2h-9zM627.7 1411.4h9v2.2h-9zM619.1 1415.7h9v3.5h-9zM379 1418.8h9v4.1h-9zM507.6 1422.5h9v5.3h-9zM387.6 1427.4h9v6.5h-9zM404.7 1440.9h17.6v9h-17.6zM430.5 1449.5h9v10.2h-9z"/>
<path fill="#d05548" d="M370.4 1404h9v1.6h-9zM370.4 1405.2h9v1.6h-9zM696.3 1405.2h69v1.6h-69zM370.4 1406.5h9v1.6h-9zM662 1406.5h9v1.6h-9zM782.1 1406.5h9v1.6h-9zM644.9 1407.7h9v1.6h-9zM636.3 1408.9h9v1.6h-9zM627.7 1410.2h9v1.6h-9zM379 1413.2h9v2.9h-9zM619.1 1413.2h9v2.9h-9zM379 1415.7h9v3.5h-9zM610.6 1418.8h9v4.1h-9zM387.6 1422.5h9v5.3h-9zM490.5 1422.5h17.6v5.3h-17.6zM516.2 1422.5h9v5.3h-9zM602 1422.5h9v5.3h-9zM481.9 1427.4h9v6.5h-9zM396.2 1433.5h9v7.8h-9zM473.3 1433.5h9v7.8h-9zM473.3 1449.5h9v10.2h-9z"/>
<path fill="#cf5246" d="M370.4 1401.6h9v1.6h-9zM370.4 1402.8h9v1.6h-9zM670.6 1405.2h26.1v1.6h-26.1zM764.9 1405.2h9v1.6h-9zM653.4 1406.5h9v1.6h-9zM790.7 1406.5h9v1.6h-9zM379 1407.7h9v1.6h-9zM636.3 1407.7h9v1.6h-9zM379 1408.9h9v1.6h-9zM627.7 1408.9h9v1.6h-9zM379 1410.2h9v1.6h-9zM619.1 1410.2h9v1.6h-9zM379 1411.4h9v2.2h-9zM619.1 1411.4h9v2.2h-9zM610.6 1415.7h9v3.5h-9zM387.6 1418.8h9v4.1h-9zM481.9 1422.5h9v5.3h-9zM524.8 1422.5h9v5.3h-9zM584.8 1422.5h17.6v5.3h-17.6zM396.2 1427.4h9v6.5h-9zM473.3 1427.4h9v6.5h-9zM404.7 1433.5h9v7.8h-9zM421.9 1440.9h9v9h-9zM473.3 1440.9h9v9h-9z"/>
<path fill="#cc4c44" d="M370.4 1400.3h9v1.6h-9zM379 1404h9v1.6h-9zM379 1405.2h9v1.6h-9zM662 1405.2h9v1.6h-9zM379 1406.5h9v1.6h-9zM644.9 1406.5h9v1.6h-9zM799.2 1406.5h9v1.6h-9zM627.7 1407.7h9v1.6h-9zM619.1 1408.9h9v1.6h-9zM610.6 1411.4h9v2.2h-9zM387.6 1413.2h9v2.9h-9zM610.6 1413.2h9v2.9h-9zM387.6 1415.7h9v3.5h-9zM602 1418.8h9v4.1h-9zM396.2 1422.5h9v5.3h-9zM533.4 1422.5h9v5.3h-9zM576.3 1422.5h9v5.3h-9zM413.3 1433.5h9v7.8h-9zM439 1449.5h9v10.2h-9zM464.8 1449.5h9v10.2h-9z"/>
<path fill="#cb4942" d="M370.4 1399.1h9v1.6h-9zM379 1402.8h9v1.6h-9zM679.2 1404h26.1v1.6h-26.1zM644.9 1405.2h17.6v1.6h-17.6zM773.5 1405.2h9v1.6h-9zM627.7 1406.5h17.6v1.6h-17.6zM387.6 1407.7h9v1.6h-9zM619.1 1407.7h9v1.6h-9zM387.6 1408.9h9v1.6h-9zM610.6 1408.9h9v1.6h-9zM387.6 1410.2h9v1.6h-9zM610.6 1410.2h9v1.6h-9zM387.6 1411.4h9v2.2h-9zM602 1411.4h9v2.2h-9zM602 1413.2h9v2.9h-9zM602 1415.7h9v3.5h-9zM396.2 1418.8h9v4.1h-9zM481.9 1418.8h43.3v4.1h-43.3zM593.4 1418.8h9v4.1h-9zM473.3 1422.5h9v5.3h-9zM541.9 1422.5h34.7v5.3h-34.7zM404.7 1427.4h9v6.5h-9zM464.8 1433.5h9v7.8h-9zM464.8 1440.9h9v9h-9zM447.6 1449.5h17.6v10.2h-17.6z"/>
<path fill="#c84440" d="M379 1401.6h9v1.6h-9zM387.6 1404h9v1.6h-9zM653.4 1404h26.1v1.6h-26.1zM704.9 1404h51.9v1.6h-51.9zM387.6 1405.2h9v1.6h-9zM627.7 1405.2h17.6v1.6h-17.6zM387.6 1406.5h9v1.6h-9zM610.6 1406.5h17.6v1.6h-17.6zM807.8 1406.5h9v1.6h-9zM610.6 1407.7h9v1.6h-9zM602 1408.9h9v1.6h-9zM602 1410.2h9v1.6h-9zM396.2 1411.4h9v2.2h-9zM593.4 1411.4h9v2.2h-9zM396.2 1413.2h9v2.9h-9zM593.4 1413.2h9v2.9h-9zM396.2 1415.7h9v3.5h-9zM593.4 1415.7h9v3.5h-9zM473.3 1418.8h9v4.1h-9zM524.8 1418.8h9v4.1h-9zM576.3 1418.8h17.6v4.1h-17.6zM404.7 1422.5h9v5.3h-9zM464.8 1422.5h9v5.3h-9zM413.3 1427.4h9v6.5h-9zM464.8 1427.4h9v6.5h-9zM421.9 1433.5h9v7.8h-9z"/>
<path fill="#c53e3d" d="M379 1399.1h9v1.6h-9zM379 1400.3h9v1.6h-9zM387.6 1402.8h9v1.6h-9zM627.7 1404h26.1v1.6h-26.1zM756.4 1404h9v1.6h-9zM610.6 1405.2h17.6v1.6h-17.6zM396.2 1406.5h9v1.6h-9zM602 1406.5h9v1.6h-9zM396.2 1407.7h9v1.6h-9zM593.4 1407.7h17.6v1.6h-17.6zM396.2 1408.9h9v1.6h-9zM593.4 1408.9h9v1.6h-9zM396.2 1410.2h9v1.6h-9zM473.3 1410.2h26.1v1.6h-26.1zM584.8 1410.2h17.6v1.6h-17.6zM473.3 1411.4h34.7v2.2h-34.7zM584.8 1411.4h9v2.2h-9zM473.3 1413.2h43.3v2.9h-43.3zM584.8 1413.2h9v2.9h-9zM473.3 1415.7h43.3v3.5h-43.3zM584.8 1415.7h9v3.5h-9zM404.7 1418.8h9v4.1h-9zM464.8 1418.8h9v4.1h-9zM533.4 1418.8h17.6v4.1h-17.6zM567.7 1418.8h9v4.1h-9zM430.5 1440.9h9v9h-9z"/>
<path fill="#c43b3c" d="M387.6 1401.6h9v1.6h-9zM653.4 1402.8h51.9v1.6h-51.9zM396.2 1404h9v1.6h-9zM602 1404h26.1v1.6h-26.1zM764.9 1404h9v1.6h-9zM396.2 1405.2h9v1.6h-9zM584.8 1405.2h26.1v1.6h-26.1zM782.1 1405.2h9v1.6h-9zM473.3 1406.5h34.7v1.6h-34.7zM584.8 1406.5h17.6v1.6h-17.6zM473.3 1407.7h43.3v1.6h-43.3zM576.3 1407.7h17.6v1.6h-17.6zM473.3 1408.9h51.9v1.6h-51.9zM576.3 1408.9h17.6v1.6h-17.6zM499.1 1410.2h34.7v1.6h-34.7zM576.3 1410.2h9v1.6h-9zM404.7 1411.4h9v2.2h-9zM507.6 1411.4h26.1v2.2h-26.1zM576.3 1411.4h9v2.2h-9zM404.7 1413.2h9v2.9h-9zM464.8 1413.2h9v2.9h-9zM516.2 1413.2h17.6v2.9h-17.6zM576.3 1413.2h9v2.9h-9zM404.7 1415.7h9v3.5h-9zM464.8 1415.7h9v3.5h-9zM516.2 1415.7h17.6v3.5h-17.6zM576.3 1415.7h9v3.5h-9zM550.5 1418.8h17.6v4.1h-17.6zM413.3 1422.5h9v5.3h-9zM421.9 1427.4h9v6.5h-9zM456.2 1433.5h9v7.8h-9zM456.2 1440.9h9v9h-9z"/>
<path fill="#c13639" d="M387.6 1400.3h9v1.6h-9zM396.2 1402.8h9v1.6h-9zM619.1 1402.8h34.7v1.6h-34.7zM704.9 1402.8h26.1v1.6h-26.1zM499.1 1404h17.6v1.6h-17.6zM584.8 1404h17.6v1.6h-17.6zM473.3 1405.2h60.4v1.6h-60.4zM567.7 1405.2h17.6v1.6h-17.6zM507.6 1406.5h34.7v1.6h-34.7zM567.7 1406.5h17.6v1.6h-17.6zM404.7 1407.7h9v1.6h-9zM464.8 1407.7h9v1.6h-9zM516.2 1407.7h26.1v1.6h-26.1zM567.7 1407.7h9v1.6h-9zM404.7 1408.9h9v1.6h-9zM464.8 1408.9h9v1.6h-9zM524.8 1408.9h26.1v1.6h-26.1zM567.7 1408.9h9v1.6h-9zM404.7 1410.2h9v1.6h-9zM464.8 1410.2h9v1.6h-9zM533.4 1410.2h17.6v1.6h-17.6zM567.7 1410.2h9v1.6h-9zM464.8 1411.4h9v2.2h-9zM533.4 1411.4h17.6v2.2h-17.6zM567.7 1411.4h9v2.2h-9zM533.4 1413.2h17.6v2.9h-17.6zM567.7 1413.2h9v2.9h-9zM533.4 1415.7h17.6v3.5h-17.6zM567.7 1415.7h9v3.5h-9zM413.3 1418.8h9v4.1h-9zM456.2 1427.4h9v6.5h-9z"/>
<path fill="#bf3338" d="M387.6 1399.1h9v1.6h-9zM644.9 1401.6h9v1.6h-9zM584.8 1402.8h34.7v1.6h-34.7zM730.6 1402.8h26.1v1.6h-26.1zM473.3 1404h26.1v1.6h-26.1zM516.2 1404h69v1.6h-69zM773.5 1404h9v1.6h-9zM404.7 1405.2h9v1.6h-9zM464.8 1405.2h9v1.6h-9zM533.4 1405.2h34.7v1.6h-34.7zM790.7 1405.2h9v1.6h-9zM404.7 1406.5h9v1.6h-9zM464.8 1406.5h9v1.6h-9zM541.9 1406.5h26.1v1.6h-26.1zM541.9 1407.7h26.1v1.6h-26.1zM550.5 1408.9h17.6v1.6h-17.6zM550.5 1410.2h17.6v1.6h-17.6zM550.5 1411.4h17.6v2.2h-17.6zM413.3 1413.2h9v2.9h-9zM550.5 1413.2h17.6v2.9h-17.6zM413.3 1415.7h9v3.5h-9zM550.5 1415.7h17.6v3.5h-17.6zM456.2 1418.8h9v4.1h-9zM421.9 1422.5h9v5.3h-9zM456.2 1422.5h9v5.3h-9zM430.5 1433.5h9v7.8h-9zM447.6 1440.9h9v9h-9z"/>
<path fill="#bd2d35" d="M396.2 1401.6h9v1.6h-9zM593.4 1401.6h51.9v1.6h-51.9zM653.4 1401.6h51.9v1.6h-51.9zM473.3 1402.8h111.9v1.6h-111.9zM756.4 1402.8h9v1.6h-9zM404.7 1404h9v1.6h-9zM464.8 1404h9v1.6h-9zM799.2 1405.2h9v1.6h-9zM413.3 1408.9h9v1.6h-9zM413.3 1410.2h9v1.6h-9zM413.3 1411.4h9v2.2h-9zM456.2 1411.4h9v2.2h-9zM456.2 1413.2h9v2.9h-9zM456.2 1415.7h9v3.5h-9zM421.9 1418.8h9v4.1h-9zM439 1440.9h9v9h-9z"/>
<path fill="#ba2832" d="M396.2 1400.3h9v1.6h-9zM619.1 1400.3h34.7v1.6h-34.7zM499.1 1401.6h94.7v1.6h-94.7zM704.9 1401.6h17.6v1.6h-17.6zM404.7 1402.8h9v1.6h-9zM464.8 1402.8h9v1.6h-9zM456.2 1405.2h9v1.6h-9zM413.3 1406.5h9v1.6h-9zM456.2 1406.5h9v1.6h-9zM413.3 1407.7h9v1.6h-9zM456.2 1407.7h9v1.6h-9zM456.2 1408.9h9v1.6h-9zM456.2 1410.2h9v1.6h-9zM421.9 1413.2h9v2.9h-9zM421.9 1415.7h9v3.5h-9zM430.5 1427.4h9v6.5h-9zM447.6 1433.5h9v7.8h-9z"/>
<path fill="#b82531" d="M396.2 1399.1h9v1.6h-9zM507.6 1400.3h111.9v1.6h-111.9zM653.4 1400.3h34.7v1.6h-34.7zM404.7 1401.6h9v1.6h-9zM464.8 1401.6h34.7v1.6h-34.7zM722 1401.6h17.6v1.6h-17.6zM764.9 1402.8h9v1.6h-9zM413.3 1404h9v1.6h-9zM456.2 1404h9v1.6h-9zM782.1 1404h9v1.6h-9zM413.3 1405.2h9v1.6h-9zM807.8 1405.2h9v1.6h-9zM421.9 1410.2h9v1.6h-9zM421.9 1411.4h9v2.2h-9zM430.5 1422.5h9v5.3h-9zM447.6 1427.4h9v6.5h-9z"/>
<path fill="#b61f2e" d="M507.6 1399.1h146.2v1.6h-146.2zM404.7 1400.3h9v1.6h-9zM473.3 1400.3h34.7v1.6h-34.7zM687.7 1400.3h17.6v1.6h-17.6zM739.2 1401.6h9v1.6h-9zM456.2 1402.8h9v1.6h-9zM421.9 1406.5h9v1.6h-9zM421.9 1407.7h9v1.6h-9zM421.9 1408.9h9v1.6h-9zM447.6 1410.2h9v1.6h-9zM447.6 1411.4h9v2.2h-9zM447.6 1413.2h9v2.9h-9zM430.5 1415.7h9v3.5h-9zM447.6 1415.7h9v3.5h-9zM430.5 1418.8h9v4.1h-9zM447.6 1418.8h9v4.1h-9zM447.6 1422.5h9v5.3h-9zM439 1433.5h9v7.8h-9z"/>
<path fill="#b41c2d" d="M499.1 1399.1h9v1.6h-9zM653.4 1399.1h26.1v1.6h-26.1zM464.8 1400.3h9v1.6h-9zM704.9 1400.3h17.6v1.6h-17.6zM456.2 1401.6h9v1.6h-9zM747.8 1401.6h9v1.6h-9zM413.3 1402.8h9v1.6h-9zM773.5 1402.8h9v1.6h-9zM790.7 1404h9v1.6h-9zM421.9 1405.2h9v1.6h-9zM447.6 1405.2h9v1.6h-9zM447.6 1406.5h9v1.6h-9zM447.6 1407.7h9v1.6h-9zM447.6 1408.9h9v1.6h-9zM430.5 1410.2h9v1.6h-9zM430.5 1411.4h9v2.2h-9zM430.5 1413.2h9v2.9h-9zM439 1422.5h9v5.3h-9zM439 1427.4h9v6.5h-9z"/>
<path fill="#b1182b" d="M404.7 1399.1h9v1.6h-9zM464.8 1399.1h34.7v1.6h-34.7zM679.2 1399.1h17.6v1.6h-17.6zM456.2 1400.3h9v1.6h-9zM722 1400.3h9v1.6h-9zM413.3 1401.6h9v1.6h-9zM756.4 1401.6h9v1.6h-9zM421.9 1404h9v1.6h-9zM447.6 1404h9v1.6h-9zM799.2 1404h9v1.6h-9zM430.5 1406.5h9v1.6h-9zM430.5 1407.7h9v1.6h-9zM430.5 1408.9h17.6v1.6h-17.6zM439 1410.2h9v1.6h-9zM439 1411.4h9v2.2h-9zM439 1413.2h9v2.9h-9zM439 1415.7h9v3.5h-9zM439 1418.8h9v4.1h-9z"/>
<path fill="#ab162a" d="M456.2 1399.1h9v1.6h-9zM696.3 1399.1h9v1.6h-9zM413.3 1400.3h9v1.6h-9zM730.6 1400.3h9v1.6h-9zM764.9 1401.6h9v1.6h-9zM421.9 1402.8h9v1.6h-9zM447.6 1402.8h9v1.6h-9zM782.1 1402.8h9v1.6h-9zM430.5 1405.2h17.6v1.6h-17.6zM439 1406.5h9v1.6h-9zM439 1407.7h9v1.6h-9z"/>
<path fill="#a81529" d="M413.3 1399.1h9v1.6h-9zM704.9 1399.1h17.6v1.6h-17.6zM739.2 1400.3h9v1.6h-9zM447.6 1401.6h9v1.6h-9zM430.5 1404h17.6v1.6h-17.6zM807.8 1404h9v1.6h-9z"/>
<path fill="#a21328" d="M447.6 1400.3h9v1.6h-9zM747.8 1400.3h9v1.6h-9zM421.9 1401.6h9v1.6h-9zM773.5 1401.6h9v1.6h-9zM430.5 1402.8h17.6v1.6h-17.6zM790.7 1402.8h9v1.6h-9z"/>
<path fill="#9f1228" d="M722 1399.1h9v1.6h-9zM421.9 1400.3h9v1.6h-9zM756.4 1400.3h9v1.6h-9zM799.2 1402.8h9v1.6h-9z"/>
<path fill="#991027" d="M447.6 1399.1h9v1.6h-9zM730.6 1399.1h9v1.6h-9zM430.5 1401.6h17.6v1.6h-17.6zM807.8 1402.8h9v1.6h-9z"/>
<path fill="#930e26" d="M421.9 1399.1h9v1.6h-9zM739.2 1399.1h9v1.6h-9zM430.5 1400.3h17.6v1.6h-17.6zM764.9 1400.3h9v1.6h-9zM782.1 1401.6h9v1.6h-9z"/>
<path fill="#900d26" d="M747.8 1399.1h9v1.6h-9zM790.7 1401.6h9v1.6h-9z"/>
<path fill="#8a0b25" d="M430.5 1399.1h17.6v1.6h-17.6zM773.5 1400.3h9v1.6h-9zM799.2 1401.6h9v1.6h-9z"/>
<path fill="#870a24" d="M756.4 1399.1h9v1.6h-9zM807.8 1401.6h9v1.6h-9z"/>
<path fill="#810823" d="M782.1 1400.3h9v1.6h-9z"/>
<path fill="#7c0722" d="M764.9 1399.1h9v1.6h-9z"/>
<path fill="#790622" d="M790.7 1400.3h26.1v1.6h-26.1z"/>
<path fill="#730421" d="M773.5 1399.1h9v1.6h-9z"/>
<path fill="#6a011f" d="M782.1 1399.1h9v1.6h-9z"/>
<path fill="#67001f" d="M790.7 1399.1h26.1v1.6h-26.1z"/>
</g>
<path clip-path="url(#cc2)" fill="url(#hL)" d="M137.6 1399.1h34.3v1.2h-34.3zM137.6 1400.3h34.3v1.2h-34.3zM137.6 1401.6h25.7v1.2h-25.7zM137.6 1402.8h17.2v1.2h-17.2zM137.6 1404h17.2v1.2h-17.2zM137.6 1405.2h17.2v1.2h-17.2zM137.6 1406.5h17.2v1.2h-17.2zM137.6 1407.7h17.2v1.2h-17.2zM137.6 1408.9h17.2v1.2h-17.2zM137.6 1410.2h17.2v1.2h-17.2zM137.6 1411.4h8.6v1.8h-8.6zM137.6 1413.2h8.6v2.5h-8.6zM137.6 1415.7h8.6v3.1h-8.6zM137.6 1418.8h8.6v3.7h-8.6zM137.6 1422.5h8.6v4.9h-8.6zM137.6 1427.4h8.6v6.1h-8.6zM137.6 1433.5h8.6v7.4h-8.6zM137.6 1440.9h8.6v8.6h-8.6zM137.6 1449.5h8.6v9.8h-8.6zM137.6 1459.3h8.6v11.1h-8.6zM163.3 1459.3h8.6v11.1h-8.6zM137.6 1470.4h8.6v12.3h-8.6zM163.3 1470.4h51.5v12.3h-51.5zM137.6 1482.7h8.6v13.5h-8.6zM163.3 1482.7h60v13.5h-60zM163.3 1496.2h77.2v14.8h-77.2zM163.3 1511h77.2v16h-77.2zM274.8 1511h8.6v16h-8.6zM163.3 1526.9h25.7v17.2h-25.7zM197.6 1526.9h51.5v17.2h-51.5zM274.8 1526.9h17.2v17.2h-17.2zM163.3 1544.1h17.2v18.4h-17.2zM206.2 1544.1h42.9v18.4h-42.9zM266.2 1544.1h34.3v18.4h-34.3zM214.8 1562.6h34.3v20.9h-34.3zM266.2 1562.6h34.3v20.9h-34.3zM223.3 1583.5h34.3v24.6h-34.3zM274.8 1583.5h34.3v24.6h-34.3zM231.9 1608.1h25.7v27h-25.7zM274.8 1608.1h51.5v27h-51.5zM240.5 1635.1h8.6v28.3h-8.6zM274.8 1635.1h68.6v28.3h-68.6zM283.4 1663.4h77.2v30.7h-77.2zM386.3 1663.4h60v30.7h-60zM291.9 1694.1h197.3v30.7h-197.3z"/>
<rect x="129" y="1399.1" width="686.1" height="307.3" fill="none" stroke="#000" stroke-width="1.6"/>
<path d="M123.5 1399.1L129 1399.1" stroke="#000" stroke-width="1.6"/>
<text x="119" y="1409.3" font-size="24" text-anchor="end">0</text>
<path d="M123.5 1460.6L129 1460.6" stroke="#000" stroke-width="1.6"/>
<text x="119" y="1470.8" font-size="24" text-anchor="end">−500</text>
<path d="M123.5 1522L129 1522" stroke="#000" stroke-width="1.6"/>
<text x="119" y="1532.2" font-size="24" text-anchor="end">−1000</text>
<path d="M123.5 1583.5L129 1583.5" stroke="#000" stroke-width="1.6"/>
<text x="119" y="1593.7" font-size="24" text-anchor="end">−1500</text>
<path d="M123.5 1644.9L129 1644.9" stroke="#000" stroke-width="1.6"/>
<text x="119" y="1655.1" font-size="24" text-anchor="end">−2000</text>
<path d="M123.5 1706.4L129 1706.4" stroke="#000" stroke-width="1.6"/>
<text x="119" y="1716.6" font-size="24" text-anchor="end">−2500</text>
<path d="M171.9 1706.4L171.9 1713.4" stroke="#000" stroke-width="1.6"/>
<text x="171.9" y="1735.2" font-size="24" text-anchor="middle">−75</text>
<path d="M300.5 1706.4L300.5 1713.4" stroke="#000" stroke-width="1.6"/>
<text x="300.5" y="1735.2" font-size="24" text-anchor="middle">−60</text>
<path d="M429.2 1706.4L429.2 1713.4" stroke="#000" stroke-width="1.6"/>
<text x="429.2" y="1735.2" font-size="24" text-anchor="middle">−45</text>
<path d="M557.8 1706.4L557.8 1713.4" stroke="#000" stroke-width="1.6"/>
<text x="557.8" y="1735.2" font-size="24" text-anchor="middle">−30</text>
<path d="M686.5 1706.4L686.5 1713.4" stroke="#000" stroke-width="1.6"/>
<text x="686.5" y="1735.2" font-size="24" text-anchor="middle">−15</text>
<path d="M815.1 1706.4L815.1 1713.4" stroke="#000" stroke-width="1.6"/>
<text x="815.1" y="1735.2" font-size="24" text-anchor="middle">0</text>
<text transform="translate(25.3,1552.7) rotate(-90)" font-size="32" text-anchor="middle">depth [m]</text>
<rect x="593.6" y="1639.3" width="185.5" height="43.6" fill="#fff"/>
<text x="602" y="1669.8" font-size="31.6">HR change</text>
<text x="472" y="1767.5" font-size="31.4" text-anchor="middle">latitude</text>
<linearGradient id="gc" x1="0" x2="1" y1="0" y2="0"><stop offset="0.0000" stop-color="#053061"/><stop offset="0.0312" stop-color="#0e4179"/><stop offset="0.0625" stop-color="#175290"/><stop offset="0.0938" stop-color="#1f63a8"/><stop offset="0.1250" stop-color="#2a71b2"/><stop offset="0.1562" stop-color="#3480b9"/><stop offset="0.1875" stop-color="#3f8ec0"/><stop offset="0.2188" stop-color="#529dc8"/><stop offset="0.2500" stop-color="#6bacd1"/><stop offset="0.2812" stop-color="#84bcd9"/><stop offset="0.3125" stop-color="#9bc9e0"/><stop offset="0.3438" stop-color="#aed3e6"/><stop offset="0.3750" stop-color="#c2ddec"/><stop offset="0.4062" stop-color="#d4e6f1"/><stop offset="0.4375" stop-color="#e0ecf3"/><stop offset="0.4688" stop-color="#ecf2f5"/><stop offset="0.5000" stop-color="#f7f6f6"/><stop offset="0.5312" stop-color="#f9eee7"/><stop offset="0.5625" stop-color="#fbe5d8"/><stop offset="0.5938" stop-color="#fddcc9"/><stop offset="0.6250" stop-color="#fbccb4"/><stop offset="0.6562" stop-color="#f8bb9e"/><stop offset="0.6875" stop-color="#f5aa89"/><stop offset="0.7188" stop-color="#ee9677"/><stop offset="0.7500" stop-color="#e48066"/><stop offset="0.7812" stop-color="#db6b55"/><stop offset="0.8125" stop-color="#d05548"/><stop offset="0.8438" stop-color="#c53e3d"/><stop offset="0.8750" stop-color="#ba2832"/><stop offset="0.9062" stop-color="#ab162a"/><stop offset="0.9375" stop-color="#930e26"/><stop offset="0.9688" stop-color="#7c0722"/><stop offset="1.0000" stop-color="#67001f"/></linearGradient>
<rect x="127.8" y="1782.7" width="687.3" height="34.9" fill="url(#gc)" stroke="#000" stroke-width="1.6"/>
<path d="M127.8 1817.6L127.8 1824.6" stroke="#000" stroke-width="1.6"/>
<text x="127.8" y="1846.6" font-size="24" text-anchor="middle">−2.0</text>
<path d="M213.7 1817.6L213.7 1824.6" stroke="#000" stroke-width="1.6"/>
<text x="213.7" y="1846.6" font-size="24" text-anchor="middle">−1.5</text>
<path d="M299.6 1817.6L299.6 1824.6" stroke="#000" stroke-width="1.6"/>
<text x="299.6" y="1846.6" font-size="24" text-anchor="middle">−1.0</text>
<path d="M385.5 1817.6L385.5 1824.6" stroke="#000" stroke-width="1.6"/>
<text x="385.5" y="1846.6" font-size="24" text-anchor="middle">−0.5</text>
<path d="M471.5 1817.6L471.5 1824.6" stroke="#000" stroke-width="1.6"/>
<text x="471.5" y="1846.6" font-size="24" text-anchor="middle">0.0</text>
<path d="M557.4 1817.6L557.4 1824.6" stroke="#000" stroke-width="1.6"/>
<text x="557.4" y="1846.6" font-size="24" text-anchor="middle">0.5</text>
<path d="M643.3 1817.6L643.3 1824.6" stroke="#000" stroke-width="1.6"/>
<text x="643.3" y="1846.6" font-size="24" text-anchor="middle">1.0</text>
<path d="M729.2 1817.6L729.2 1824.6" stroke="#000" stroke-width="1.6"/>
<text x="729.2" y="1846.6" font-size="24" text-anchor="middle">1.5</text>
<path d="M815.1 1817.6L815.1 1824.6" stroke="#000" stroke-width="1.6"/>
<text x="815.1" y="1846.6" font-size="24" text-anchor="middle">2.0</text>
<text x="469.4" y="1881" font-size="32" text-anchor="middle">pot. temperature change [<tspan font-size="21.1" dy="-7.2" dx="6.1">°</tspan><tspan dy="7.2" dx="6.9">C]</tspan></text>
<clipPath id="cd"><rect x="1021.4" y="15.9" width="920.5" height="707"/></clipPath>
<g clip-path="url(#cd)">
<path d="M1021.4 551.5L1021.4 551.5L1026.0 551.6L1030.7 551.6L1035.3 551.7L1039.9 551.8L1044.5 551.8L1049.2 551.8L1053.8 551.8L1058.4 551.7L1063.0 551.6L1067.7 551.5L1072.3 551.3L1076.9 551.1L1081.5 550.7L1086.2 550.2L1090.8 549.6L1095.4 548.8L1100.0 547.7L1104.7 546.4L1109.3 544.9L1113.9 543.2L1118.5 541.4L1123.2 539.4L1127.8 537.4L1132.4 535.3L1137.0 533.3L1141.7 531.2L1146.3 529.3L1150.9 527.4L1155.5 525.6L1160.2 524.0L1164.8 522.4L1169.4 520.9L1174.0 519.5L1178.7 518.1L1183.3 516.8L1187.9 515.6L1192.5 514.3L1197.2 513.1L1201.8 511.9L1206.4 510.7L1211.1 509.6L1215.7 508.6L1220.3 507.6L1224.9 506.7L1229.6 505.9L1234.2 505.3L1238.8 504.7L1243.4 504.3L1248.1 504.0L1252.7 503.9L1257.3 503.9L1261.9 504.0L1266.6 504.0L1271.2 504.1L1275.8 504.1L1280.4 503.9L1285.1 503.5L1289.7 502.9L1294.3 502.0L1298.9 500.8L1303.6 499.2L1308.2 497.4L1312.8 495.5L1317.4 493.5L1322.1 491.5L1326.7 489.6L1331.3 487.9L1335.9 486.3L1340.6 484.9L1345.2 483.7L1349.8 482.7L1354.4 482.1L1359.1 481.7L1363.7 481.6L1368.3 481.9L1372.9 482.4L1377.6 483.1L1382.2 483.7L1386.8 484.2L1391.5 484.4L1396.1 484.3L1400.7 483.9L1405.3 483.1L1410.0 482.3L1414.6 481.3L1419.2 480.4L1423.8 479.6L1428.5 479.0L1433.1 478.5L1437.7 478.2L1442.3 478.1L1447.0 478.1L1451.6 478.3L1456.2 478.7L1460.8 479.1L1465.5 479.7L1470.1 480.4L1474.7 481.0L1479.3 481.7L1484.0 482.3L1488.6 482.8L1493.2 483.3L1497.8 483.8L1502.5 484.3L1507.1 484.9L1511.7 485.4L1516.3 486.1L1521.0 486.8L1525.6 487.5L1530.2 488.1L1534.8 488.6L1539.5 489.1L1544.1 489.3L1548.7 489.4L1553.3 489.1L1558.0 488.6L1562.6 487.9L1567.2 487.0L1571.8 485.9L1576.5 484.9L1581.1 483.8L1585.7 482.9L1590.4 482.0L1595.0 481.4L1599.6 481.0L1604.2 480.8L1608.9 480.7L1613.5 480.6L1618.1 480.4L1622.7 480.2L1627.4 479.9L1632.0 479.4L1636.6 478.7L1641.2 478.1L1645.9 477.4L1650.5 476.9L1655.1 476.6L1659.7 476.5L1664.4 476.7L1669.0 477.3L1673.6 478.1L1678.2 479.2L1682.9 480.4L1687.5 481.8L1692.1 483.3L1696.7 484.8L1701.4 486.5L1706.0 488.1L1710.6 489.9L1715.2 491.7L1719.9 493.6L1724.5 495.5L1729.1 497.6L1733.7 499.7L1738.4 501.8L1743.0 504.0L1747.6 506.1L1752.2 508.2L1756.9 510.3L1761.5 512.3L1766.1 514.3L1770.8 516.2L1775.4 518.1L1780.0 519.9L1784.6 521.7L1789.3 523.3L1793.9 524.9L1798.5 526.3L1803.1 527.5L1807.8 528.3L1812.4 528.6L1817.0 528.5L1821.6 527.8L1826.3 526.6L1830.9 525.2L1835.5 523.6L1840.1 521.9L1844.8 520.2L1849.4 518.6L1854.0 517.2L1858.6 516.0L1863.3 514.9L1867.9 514.1L1872.5 513.3L1877.1 512.8L1881.8 512.5L1886.4 512.2L1891.0 512.0L1895.6 511.9L1900.3 511.8L1904.9 511.6L1909.5 511.3L1914.1 510.9L1918.8 510.5L1923.4 509.9L1928.0 509.3L1932.6 508.7L1937.3 508.1L1941.9 507.4L1941.9 551.5Z" fill="#e9ebea"/>
<path d="M1021.4 551.5L1941.9 551.5" stroke="#999" stroke-width="2"/>
<path d="M1021.4 551.5L1067.4 551.5L1090.4 552.6L1113.5 554.7L1136.5 557.3L1159.5 561.1L1182.5 566.1L1205.5 569.7L1228.5 570.4L1251.5 570.8L1274.5 571.4L1297.5 570.4L1320.6 569.7L1343.6 560.1L1366.6 548.7L1389.6 532.2L1412.6 508.7L1435.6 478.7L1458.6 447.6L1481.7 399.8L1504.7 354.4L1527.7 307.3L1550.7 262.3L1573.7 225.9L1596.7 191.6L1619.7 150.9L1642.7 112.3L1664.1 68.8L1687.2 79.1L1711.8 49.3L1734.8 43.8L1757.8 71.6L1780.8 87.2L1803.8 89.2L1826.8 103.7L1849.9 134.8L1872.9 177.7L1895.9 215.1L1918.9 255.9L1941.9 283.7" fill="none" stroke="#000" stroke-width="2.5" stroke-linejoin="round" stroke-dasharray="9.25 4"/>
<path d="M1021.4 551.5L1067.4 551.5L1090.4 553.6L1113.5 557.9L1136.5 564.4L1159.5 571.9L1182.5 590.1L1205.5 608.7L1228.5 622.2L1251.5 632.9L1274.5 641.9L1297.5 631.6L1320.6 632.9L1343.6 653.5L1366.6 637.2L1389.6 615.8L1412.6 592.2L1435.6 560.1L1458.6 517.2L1481.7 502.9L1504.7 487.2L1527.7 473.1L1550.7 423.0L1573.7 262.3L1596.7 246.4L1619.7 96.2L1642.7 -1.2L1665.8 -91.2" fill="none" stroke="#008b8b" stroke-width="2.5" stroke-linejoin="round" stroke-dasharray="9.25 4"/>
<path d="M1895.9 -134.1L1918.9 369.4L1941.9 722.9" fill="none" stroke="#008b8b" stroke-width="2.5" stroke-linejoin="round" stroke-dasharray="9.25 4"/>
<path d="M1021.4 551.5L1024.5 551.5L1027.6 551.5L1030.6 551.5L1033.7 551.5L1036.8 551.5L1039.9 551.5L1043.0 551.5L1046.0 551.5L1049.1 551.6L1052.2 551.7L1055.3 551.7L1058.3 551.8L1061.4 551.9L1064.5 552.1L1067.6 552.2L1070.7 552.4L1073.7 552.6L1076.8 552.9L1079.9 553.1L1083.0 553.4L1086.1 553.8L1089.1 554.1L1092.2 554.5L1095.3 555.0L1098.4 555.4L1101.4 555.9L1104.5 556.5L1107.6 557.0L1110.7 557.6L1113.8 558.2L1116.8 558.9L1119.9 559.5L1123.0 560.2L1126.1 560.9L1129.2 561.6L1132.2 562.3L1135.3 563.0L1138.4 563.8L1141.5 564.5L1144.5 565.3L1147.6 566.0L1150.7 566.8L1153.8 567.6L1156.9 568.3L1159.9 569.1L1163.0 569.9L1166.1 570.7L1169.2 571.4L1172.3 572.2L1175.3 573.0L1178.4 573.7L1181.5 574.5L1184.6 575.2L1187.6 576.0L1190.7 576.7L1193.8 577.4L1196.9 578.2L1200.0 578.9L1203.0 579.5L1206.1 580.2L1209.2 580.9L1212.3 581.6L1215.4 582.2L1218.4 582.8L1221.5 583.5L1224.6 584.1L1227.7 584.7L1230.7 585.3L1233.8 585.9L1236.9 586.5L1240.0 587.0L1243.1 587.6L1246.1 588.1L1249.2 588.7L1252.3 589.2L1255.4 589.7L1258.5 590.2L1261.5 590.7L1264.6 591.2L1267.7 591.7L1270.8 592.2L1273.8 592.8L1276.9 593.3L1280.0 593.8L1283.1 594.3L1286.2 594.9L1289.2 595.5L1292.3 596.0L1295.4 596.6L1298.5 597.3L1301.6 597.9L1304.6 598.6L1307.7 599.3L1310.8 600.0L1313.9 600.8L1316.9 601.5L1320.0 602.3L1323.1 603.1L1326.2 603.8L1329.3 604.6L1332.3 605.3L1335.4 606.0L1338.5 606.7L1341.6 607.3L1344.7 607.8L1347.7 608.3L1350.8 608.8L1353.9 609.2L1357.0 609.5L1360.0 609.8L1363.1 609.9L1366.2 610.0L1369.3 610.0L1372.4 609.9L1375.4 609.7L1378.5 609.4L1381.6 608.9L1384.7 608.3L1387.8 607.6L1390.8 606.6L1393.9 605.5L1397.0 604.2L1400.1 602.6L1403.1 600.9L1406.2 598.9L1409.3 596.7L1412.4 594.3L1415.5 591.7L1418.5 588.8L1421.6 585.8L1424.7 582.5L1427.8 579.0L1430.9 575.4L1433.9 571.7L1437.0 567.9L1440.1 564.0L1443.2 560.0L1446.2 555.9L1449.3 551.7L1452.4 547.5L1455.5 543.1L1458.6 538.6L1461.6 534.0L1464.7 529.3L1467.8 524.5L1470.9 519.6L1474.0 514.6L1477.0 509.5L1480.1 504.4L1483.2 499.2L1486.3 493.9L1489.3 488.7L1492.4 483.3L1495.5 477.9L1498.6 472.4L1501.7 466.9L1504.7 461.2L1507.8 455.4L1510.9 449.5L1514.0 443.5L1517.1 437.4L1520.1 431.3L1523.2 425.1L1526.3 418.9L1529.4 412.6L1532.4 406.4L1535.5 400.2L1538.6 394.1L1541.7 388.0L1544.8 381.9L1547.8 375.8L1550.9 369.7L1554.0 363.6L1557.1 357.5L1560.2 351.3L1563.2 345.2L1566.3 338.9L1569.4 332.7L1572.5 326.4L1575.5 320.1L1578.6 313.8L1581.7 307.6L1584.8 301.4L1587.9 295.3L1590.9 289.2L1594.0 283.3L1597.1 277.5L1600.2 271.8L1603.3 266.2L1606.3 260.7L1609.4 255.3L1612.5 250.0L1615.6 244.7L1618.6 239.5L1621.7 234.3L1624.8 229.1L1627.9 224.0L1631.0 219.0L1634.0 214.1L1637.1 209.3L1640.2 204.6L1643.3 200.1L1646.4 195.7L1649.4 191.6L1652.5 187.7L1655.6 183.9L1658.7 180.4L1661.7 177.1L1664.8 174.0L1667.9 171.1L1671.0 168.4L1674.1 165.9L1677.1 163.5L1680.2 161.3L1683.3 159.2L1686.4 157.3L1689.5 155.6L1692.5 153.9L1695.6 152.4L1698.7 151.1L1701.8 149.8L1704.8 148.7L1707.9 147.6L1711.0 146.7L1714.1 145.8L1717.2 145.0L1720.2 144.3L1723.3 143.7L1726.4 143.1L1729.5 142.6L1732.6 142.1L1735.6 141.7L1738.7 141.3L1741.8 141.0L1744.9 140.7L1747.9 140.5L1751.0 140.3L1754.1 140.1L1757.2 140.1L1760.3 140.1L1763.3 140.3L1766.4 140.5L1769.5 140.9L1772.6 141.5L1775.7 142.1L1778.7 142.9L1781.8 143.7L1784.9 144.7L1788.0 145.8L1791.0 147.0L1794.1 148.4L1797.2 149.8L1800.3 151.4L1803.4 153.1L1806.4 155.0L1809.5 157.1L1812.6 159.4L1815.7 161.9L1818.8 164.6L1821.8 167.6L1824.9 170.9L1828.0 174.4L1831.1 178.2L1834.1 182.2L1837.2 186.3L1840.3 190.7L1843.4 195.2L1846.5 199.8L1849.5 204.6L1852.6 209.4L1855.7 214.4L1858.8 219.4L1861.9 224.6L1864.9 229.8L1868.0 235.2L1871.1 240.7L1874.2 246.2L1877.2 251.9L1880.3 257.8L1883.4 263.7L1886.5 269.8L1889.6 275.9L1892.6 282.1L1895.7 288.2L1898.8 294.4L1901.9 300.4L1905.0 306.5L1908.0 312.4L1911.1 318.1L1914.2 323.7L1917.3 328.9L1920.3 333.7L1923.4 338.1L1926.5 341.9L1929.6 345.1L1932.7 348.0L1935.7 350.5L1938.8 352.8L1941.9 355.0" fill="none" stroke="#fff" stroke-width="12.5" stroke-linejoin="round"/>
<path d="M1021.4 551.5L1024.5 551.5L1027.6 551.5L1030.6 551.5L1033.7 551.5L1036.8 551.5L1039.9 551.5L1043.0 551.5L1046.0 551.5L1049.1 551.6L1052.2 551.7L1055.3 551.7L1058.3 551.8L1061.4 551.9L1064.5 552.1L1067.6 552.2L1070.7 552.4L1073.7 552.6L1076.8 552.9L1079.9 553.1L1083.0 553.4L1086.1 553.8L1089.1 554.1L1092.2 554.5L1095.3 555.0L1098.4 555.4L1101.4 555.9L1104.5 556.5L1107.6 557.0L1110.7 557.6L1113.8 558.2L1116.8 558.9L1119.9 559.5L1123.0 560.2L1126.1 560.9L1129.2 561.6L1132.2 562.3L1135.3 563.0L1138.4 563.8L1141.5 564.5L1144.5 565.3L1147.6 566.0L1150.7 566.8L1153.8 567.6L1156.9 568.3L1159.9 569.1L1163.0 569.9L1166.1 570.7L1169.2 571.4L1172.3 572.2L1175.3 573.0L1178.4 573.7L1181.5 574.5L1184.6 575.2L1187.6 576.0L1190.7 576.7L1193.8 577.4L1196.9 578.2L1200.0 578.9L1203.0 579.5L1206.1 580.2L1209.2 580.9L1212.3 581.6L1215.4 582.2L1218.4 582.8L1221.5 583.5L1224.6 584.1L1227.7 584.7L1230.7 585.3L1233.8 585.9L1236.9 586.5L1240.0 587.0L1243.1 587.6L1246.1 588.1L1249.2 588.7L1252.3 589.2L1255.4 589.7L1258.5 590.2L1261.5 590.7L1264.6 591.2L1267.7 591.7L1270.8 592.2L1273.8 592.8L1276.9 593.3L1280.0 593.8L1283.1 594.3L1286.2 594.9L1289.2 595.5L1292.3 596.0L1295.4 596.6L1298.5 597.3L1301.6 597.9L1304.6 598.6L1307.7 599.3L1310.8 600.0L1313.9 600.8L1316.9 601.5L1320.0 602.3L1323.1 603.1L1326.2 603.8L1329.3 604.6L1332.3 605.3L1335.4 606.0L1338.5 606.7L1341.6 607.3L1344.7 607.8L1347.7 608.3L1350.8 608.8L1353.9 609.2L1357.0 609.5L1360.0 609.8L1363.1 609.9L1366.2 610.0L1369.3 610.0L1372.4 609.9L1375.4 609.7L1378.5 609.4L1381.6 608.9L1384.7 608.3L1387.8 607.6L1390.8 606.6L1393.9 605.5L1397.0 604.2L1400.1 602.6L1403.1 600.9L1406.2 598.9L1409.3 596.7L1412.4 594.3L1415.5 591.7L1418.5 588.8L1421.6 585.8L1424.7 582.5L1427.8 579.0L1430.9 575.4L1433.9 571.7L1437.0 567.9L1440.1 564.0L1443.2 560.0L1446.2 555.9L1449.3 551.7L1452.4 547.5L1455.5 543.1L1458.6 538.6L1461.6 534.0L1464.7 529.3L1467.8 524.5L1470.9 519.6L1474.0 514.6L1477.0 509.5L1480.1 504.4L1483.2 499.2L1486.3 493.9L1489.3 488.7L1492.4 483.3L1495.5 477.9L1498.6 472.4L1501.7 466.9L1504.7 461.2L1507.8 455.4L1510.9 449.5L1514.0 443.5L1517.1 437.4L1520.1 431.3L1523.2 425.1L1526.3 418.9L1529.4 412.6L1532.4 406.4L1535.5 400.2L1538.6 394.1L1541.7 388.0L1544.8 381.9L1547.8 375.8L1550.9 369.7L1554.0 363.6L1557.1 357.5L1560.2 351.3L1563.2 345.2L1566.3 338.9L1569.4 332.7L1572.5 326.4L1575.5 320.1L1578.6 313.8L1581.7 307.6L1584.8 301.4L1587.9 295.3L1590.9 289.2L1594.0 283.3L1597.1 277.5L1600.2 271.8L1603.3 266.2L1606.3 260.7L1609.4 255.3L1612.5 250.0L1615.6 244.7L1618.6 239.5L1621.7 234.3L1624.8 229.1L1627.9 224.0L1631.0 219.0L1634.0 214.1L1637.1 209.3L1640.2 204.6L1643.3 200.1L1646.4 195.7L1649.4 191.6L1652.5 187.7L1655.6 183.9L1658.7 180.4L1661.7 177.1L1664.8 174.0L1667.9 171.1L1671.0 168.4L1674.1 165.9L1677.1 163.5L1680.2 161.3L1683.3 159.2L1686.4 157.3L1689.5 155.6L1692.5 153.9L1695.6 152.4L1698.7 151.1L1701.8 149.8L1704.8 148.7L1707.9 147.6L1711.0 146.7L1714.1 145.8L1717.2 145.0L1720.2 144.3L1723.3 143.7L1726.4 143.1L1729.5 142.6L1732.6 142.1L1735.6 141.7L1738.7 141.3L1741.8 141.0L1744.9 140.7L1747.9 140.5L1751.0 140.3L1754.1 140.1L1757.2 140.1L1760.3 140.1L1763.3 140.3L1766.4 140.5L1769.5 140.9L1772.6 141.5L1775.7 142.1L1778.7 142.9L1781.8 143.7L1784.9 144.7L1788.0 145.8L1791.0 147.0L1794.1 148.4L1797.2 149.8L1800.3 151.4L1803.4 153.1L1806.4 155.0L1809.5 157.1L1812.6 159.4L1815.7 161.9L1818.8 164.6L1821.8 167.6L1824.9 170.9L1828.0 174.4L1831.1 178.2L1834.1 182.2L1837.2 186.3L1840.3 190.7L1843.4 195.2L1846.5 199.8L1849.5 204.6L1852.6 209.4L1855.7 214.4L1858.8 219.4L1861.9 224.6L1864.9 229.8L1868.0 235.2L1871.1 240.7L1874.2 246.2L1877.2 251.9L1880.3 257.8L1883.4 263.7L1886.5 269.8L1889.6 275.9L1892.6 282.1L1895.7 288.2L1898.8 294.4L1901.9 300.4L1905.0 306.5L1908.0 312.4L1911.1 318.1L1914.2 323.7L1917.3 328.9L1920.3 333.7L1923.4 338.1L1926.5 341.9L1929.6 345.1L1932.7 348.0L1935.7 350.5L1938.8 352.8L1941.9 355.0" fill="none" stroke="#008b8b" stroke-width="10" stroke-linejoin="round"/>
<path d="M1021.4 551.5L1024.5 551.6L1027.6 551.7L1030.6 551.8L1033.7 551.9L1036.8 552.0L1039.9 552.1L1043.0 552.2L1046.0 552.2L1049.1 552.2L1052.2 552.2L1055.3 552.2L1058.3 552.2L1061.4 552.1L1064.5 552.0L1067.6 551.9L1070.7 551.7L1073.7 551.5L1076.8 551.3L1079.9 551.0L1083.0 550.7L1086.1 550.3L1089.1 549.9L1092.2 549.5L1095.3 549.0L1098.4 548.6L1101.4 548.1L1104.5 547.6L1107.6 547.1L1110.7 546.6L1113.8 546.1L1116.8 545.6L1119.9 545.1L1123.0 544.6L1126.1 544.2L1129.2 543.7L1132.2 543.3L1135.3 543.0L1138.4 542.6L1141.5 542.3L1144.5 542.0L1147.6 541.8L1150.7 541.6L1153.8 541.4L1156.9 541.2L1159.9 541.0L1163.0 540.9L1166.1 540.7L1169.2 540.6L1172.3 540.5L1175.3 540.4L1178.4 540.2L1181.5 540.1L1184.6 539.9L1187.6 539.8L1190.7 539.6L1193.8 539.5L1196.9 539.3L1200.0 539.0L1203.0 538.8L1206.1 538.6L1209.2 538.4L1212.3 538.2L1215.4 538.0L1218.4 537.8L1221.5 537.7L1224.6 537.6L1227.7 537.5L1230.7 537.5L1233.8 537.5L1236.9 537.5L1240.0 537.6L1243.1 537.8L1246.1 538.0L1249.2 538.4L1252.3 538.7L1255.4 539.2L1258.5 539.7L1261.5 540.3L1264.6 540.8L1267.7 541.5L1270.8 542.1L1273.8 542.7L1276.9 543.4L1280.0 544.0L1283.1 544.5L1286.2 545.1L1289.2 545.6L1292.3 546.0L1295.4 546.3L1298.5 546.6L1301.6 546.8L1304.6 546.9L1307.7 546.9L1310.8 546.9L1313.9 546.7L1316.9 546.6L1320.0 546.3L1323.1 546.0L1326.2 545.6L1329.3 545.1L1332.3 544.6L1335.4 544.1L1338.5 543.5L1341.6 542.8L1344.7 542.2L1347.7 541.6L1350.8 541.0L1353.9 540.5L1357.0 540.0L1360.0 539.7L1363.1 539.5L1366.2 539.5L1369.3 539.6L1372.4 539.8L1375.4 539.9L1378.5 540.0L1381.6 539.8L1384.7 539.4L1387.8 538.7L1390.8 537.7L1393.9 536.2L1397.0 534.4L1400.1 532.2L1403.1 529.7L1406.2 526.8L1409.3 523.5L1412.4 520.1L1415.5 516.5L1418.5 512.7L1421.6 508.9L1424.7 505.1L1427.8 501.3L1430.9 497.6L1433.9 493.9L1437.0 490.1L1440.1 486.4L1443.2 482.7L1446.2 479.0L1449.3 475.3L1452.4 471.7L1455.5 468.0L1458.6 464.2L1461.6 460.4L1464.7 456.5L1467.8 452.5L1470.9 448.4L1474.0 444.1L1477.0 439.6L1480.1 434.8L1483.2 429.9L1486.3 424.8L1489.3 419.6L1492.4 414.2L1495.5 408.7L1498.6 403.2L1501.7 397.7L1504.7 392.2L1507.8 386.7L1510.9 381.3L1514.0 376.0L1517.1 370.6L1520.1 365.3L1523.2 359.8L1526.3 354.4L1529.4 348.8L1532.4 343.1L1535.5 337.2L1538.6 331.2L1541.7 325.0L1544.8 318.6L1547.8 312.1L1550.9 305.4L1554.0 298.5L1557.1 291.5L1560.2 284.3L1563.2 276.9L1566.3 269.4L1569.4 261.7L1572.5 254.0L1575.5 246.3L1578.6 238.6L1581.7 231.1L1584.8 223.7L1587.9 216.5L1590.9 209.6L1594.0 203.0L1597.1 196.8L1600.2 190.9L1603.3 185.3L1606.3 179.8L1609.4 174.6L1612.5 169.4L1615.6 164.3L1618.6 159.3L1621.7 154.2L1624.8 149.0L1627.9 143.7L1631.0 138.5L1634.0 133.4L1637.1 128.5L1640.2 123.7L1643.3 119.2L1646.4 115.1L1649.4 111.3L1652.5 108.1L1655.6 105.2L1658.7 102.7L1661.7 100.6L1664.8 98.8L1667.9 97.2L1671.0 95.8L1674.1 94.6L1677.1 93.6L1680.2 92.6L1683.3 91.8L1686.4 91.1L1689.5 90.5L1692.5 90.0L1695.6 89.6L1698.7 89.3L1701.8 89.1L1704.8 89.0L1707.9 89.0L1711.0 89.0L1714.1 89.1L1717.2 89.3L1720.2 89.5L1723.3 89.8L1726.4 90.2L1729.5 90.6L1732.6 91.1L1735.6 91.8L1738.7 92.6L1741.8 93.5L1744.9 94.5L1747.9 95.7L1751.0 97.0L1754.1 98.5L1757.2 100.0L1760.3 101.6L1763.3 103.2L1766.4 104.9L1769.5 106.7L1772.6 108.5L1775.7 110.3L1778.7 112.1L1781.8 113.9L1784.9 115.7L1788.0 117.6L1791.0 119.5L1794.1 121.5L1797.2 123.5L1800.3 125.6L1803.4 127.8L1806.4 130.1L1809.5 132.5L1812.6 135.1L1815.7 137.7L1818.8 140.5L1821.8 143.5L1824.9 146.5L1828.0 149.7L1831.1 153.1L1834.1 156.7L1837.2 160.4L1840.3 164.2L1843.4 168.3L1846.5 172.5L1849.5 176.9L1852.6 181.4L1855.7 186.2L1858.8 191.1L1861.9 196.1L1864.9 201.3L1868.0 206.6L1871.1 212.0L1874.2 217.6L1877.2 223.3L1880.3 229.1L1883.4 234.9L1886.5 240.9L1889.6 246.8L1892.6 252.7L1895.7 258.6L1898.8 264.3L1901.9 269.9L1905.0 275.3L1908.0 280.5L1911.1 285.4L1914.2 290.0L1917.3 294.3L1920.3 298.1L1923.4 301.4L1926.5 304.2L1929.6 306.5L1932.7 308.4L1935.7 309.9L1938.8 311.3L1941.9 312.6" fill="none" stroke="#fff" stroke-width="12.5" stroke-linejoin="round"/>
<path d="M1021.4 551.5L1024.5 551.6L1027.6 551.7L1030.6 551.8L1033.7 551.9L1036.8 552.0L1039.9 552.1L1043.0 552.2L1046.0 552.2L1049.1 552.2L1052.2 552.2L1055.3 552.2L1058.3 552.2L1061.4 552.1L1064.5 552.0L1067.6 551.9L1070.7 551.7L1073.7 551.5L1076.8 551.3L1079.9 551.0L1083.0 550.7L1086.1 550.3L1089.1 549.9L1092.2 549.5L1095.3 549.0L1098.4 548.6L1101.4 548.1L1104.5 547.6L1107.6 547.1L1110.7 546.6L1113.8 546.1L1116.8 545.6L1119.9 545.1L1123.0 544.6L1126.1 544.2L1129.2 543.7L1132.2 543.3L1135.3 543.0L1138.4 542.6L1141.5 542.3L1144.5 542.0L1147.6 541.8L1150.7 541.6L1153.8 541.4L1156.9 541.2L1159.9 541.0L1163.0 540.9L1166.1 540.7L1169.2 540.6L1172.3 540.5L1175.3 540.4L1178.4 540.2L1181.5 540.1L1184.6 539.9L1187.6 539.8L1190.7 539.6L1193.8 539.5L1196.9 539.3L1200.0 539.0L1203.0 538.8L1206.1 538.6L1209.2 538.4L1212.3 538.2L1215.4 538.0L1218.4 537.8L1221.5 537.7L1224.6 537.6L1227.7 537.5L1230.7 537.5L1233.8 537.5L1236.9 537.5L1240.0 537.6L1243.1 537.8L1246.1 538.0L1249.2 538.4L1252.3 538.7L1255.4 539.2L1258.5 539.7L1261.5 540.3L1264.6 540.8L1267.7 541.5L1270.8 542.1L1273.8 542.7L1276.9 543.4L1280.0 544.0L1283.1 544.5L1286.2 545.1L1289.2 545.6L1292.3 546.0L1295.4 546.3L1298.5 546.6L1301.6 546.8L1304.6 546.9L1307.7 546.9L1310.8 546.9L1313.9 546.7L1316.9 546.6L1320.0 546.3L1323.1 546.0L1326.2 545.6L1329.3 545.1L1332.3 544.6L1335.4 544.1L1338.5 543.5L1341.6 542.8L1344.7 542.2L1347.7 541.6L1350.8 541.0L1353.9 540.5L1357.0 540.0L1360.0 539.7L1363.1 539.5L1366.2 539.5L1369.3 539.6L1372.4 539.8L1375.4 539.9L1378.5 540.0L1381.6 539.8L1384.7 539.4L1387.8 538.7L1390.8 537.7L1393.9 536.2L1397.0 534.4L1400.1 532.2L1403.1 529.7L1406.2 526.8L1409.3 523.5L1412.4 520.1L1415.5 516.5L1418.5 512.7L1421.6 508.9L1424.7 505.1L1427.8 501.3L1430.9 497.6L1433.9 493.9L1437.0 490.1L1440.1 486.4L1443.2 482.7L1446.2 479.0L1449.3 475.3L1452.4 471.7L1455.5 468.0L1458.6 464.2L1461.6 460.4L1464.7 456.5L1467.8 452.5L1470.9 448.4L1474.0 444.1L1477.0 439.6L1480.1 434.8L1483.2 429.9L1486.3 424.8L1489.3 419.6L1492.4 414.2L1495.5 408.7L1498.6 403.2L1501.7 397.7L1504.7 392.2L1507.8 386.7L1510.9 381.3L1514.0 376.0L1517.1 370.6L1520.1 365.3L1523.2 359.8L1526.3 354.4L1529.4 348.8L1532.4 343.1L1535.5 337.2L1538.6 331.2L1541.7 325.0L1544.8 318.6L1547.8 312.1L1550.9 305.4L1554.0 298.5L1557.1 291.5L1560.2 284.3L1563.2 276.9L1566.3 269.4L1569.4 261.7L1572.5 254.0L1575.5 246.3L1578.6 238.6L1581.7 231.1L1584.8 223.7L1587.9 216.5L1590.9 209.6L1594.0 203.0L1597.1 196.8L1600.2 190.9L1603.3 185.3L1606.3 179.8L1609.4 174.6L1612.5 169.4L1615.6 164.3L1618.6 159.3L1621.7 154.2L1624.8 149.0L1627.9 143.7L1631.0 138.5L1634.0 133.4L1637.1 128.5L1640.2 123.7L1643.3 119.2L1646.4 115.1L1649.4 111.3L1652.5 108.1L1655.6 105.2L1658.7 102.7L1661.7 100.6L1664.8 98.8L1667.9 97.2L1671.0 95.8L1674.1 94.6L1677.1 93.6L1680.2 92.6L1683.3 91.8L1686.4 91.1L1689.5 90.5L1692.5 90.0L1695.6 89.6L1698.7 89.3L1701.8 89.1L1704.8 89.0L1707.9 89.0L1711.0 89.0L1714.1 89.1L1717.2 89.3L1720.2 89.5L1723.3 89.8L1726.4 90.2L1729.5 90.6L1732.6 91.1L1735.6 91.8L1738.7 92.6L1741.8 93.5L1744.9 94.5L1747.9 95.7L1751.0 97.0L1754.1 98.5L1757.2 100.0L1760.3 101.6L1763.3 103.2L1766.4 104.9L1769.5 106.7L1772.6 108.5L1775.7 110.3L1778.7 112.1L1781.8 113.9L1784.9 115.7L1788.0 117.6L1791.0 119.5L1794.1 121.5L1797.2 123.5L1800.3 125.6L1803.4 127.8L1806.4 130.1L1809.5 132.5L1812.6 135.1L1815.7 137.7L1818.8 140.5L1821.8 143.5L1824.9 146.5L1828.0 149.7L1831.1 153.1L1834.1 156.7L1837.2 160.4L1840.3 164.2L1843.4 168.3L1846.5 172.5L1849.5 176.9L1852.6 181.4L1855.7 186.2L1858.8 191.1L1861.9 196.1L1864.9 201.3L1868.0 206.6L1871.1 212.0L1874.2 217.6L1877.2 223.3L1880.3 229.1L1883.4 234.9L1886.5 240.9L1889.6 246.8L1892.6 252.7L1895.7 258.6L1898.8 264.3L1901.9 269.9L1905.0 275.3L1908.0 280.5L1911.1 285.4L1914.2 290.0L1917.3 294.3L1920.3 298.1L1923.4 301.4L1926.5 304.2L1929.6 306.5L1932.7 308.4L1935.7 309.9L1938.8 311.3L1941.9 312.6" fill="none" stroke="#000" stroke-width="10" stroke-linejoin="round"/>
</g>
<rect x="1021.4" y="15.9" width="920.5" height="707" fill="none" stroke="#000" stroke-width="2"/>
<path d="M1021.4 722.9L1021.4 731.8" stroke="#000" stroke-width="2"/>
<text x="1021.4" y="761.6" font-size="28" text-anchor="middle">−80</text>
<path d="M1136.5 722.9L1136.5 731.8" stroke="#000" stroke-width="2"/>
<text x="1136.5" y="761.6" font-size="28" text-anchor="middle">−75</text>
<path d="M1251.5 722.9L1251.5 731.8" stroke="#000" stroke-width="2"/>
<text x="1251.5" y="761.6" font-size="28" text-anchor="middle">−70</text>
<path d="M1366.6 722.9L1366.6 731.8" stroke="#000" stroke-width="2"/>
<text x="1366.6" y="761.6" font-size="28" text-anchor="middle">−65</text>
<path d="M1481.7 722.9L1481.7 731.8" stroke="#000" stroke-width="2"/>
<text x="1481.7" y="761.6" font-size="28" text-anchor="middle">−60</text>
<path d="M1596.7 722.9L1596.7 731.8" stroke="#000" stroke-width="2"/>
<text x="1596.7" y="761.6" font-size="28" text-anchor="middle">−55</text>
<path d="M1711.8 722.9L1711.8 731.8" stroke="#000" stroke-width="2"/>
<text x="1711.8" y="761.6" font-size="28" text-anchor="middle">−50</text>
<path d="M1826.8 722.9L1826.8 731.8" stroke="#000" stroke-width="2"/>
<text x="1826.8" y="761.6" font-size="28" text-anchor="middle">−45</text>
<path d="M1941.9 722.9L1941.9 731.8" stroke="#000" stroke-width="2"/>
<text x="1941.9" y="761.6" font-size="28" text-anchor="middle">−40</text>
<path d="M1012.5 15.9L1021.4 15.9" stroke="#000" stroke-width="2"/>
<text x="1003.6" y="26" font-size="27.6" text-anchor="end">0.25</text>
<path d="M1012.5 123L1021.4 123" stroke="#000" stroke-width="2"/>
<text x="1003.6" y="133.1" font-size="27.6" text-anchor="end">0.20</text>
<path d="M1012.5 230.1L1021.4 230.1" stroke="#000" stroke-width="2"/>
<text x="1003.6" y="240.2" font-size="27.6" text-anchor="end">0.15</text>
<path d="M1012.5 337.3L1021.4 337.3" stroke="#000" stroke-width="2"/>
<text x="1003.6" y="347.4" font-size="27.6" text-anchor="end">0.10</text>
<path d="M1012.5 444.4L1021.4 444.4" stroke="#000" stroke-width="2"/>
<text x="1003.6" y="454.5" font-size="27.6" text-anchor="end">0.05</text>
<path d="M1012.5 551.5L1021.4 551.5" stroke="#000" stroke-width="2"/>
<text x="1003.6" y="561.6" font-size="27.6" text-anchor="end">0.00</text>
<path d="M1012.5 658.6L1021.4 658.6" stroke="#000" stroke-width="2"/>
<text x="1003.6" y="668.7" font-size="27.6" text-anchor="end">−0.05</text>
<text x="1481.7" y="805.6" font-size="37.5" text-anchor="middle">latitude</text>
<text transform="translate(902.2,368.6) rotate(-90)" font-size="37.5" text-anchor="middle">PW</text>
<text x="1067.2" y="102.8" font-size="37.5">Meridional ocean</text>
<text x="1067.2" y="144.9" font-size="37.5">heat transport</text>
<text x="1067.2" y="186.7" font-size="37.5">anomaly</text>
<text x="1597.4" y="444.6" font-size="37.5" fill="#999">northward</text>
<text x="1597.4" y="636.8" font-size="37.5" fill="#999">southward</text>
<rect x="1067.2" y="248.9" width="266.1" height="191" fill="#fff" stroke="#d9dbda" stroke-width="2.2" rx="5" fill-opacity="0.8"/>
<path d="M1077.1 269.5L1127.2 269.5" stroke="#000" stroke-width="10" stroke-linecap="square"/>
<path d="M1077.1 306L1127.2 306" stroke="#008b8b" stroke-width="10" stroke-linecap="square"/>
<path d="M1077.3 342.4L1127.4 342.4" stroke="#000" stroke-width="2.5" stroke-dasharray="9.25 4"/>
<path d="M1077.3 379.1L1127.4 379.1" stroke="#008b8b" stroke-width="2.5" stroke-dasharray="9.25 4"/>
<rect x="1077.3" y="407.2" width="49.9" height="17.5" fill="#fafafa"/>
<text x="1147.3" y="278.7" font-size="25.2">HR change</text>
<text x="1147.3" y="315" font-size="25.2">LR change</text>
<text x="1147.3" y="351.6" font-size="25.2">CMIP5 higher</text>
<text x="1147.3" y="388" font-size="25.2">CMIP5 lower</text>
<text x="1147.3" y="424.7" font-size="25.2">HR-LR change</text>
<text transform="translate(866,32.1) scale(0.94,0.98)" font-size="42" font-weight="bold" font-family='"Liberation Sans","DejaVu Sans",sans-serif'>d</text>
<g shape-rendering="crispEdges">
<rect x="1063.3" y="859.4" width="17.8" height="42.2" fill="#073467"/>
<rect x="1080.8" y="859.4" width="17.8" height="42.2" fill="#0e4179"/>
<rect x="1098.2" y="859.4" width="17.8" height="42.2" fill="#134c87"/>
<rect x="1115.7" y="859.4" width="17.8" height="42.2" fill="#195696"/>
<rect x="1133.1" y="859.4" width="17.8" height="42.2" fill="#1f63a8"/>
<rect x="1150.6" y="859.4" width="17.8" height="42.2" fill="#266caf"/>
<rect x="1168.1" y="859.4" width="17.8" height="42.2" fill="#2c75b4"/>
<rect x="1185.5" y="859.4" width="17.8" height="42.2" fill="#3480b9"/>
<rect x="1203" y="859.4" width="17.8" height="42.2" fill="#3b88be"/>
<rect x="1220.5" y="859.4" width="17.8" height="42.2" fill="#4291c2"/>
<rect x="1237.9" y="859.4" width="17.8" height="42.2" fill="#529dc8"/>
<rect x="1255.4" y="859.4" width="17.8" height="42.2" fill="#62a7ce"/>
<rect x="1272.8" y="859.4" width="17.8" height="42.2" fill="#71b0d3"/>
<rect x="1290.3" y="859.4" width="17.8" height="42.2" fill="#84bcd9"/>
<rect x="1307.8" y="859.4" width="17.8" height="42.2" fill="#93c6de"/>
<rect x="1325.2" y="859.4" width="17.8" height="42.2" fill="#a0cce2"/>
<rect x="1342.7" y="859.4" width="17.8" height="42.2" fill="#aed3e6"/>
<rect x="1360.2" y="859.4" width="17.8" height="42.2" fill="#bbdaea"/>
<rect x="1377.6" y="859.4" width="17.8" height="42.2" fill="#c7e0ed"/>
<rect x="1395.1" y="859.4" width="17.8" height="42.2" fill="#d4e6f1"/>
<rect x="1412.5" y="859.4" width="17.8" height="42.2" fill="#dbeaf2"/>
<rect x="1430" y="859.4" width="17.8" height="42.2" fill="#e3edf3"/>
<rect x="1447.5" y="859.4" width="17.8" height="42.2" fill="#ecf2f5"/>
<rect x="1464.9" y="859.4" width="17.8" height="42.2" fill="#f3f5f6"/>
<rect x="1482.4" y="859.4" width="17.8" height="42.2" fill="#f8f4f2"/>
<rect x="1499.9" y="859.4" width="17.8" height="42.2" fill="#f9eee7"/>
<rect x="1517.3" y="859.4" width="17.8" height="42.2" fill="#fae8de"/>
<rect x="1534.8" y="859.4" width="17.8" height="42.2" fill="#fbe3d4"/>
<rect x="1552.2" y="859.4" width="17.8" height="42.2" fill="#fddcc9"/>
<rect x="1569.7" y="859.4" width="17.8" height="42.2" fill="#fcd3bc"/>
<rect x="1587.2" y="859.4" width="17.8" height="42.2" fill="#fac8af"/>
<rect x="1604.6" y="859.4" width="17.8" height="42.2" fill="#f8bb9e"/>
<rect x="1622.1" y="859.4" width="17.8" height="42.2" fill="#f6b191"/>
<rect x="1639.6" y="859.4" width="17.8" height="42.2" fill="#f4a683"/>
<rect x="1657" y="859.4" width="17.8" height="42.2" fill="#ee9677"/>
<rect x="1674.5" y="859.4" width="17.8" height="42.2" fill="#e8896c"/>
<rect x="1692" y="859.4" width="17.8" height="42.2" fill="#e27b62"/>
<rect x="1709.4" y="859.4" width="17.8" height="42.2" fill="#db6b55"/>
<rect x="1726.9" y="859.4" width="17.8" height="42.2" fill="#d55d4c"/>
<rect x="1744.3" y="859.4" width="17.8" height="42.2" fill="#ce4f45"/>
<rect x="1761.8" y="859.4" width="17.8" height="42.2" fill="#c53e3d"/>
<rect x="1779.3" y="859.4" width="17.8" height="42.2" fill="#be3036"/>
<rect x="1796.7" y="859.4" width="17.8" height="42.2" fill="#b72230"/>
<rect x="1814.2" y="859.4" width="17.8" height="42.2" fill="#ab162a"/>
<rect x="1831.7" y="859.4" width="17.8" height="42.2" fill="#9c1127"/>
<rect x="1849.1" y="859.4" width="17.8" height="42.2" fill="#8d0c25"/>
<rect x="1866.6" y="859.4" width="17.8" height="42.2" fill="#7c0722"/>
<rect x="1884" y="859.4" width="17.8" height="42.2" fill="#6d0220"/>
</g>
<path d="M1063.3 859.4L1021.1 880.5L1063.3 901.6Z" fill="#8b12a9"/>
<path d="M1901.5 859.4L1943.7 880.5L1901.5 901.6Z" fill="#67001f"/>
<path d="M1063.3 859.4L1901.5 859.4L1943.7 880.5L1901.5 901.6L1063.3 901.6L1021.1 880.5Z" fill="none" stroke="#000" stroke-width="1.8" stroke-linejoin="miter"/>
<path d="M1063.3 901.6L1063.3 908.3" stroke="#000" stroke-width="2"/>
<text x="1063.3" y="936.3" font-size="28" text-anchor="middle">−30</text>
<path d="M1203 901.6L1203 908.3" stroke="#000" stroke-width="2"/>
<text x="1203" y="936.3" font-size="28" text-anchor="middle">−20</text>
<path d="M1342.7 901.6L1342.7 908.3" stroke="#000" stroke-width="2"/>
<text x="1342.7" y="936.3" font-size="28" text-anchor="middle">−10</text>
<path d="M1482.4 901.6L1482.4 908.3" stroke="#000" stroke-width="2"/>
<text x="1482.4" y="936.3" font-size="28" text-anchor="middle">0</text>
<path d="M1622.1 901.6L1622.1 908.3" stroke="#000" stroke-width="2"/>
<text x="1622.1" y="936.3" font-size="28" text-anchor="middle">10</text>
<path d="M1761.8 901.6L1761.8 908.3" stroke="#000" stroke-width="2"/>
<text x="1761.8" y="936.3" font-size="28" text-anchor="middle">20</text>
<path d="M1901.5 901.6L1901.5 908.3" stroke="#000" stroke-width="2"/>
<text x="1901.5" y="936.3" font-size="28" text-anchor="middle">30</text>
<text x="1481" y="977.1" font-size="37.2" text-anchor="middle">sea ice fraction change [%]</text>
<g shape-rendering="crispEdges">
<rect x="1020.8" y="1005.5" width="23.3" height="102.5" fill="#fbe3d4"/>
<rect x="1043.8" y="1005.5" width="23.3" height="102.5" fill="#fbe3d4"/>
<rect x="1066.8" y="1005.5" width="23.3" height="102.5" fill="#fbe3d4"/>
<rect x="1089.9" y="1005.5" width="23.3" height="102.5" fill="#fae8de"/>
<rect x="1112.9" y="1005.5" width="23.3" height="102.5" fill="#f9eee7"/>
<rect x="1135.9" y="1005.5" width="23.3" height="102.5" fill="#f9eee7"/>
<rect x="1158.9" y="1005.5" width="23.3" height="102.5" fill="#f8f4f2"/>
<rect x="1182" y="1005.5" width="23.3" height="102.5" fill="#f9eee7"/>
<rect x="1205" y="1005.5" width="23.3" height="102.5" fill="#f8f4f2"/>
<rect x="1228" y="1005.5" width="23.3" height="102.5" fill="#f8f4f2"/>
<rect x="1251" y="1005.5" width="23.3" height="102.5" fill="#fae8de"/>
<rect x="1274" y="1005.5" width="23.3" height="102.5" fill="#fddcc9"/>
<rect x="1297.1" y="1005.5" width="23.3" height="102.5" fill="#fac8af"/>
<rect x="1320.1" y="1005.5" width="23.3" height="102.5" fill="#f8bb9e"/>
<rect x="1343.1" y="1005.5" width="23.3" height="102.5" fill="#f4a683"/>
<rect x="1366.1" y="1005.5" width="23.3" height="102.5" fill="#f4a683"/>
<rect x="1389.2" y="1005.5" width="23.3" height="102.5" fill="#ee9677"/>
<rect x="1412.2" y="1005.5" width="23.3" height="102.5" fill="#ee9677"/>
<rect x="1435.2" y="1005.5" width="23.3" height="102.5" fill="#e8896c"/>
<rect x="1458.2" y="1005.5" width="23.3" height="102.5" fill="#e8896c"/>
<rect x="1481.2" y="1005.5" width="23.3" height="102.5" fill="#ee9677"/>
<rect x="1504.3" y="1005.5" width="23.3" height="102.5" fill="#f4a683"/>
<rect x="1527.3" y="1005.5" width="23.3" height="102.5" fill="#f6b191"/>
<rect x="1550.3" y="1005.5" width="23.3" height="102.5" fill="#f8bb9e"/>
<rect x="1573.3" y="1005.5" width="23.3" height="102.5" fill="#f8bb9e"/>
<rect x="1596.4" y="1005.5" width="23.3" height="102.5" fill="#fddcc9"/>
<rect x="1619.4" y="1005.5" width="23.3" height="102.5" fill="#fddcc9"/>
<rect x="1642.4" y="1005.5" width="23.3" height="102.5" fill="#f8f4f2"/>
<rect x="1665.4" y="1005.5" width="23.3" height="102.5" fill="#f8f4f2"/>
<rect x="1688.5" y="1005.5" width="23.3" height="102.5" fill="#f8f4f2"/>
<rect x="1711.5" y="1005.5" width="23.3" height="102.5" fill="#f3f5f6"/>
<rect x="1734.5" y="1005.5" width="23.3" height="102.5" fill="#f3f5f6"/>
<rect x="1757.5" y="1005.5" width="23.3" height="102.5" fill="#f3f5f6"/>
<rect x="1780.5" y="1005.5" width="23.3" height="102.5" fill="#f3f5f6"/>
<rect x="1803.6" y="1005.5" width="23.3" height="102.5" fill="#f8f4f2"/>
<rect x="1826.6" y="1005.5" width="23.3" height="102.5" fill="#f8f4f2"/>
<rect x="1849.6" y="1005.5" width="23.3" height="102.5" fill="#f8f4f2"/>
<rect x="1872.6" y="1005.5" width="23.3" height="102.5" fill="#f8f4f2"/>
<rect x="1895.7" y="1005.5" width="23.3" height="102.5" fill="#f8f4f2"/>
<rect x="1918.7" y="1005.5" width="23.3" height="102.5" fill="#f8f4f2"/>
</g>
<path d="M1410.6 1108L1410.6 1005.5" stroke="#fff" stroke-width="5.3" stroke-dasharray="19.6 8.5"/>
<path d="M1421.4 1108L1421.4 1005.5" stroke="#008b8b" stroke-width="5.3" stroke-dasharray="19.6 8.5"/>
<path d="M1439.1 1108L1439.1 1005.5" stroke="#000" stroke-width="5.3" stroke-dasharray="19.6 8.5"/>
<path d="M1459.1 1108L1459.1 1005.5" stroke="#fff" stroke-width="5.0"/>
<path d="M1464.7 1108L1464.7 1005.5" stroke="#000" stroke-width="4.6"/>
<path d="M1487.9 1108L1487.9 1005.5" stroke="#008b8b" stroke-width="5.0"/>
<rect x="1020.8" y="1005.5" width="920.9" height="102.5" fill="none" stroke="#000" stroke-width="1.8"/>
<path d="M1020.8 1108L1020.8 1114.7" stroke="#000" stroke-width="2"/>
<text x="1020.2" y="1142.8" font-size="28" text-anchor="middle">−80</text>
<path d="M1135.9 1108L1135.9 1114.7" stroke="#000" stroke-width="2"/>
<text x="1135.3" y="1142.8" font-size="28" text-anchor="middle">−75</text>
<path d="M1251 1108L1251 1114.7" stroke="#000" stroke-width="2"/>
<text x="1250.4" y="1142.8" font-size="28" text-anchor="middle">−70</text>
<path d="M1366.1 1108L1366.1 1114.7" stroke="#000" stroke-width="2"/>
<text x="1365.5" y="1142.8" font-size="28" text-anchor="middle">−65</text>
<path d="M1481.2 1108L1481.2 1114.7" stroke="#000" stroke-width="2"/>
<text x="1480.7" y="1142.8" font-size="28" text-anchor="middle">−60</text>
<path d="M1596.4 1108L1596.4 1114.7" stroke="#000" stroke-width="2"/>
<text x="1595.8" y="1142.8" font-size="28" text-anchor="middle">−55</text>
<path d="M1711.5 1108L1711.5 1114.7" stroke="#000" stroke-width="2"/>
<text x="1710.9" y="1142.8" font-size="28" text-anchor="middle">−50</text>
<path d="M1826.6 1108L1826.6 1114.7" stroke="#000" stroke-width="2"/>
<text x="1826" y="1142.8" font-size="28" text-anchor="middle">−45</text>
<path d="M1941.7 1108L1941.7 1114.7" stroke="#000" stroke-width="2"/>
<text x="1941.1" y="1142.8" font-size="28" text-anchor="middle">−40</text>
<text x="1499" y="1037" font-size="22.8" fill="#008b8b">LR</text>
<text x="1474.8" y="1068.2" font-size="22.8">HR</text>
<text x="1469.7" y="1098.3" font-size="22.8" fill="#fff">CMIP5</text>
<rect x="1634.6" y="1041.7" width="275.9" height="51.1" fill="#fff"/>
<text x="1643.1" y="1078.4" font-size="37.2">HR-LR change</text>
<text x="1480.7" y="1183.1" font-size="37.5" text-anchor="middle">latitude</text>
<text transform="translate(865.5,849.7) scale(0.9,0.98)" font-size="42" font-weight="bold" font-family='"Liberation Sans","DejaVu Sans",sans-serif'>e</text>
<clipPath id="cf"><rect x="1021.4" y="1237.1" width="919" height="420.7"/></clipPath>
<g clip-path="url(#cf)" shape-rendering="crispEdges">
<path fill="#053061" d="M1392.9 1237.1h254.4v2.1h-254.4zM1392.9 1238.8h254.4v2.1h-254.4zM1392.9 1240.5h254.4v2.1h-254.4zM1416 1242.1h231.3v2.1h-231.3zM1416 1243.8h231.3v2.1h-231.3zM1416 1245.5h231.3v2.1h-231.3zM1439.1 1247.2h208.2v2.1h-208.2zM1439.1 1248.9h231.3v2.1h-231.3zM1439.1 1250.6h231.3v2.1h-231.3zM1485.3 1252.2h185.1v2.1h-185.1zM1069.6 1370h23.5v20.6h-23.5zM1069.6 1390.2h23.5v22.3h-23.5zM1069.6 1412.1h23.5v24h-23.5z"/>
<path fill="#09386d" d="M1392.9 1242.1h23.5v2.1h-23.5zM1646.9 1247.2h23.5v2.1h-23.5zM1485.3 1253.9h162v2.9h-162z"/>
<path fill="#114781" d="M1369.8 1237.1h23.5v2.1h-23.5zM1392.9 1243.8h23.5v2.1h-23.5zM1646.9 1243.8h23.5v2.1h-23.5zM1392.9 1245.5h23.5v2.1h-23.5zM1646.9 1245.5h23.5v2.1h-23.5zM1416 1247.2h23.5v2.1h-23.5z"/>
<path fill="#175290" d="M1646.9 1242.1h23.5v2.1h-23.5z"/>
<path fill="#1b5a9c" d="M1208.2 1237.1h162v2.1h-162zM1646.9 1237.1h23.5v2.1h-23.5zM1646.9 1238.8h23.5v2.1h-23.5zM1646.9 1240.5h23.5v2.1h-23.5zM1416 1248.9h23.5v2.1h-23.5zM1416 1250.6h23.5v2.1h-23.5zM1462.2 1252.2h23.5v2.1h-23.5zM1646.9 1253.9h23.5v2.9h-23.5zM1831.6 1269.1h23.5v7.1h-23.5zM1831.6 1275.8h23.5v8.8h-23.5z"/>
<path fill="#1d5fa2" d="M1369.8 1238.8h23.5v2.1h-23.5z"/>
<path fill="#2369ad" d="M1831.6 1284.2h23.5v10.5h-23.5z"/>
<path fill="#2a71b2" d="M1185.1 1237.1h23.5v2.1h-23.5zM1369.8 1240.5h23.5v2.1h-23.5zM1693.1 1240.5h23.5v2.1h-23.5zM1693.1 1242.1h23.5v2.1h-23.5zM1693.1 1243.8h23.5v2.1h-23.5zM1693.1 1245.5h23.5v2.1h-23.5zM1693.1 1247.2h23.5v2.1h-23.5zM1693.1 1248.9h23.5v2.1h-23.5zM1693.1 1250.6h23.5v2.1h-23.5zM1854.7 1269.1h23.5v7.1h-23.5zM1854.7 1275.8h23.5v8.8h-23.5zM1854.7 1284.2h23.5v10.5h-23.5zM1854.7 1294.3h23.5v12.2h-23.5z"/>
<path fill="#2b73b3" d="M1831.6 1264h23.5v5.4h-23.5zM1877.8 1264h46.6v5.4h-46.6z"/>
<path fill="#2e77b5" d="M1693.1 1238.8h23.5v2.1h-23.5z"/>
<path fill="#2f79b5" d="M1369.8 1242.1h23.5v2.1h-23.5zM1854.7 1264h23.5v5.4h-23.5zM1877.8 1269.1h46.6v7.1h-46.6zM1831.6 1294.3h23.5v12.2h-23.5z"/>
<path fill="#327cb7" d="M1670 1237.1h46.6v2.1h-46.6zM1346.7 1238.8h23.5v2.1h-23.5zM1670 1238.8h23.5v2.1h-23.5zM1670 1240.5h23.5v2.1h-23.5zM1670 1242.1h23.5v2.1h-23.5zM1670 1243.8h23.5v2.1h-23.5zM1670 1245.5h23.5v2.1h-23.5zM1670 1247.2h23.5v2.1h-23.5zM1670 1248.9h23.5v2.1h-23.5zM1670 1250.6h23.5v2.1h-23.5zM1508.4 1256.5h23.5v3.8h-23.5zM1808.5 1259.8h115.8v4.6h-115.8zM1808.5 1264h23.5v5.4h-23.5zM1808.5 1269.1h23.5v7.1h-23.5zM1877.8 1294.3h23.5v12.2h-23.5z"/>
<path fill="#3480b9" d="M1877.8 1306.1h46.6v13.9h-46.6z"/>
<path fill="#3885bc" d="M1138.9 1237.1h46.6v2.1h-46.6zM1369.8 1243.8h23.5v2.1h-23.5zM1369.8 1245.5h23.5v2.1h-23.5zM1392.9 1247.2h23.5v2.1h-23.5zM1670 1252.2h46.6v2.1h-46.6zM1808.5 1256.5h46.6v3.8h-46.6zM1924 1264h23.5v5.4h-23.5zM1924 1269.1h23.5v7.1h-23.5zM1808.5 1275.8h23.5v8.8h-23.5zM1877.8 1275.8h23.5v8.8h-23.5zM1877.8 1284.2h23.5v10.5h-23.5zM1854.7 1306.1h23.5v13.9h-23.5z"/>
<path fill="#3a87bd" d="M1323.6 1238.8h23.5v2.1h-23.5zM1808.5 1253.9h46.6v2.9h-46.6z"/>
<path fill="#3c8abe" d="M1716.2 1237.1h23.5v2.1h-23.5zM1808.5 1237.1h46.6v2.1h-46.6zM1300.5 1238.8h23.5v2.1h-23.5zM1716.2 1238.8h23.5v2.1h-23.5zM1808.5 1238.8h46.6v2.1h-46.6zM1716.2 1240.5h23.5v2.1h-23.5zM1808.5 1240.5h46.6v2.1h-46.6zM1716.2 1242.1h23.5v2.1h-23.5zM1808.5 1242.1h46.6v2.1h-46.6zM1716.2 1243.8h23.5v2.1h-23.5zM1808.5 1243.8h46.6v2.1h-46.6zM1716.2 1245.5h23.5v2.1h-23.5zM1808.5 1245.5h46.6v2.1h-46.6zM1716.2 1247.2h23.5v2.1h-23.5zM1808.5 1247.2h46.6v2.1h-46.6zM1716.2 1248.9h23.5v2.1h-23.5zM1808.5 1248.9h46.6v2.1h-46.6zM1716.2 1250.6h23.5v2.1h-23.5zM1808.5 1250.6h46.6v2.1h-46.6zM1716.2 1252.2h23.5v2.1h-23.5zM1808.5 1252.2h46.6v2.1h-46.6zM1485.3 1256.5h23.5v3.8h-23.5zM1854.7 1256.5h46.6v3.8h-46.6zM1924 1259.8h23.5v4.6h-23.5zM1900.9 1275.8h23.5v8.8h-23.5zM1924 1306.1h23.5v13.9h-23.5zM1046.6 1351.5h23.5v18.9h-23.5z"/>
<path fill="#408fc1" d="M1854.7 1253.9h23.5v2.9h-23.5zM1900.9 1294.3h23.5v12.2h-23.5z"/>
<path fill="#4393c3" d="M1854.7 1237.1h23.5v2.1h-23.5zM1208.2 1238.8h92.8v2.1h-92.8zM1854.7 1238.8h23.5v2.1h-23.5zM1854.7 1240.5h23.5v2.1h-23.5zM1854.7 1242.1h23.5v2.1h-23.5zM1854.7 1243.8h23.5v2.1h-23.5zM1854.7 1245.5h23.5v2.1h-23.5zM1854.7 1247.2h23.5v2.1h-23.5zM1854.7 1248.9h23.5v2.1h-23.5zM1854.7 1250.6h23.5v2.1h-23.5zM1854.7 1252.2h23.5v2.1h-23.5zM1877.8 1253.9h23.5v2.9h-23.5zM1531.4 1256.5h23.5v3.8h-23.5zM1646.9 1256.5h23.5v3.8h-23.5zM1900.9 1256.5h23.5v3.8h-23.5zM1900.9 1319.6h46.6v15.5h-46.6z"/>
<path fill="#4695c4" d="M1046.6 1237.1h23.5v2.1h-23.5zM1346.7 1240.5h23.5v2.1h-23.5zM1670 1253.9h69.7v2.9h-69.7zM1623.8 1256.5h23.5v3.8h-23.5zM1785.4 1256.5h23.5v3.8h-23.5zM1785.4 1259.8h23.5v4.6h-23.5zM1924 1275.8h23.5v8.8h-23.5z"/>
<path fill="#4c99c6" d="M1900.9 1253.9h23.5v2.9h-23.5z"/>
<path fill="#529dc8" d="M1877.8 1237.1h23.5v2.1h-23.5zM1877.8 1238.8h23.5v2.1h-23.5zM1877.8 1240.5h23.5v2.1h-23.5zM1346.7 1242.1h23.5v2.1h-23.5zM1877.8 1242.1h23.5v2.1h-23.5zM1877.8 1243.8h23.5v2.1h-23.5zM1877.8 1245.5h23.5v2.1h-23.5zM1877.8 1247.2h23.5v2.1h-23.5zM1877.8 1248.9h23.5v2.1h-23.5zM1877.8 1250.6h23.5v2.1h-23.5zM1877.8 1252.2h23.5v2.1h-23.5zM1785.4 1253.9h23.5v2.9h-23.5zM1554.5 1256.5h23.5v3.8h-23.5zM1785.4 1264h23.5v5.4h-23.5z"/>
<path fill="#569fc9" d="M1739.3 1237.1h23.5v2.1h-23.5zM1785.4 1237.1h23.5v2.1h-23.5zM1900.9 1237.1h23.5v2.1h-23.5zM1739.3 1238.8h23.5v2.1h-23.5zM1785.4 1238.8h23.5v2.1h-23.5zM1900.9 1238.8h23.5v2.1h-23.5zM1739.3 1240.5h23.5v2.1h-23.5zM1785.4 1240.5h23.5v2.1h-23.5zM1900.9 1240.5h23.5v2.1h-23.5zM1739.3 1242.1h23.5v2.1h-23.5zM1785.4 1242.1h23.5v2.1h-23.5zM1900.9 1242.1h23.5v2.1h-23.5zM1346.7 1243.8h23.5v2.1h-23.5zM1739.3 1243.8h23.5v2.1h-23.5zM1785.4 1243.8h23.5v2.1h-23.5zM1900.9 1243.8h23.5v2.1h-23.5zM1346.7 1245.5h23.5v2.1h-23.5zM1739.3 1245.5h23.5v2.1h-23.5zM1785.4 1245.5h23.5v2.1h-23.5zM1900.9 1245.5h23.5v2.1h-23.5zM1739.3 1247.2h23.5v2.1h-23.5zM1785.4 1247.2h23.5v2.1h-23.5zM1900.9 1247.2h23.5v2.1h-23.5zM1739.3 1248.9h23.5v2.1h-23.5zM1785.4 1248.9h23.5v2.1h-23.5zM1900.9 1248.9h23.5v2.1h-23.5zM1739.3 1250.6h23.5v2.1h-23.5zM1785.4 1250.6h23.5v2.1h-23.5zM1900.9 1250.6h23.5v2.1h-23.5zM1739.3 1252.2h23.5v2.1h-23.5zM1785.4 1252.2h23.5v2.1h-23.5zM1900.9 1252.2h23.5v2.1h-23.5zM1739.3 1253.9h23.5v2.9h-23.5zM1600.7 1256.5h23.5v3.8h-23.5zM1716.2 1256.5h46.6v3.8h-46.6zM1924 1256.5h23.5v3.8h-23.5zM1785.4 1269.1h23.5v7.1h-23.5zM1831.6 1306.1h23.5v13.9h-23.5z"/>
<path fill="#5ca3cb" d="M1808.5 1284.2h23.5v10.5h-23.5zM1900.9 1284.2h23.5v10.5h-23.5z"/>
<path fill="#5fa5cd" d="M1185.1 1238.8h23.5v2.1h-23.5z"/>
<path fill="#65a9cf" d="M1877.8 1319.6h23.5v15.5h-23.5z"/>
<path fill="#6bacd1" d="M1115.8 1237.1h23.5v2.1h-23.5zM1762.3 1237.1h23.5v2.1h-23.5zM1762.3 1238.8h23.5v2.1h-23.5zM1323.6 1240.5h23.5v2.1h-23.5zM1762.3 1240.5h23.5v2.1h-23.5zM1439.1 1252.2h23.5v2.1h-23.5zM1762.3 1252.2h23.5v2.1h-23.5zM1462.2 1253.9h23.5v2.9h-23.5zM1762.3 1253.9h23.5v2.9h-23.5zM1577.6 1256.5h23.5v3.8h-23.5zM1670 1256.5h46.6v3.8h-46.6zM1762.3 1256.5h23.5v3.8h-23.5zM1508.4 1259.8h23.5v4.6h-23.5zM1739.3 1259.8h46.6v4.6h-46.6z"/>
<path fill="#6eaed2" d="M1138.9 1238.8h46.6v2.1h-46.6zM1762.3 1242.1h23.5v2.1h-23.5z"/>
<path fill="#78b4d5" d="M1300.5 1240.5h23.5v2.1h-23.5zM1323.6 1242.1h23.5v2.1h-23.5zM1762.3 1243.8h23.5v2.1h-23.5zM1762.3 1245.5h23.5v2.1h-23.5zM1369.8 1247.2h23.5v2.1h-23.5zM1762.3 1247.2h23.5v2.1h-23.5zM1924 1253.9h23.5v2.9h-23.5zM1485.3 1259.8h23.5v4.6h-23.5zM1924 1294.3h23.5v12.2h-23.5z"/>
<path fill="#7eb8d7" d="M1762.3 1248.9h23.5v2.1h-23.5zM1762.3 1250.6h23.5v2.1h-23.5zM1716.2 1259.8h23.5v4.6h-23.5zM1762.3 1264h23.5v5.4h-23.5zM1785.4 1275.8h23.5v8.8h-23.5zM1808.5 1294.3h23.5v12.2h-23.5zM1069.6 1351.5h23.5v18.9h-23.5z"/>
<path fill="#8dc2dc" d="M1208.2 1240.5h92.8v2.1h-92.8zM1323.6 1243.8h23.5v2.1h-23.5zM1323.6 1245.5h23.5v2.1h-23.5zM1392.9 1248.9h23.5v2.1h-23.5zM1392.9 1250.6h23.5v2.1h-23.5zM1531.4 1259.8h23.5v4.6h-23.5zM1693.1 1259.8h23.5v4.6h-23.5zM1924 1284.2h23.5v10.5h-23.5zM1854.7 1319.6h23.5v15.5h-23.5z"/>
<path fill="#90c4dd" d="M1300.5 1242.1h23.5v2.1h-23.5zM1739.3 1264h23.5v5.4h-23.5z"/>
<path fill="#96c7df" d="M1762.3 1269.1h23.5v7.1h-23.5z"/>
<path fill="#9bc9e0" d="M1046.6 1238.8h23.5v2.1h-23.5z"/>
<path fill="#9dcbe1" d="M1924 1237.1h23.5v2.1h-23.5zM1115.8 1238.8h23.5v2.1h-23.5zM1924 1238.8h23.5v2.1h-23.5zM1924 1240.5h23.5v2.1h-23.5zM1924 1242.1h23.5v2.1h-23.5zM1924 1243.8h23.5v2.1h-23.5zM1924 1245.5h23.5v2.1h-23.5zM1346.7 1247.2h23.5v2.1h-23.5zM1924 1247.2h23.5v2.1h-23.5zM1924 1248.9h23.5v2.1h-23.5zM1924 1250.6h23.5v2.1h-23.5zM1924 1252.2h23.5v2.1h-23.5zM1554.5 1259.8h23.5v4.6h-23.5zM1670 1259.8h23.5v4.6h-23.5zM1716.2 1264h23.5v5.4h-23.5z"/>
<path fill="#a5cee3" d="M1069.6 1237.1h46.6v2.1h-46.6zM1138.9 1240.5h69.7v2.1h-69.7zM1277.5 1242.1h23.5v2.1h-23.5zM1300.5 1243.8h23.5v2.1h-23.5zM1300.5 1245.5h23.5v2.1h-23.5zM1646.9 1259.8h23.5v4.6h-23.5zM1508.4 1264h23.5v5.4h-23.5zM1693.1 1264h23.5v5.4h-23.5zM1785.4 1284.2h23.5v10.5h-23.5zM1115.8 1334.7h23.5v17.2h-23.5z"/>
<path fill="#b1d5e7" d="M1577.6 1259.8h23.5v4.6h-23.5zM1623.8 1259.8h23.5v4.6h-23.5zM1485.3 1264h23.5v5.4h-23.5zM1531.4 1264h23.5v5.4h-23.5zM1924 1334.7h23.5v17.2h-23.5zM1138.9 1351.5h23.5v18.9h-23.5zM1138.9 1370h23.5v20.6h-23.5z"/>
<path fill="#b6d7e8" d="M1208.2 1242.1h69.7v2.1h-69.7zM1739.3 1269.1h23.5v7.1h-23.5zM1762.3 1275.8h23.5v8.8h-23.5zM1808.5 1306.1h23.5v13.9h-23.5zM1831.6 1319.6h23.5v15.5h-23.5zM1900.9 1334.7h23.5v17.2h-23.5zM1162 1351.5h23.5v18.9h-23.5zM1162 1370h23.5v20.6h-23.5zM1439.1 1460.9h23.5v29h-23.5zM1439.1 1489.5h23.5v34.1h-23.5z"/>
<path fill="#b8d8e9" d="M1323.6 1247.2h23.5v2.1h-23.5z"/>
<path fill="#bddbea" d="M1138.9 1242.1h23.5v2.1h-23.5zM1670 1264h23.5v5.4h-23.5zM1115.8 1351.5h23.5v18.9h-23.5zM1185.1 1351.5h23.5v18.9h-23.5zM1185.1 1370h23.5v20.6h-23.5zM1439.1 1412.1h23.5v24h-23.5zM1439.1 1435.7h23.5v25.6h-23.5z"/>
<path fill="#c2ddec" d="M1115.8 1240.5h23.5v2.1h-23.5zM1162 1242.1h46.6v2.1h-46.6zM1277.5 1243.8h23.5v2.1h-23.5zM1277.5 1245.5h23.5v2.1h-23.5zM1369.8 1248.9h23.5v2.1h-23.5zM1369.8 1250.6h23.5v2.1h-23.5zM1416 1252.2h23.5v2.1h-23.5zM1462.2 1256.5h23.5v3.8h-23.5zM1600.7 1259.8h23.5v4.6h-23.5zM1554.5 1264h23.5v5.4h-23.5zM1716.2 1269.1h23.5v7.1h-23.5zM1785.4 1294.3h23.5v12.2h-23.5zM1416 1370h23.5v20.6h-23.5zM1416 1390.2h46.6v22.3h-46.6zM1416 1412.1h23.5v24h-23.5z"/>
<path fill="#c5dfec" d="M1092.7 1238.8h23.5v2.1h-23.5zM1646.9 1264h23.5v5.4h-23.5zM1115.8 1319.6h23.5v15.5h-23.5zM1138.9 1334.7h23.5v17.2h-23.5zM1877.8 1334.7h23.5v17.2h-23.5zM1462.2 1489.5h23.5v34.1h-23.5zM1462.2 1523.2h23.5v37.4h-23.5z"/>
<path fill="#cae1ee" d="M1115.8 1242.1h23.5v2.1h-23.5z"/>
<path fill="#cce2ef" d="M1300.5 1247.2h23.5v2.1h-23.5zM1508.4 1269.1h23.5v7.1h-23.5zM1416 1435.7h23.5v25.6h-23.5zM1416 1460.9h23.5v29h-23.5zM1416 1489.5h23.5v34.1h-23.5zM1462.2 1560.2h23.5v39.1h-23.5z"/>
<path fill="#d1e5f0" d="M1069.6 1238.8h23.5v2.1h-23.5zM1046.6 1240.5h23.5v2.1h-23.5zM1115.8 1243.8h46.6v2.1h-46.6zM1115.8 1245.5h46.6v2.1h-46.6zM1577.6 1264h23.5v5.4h-23.5zM1623.8 1264h23.5v5.4h-23.5zM1485.3 1269.1h23.5v7.1h-23.5zM1531.4 1269.1h23.5v7.1h-23.5zM1046.6 1334.7h23.5v17.2h-23.5zM1162 1334.7h46.6v17.2h-46.6zM1092.7 1351.5h23.5v18.9h-23.5zM1416 1351.5h23.5v18.9h-23.5zM1092.7 1370h46.6v20.6h-46.6zM1439.1 1370h23.5v20.6h-23.5zM1138.9 1390.2h69.7v22.3h-69.7zM1462.2 1460.9h23.5v29h-23.5zM1439.1 1523.2h23.5v37.4h-23.5zM1485.3 1523.2h23.5v37.4h-23.5zM1485.3 1560.2h23.5v39.1h-23.5z"/>
<path fill="#d4e6f1" d="M1046.6 1242.1h23.5v2.1h-23.5zM1554.5 1269.1h23.5v7.1h-23.5zM1508.4 1560.2h23.5v39.1h-23.5z"/>
<path fill="#d8e9f1" d="M1092.7 1240.5h23.5v2.1h-23.5zM1046.6 1243.8h23.5v2.1h-23.5zM1162 1243.8h115.8v2.1h-115.8zM1046.6 1245.5h23.5v2.1h-23.5zM1162 1245.5h115.8v2.1h-115.8zM1115.8 1247.2h23.5v2.1h-23.5zM1277.5 1247.2h23.5v2.1h-23.5zM1346.7 1248.9h23.5v2.1h-23.5zM1346.7 1250.6h23.5v2.1h-23.5zM1439.1 1253.9h23.5v2.9h-23.5zM1577.6 1269.1h23.5v7.1h-23.5zM1693.1 1269.1h23.5v7.1h-23.5zM1739.3 1275.8h23.5v8.8h-23.5zM1762.3 1284.2h23.5v10.5h-23.5zM1138.9 1319.6h23.5v15.5h-23.5zM1416 1334.7h23.5v17.2h-23.5zM1854.7 1334.7h23.5v17.2h-23.5zM1208.2 1351.5h46.6v18.9h-46.6zM1392.9 1351.5h23.5v18.9h-23.5zM1208.2 1370h46.6v20.6h-46.6zM1392.9 1370h23.5v20.6h-23.5zM1115.8 1390.2h23.5v22.3h-23.5zM1392.9 1390.2h23.5v22.3h-23.5zM1392.9 1412.1h23.5v24h-23.5zM1462.2 1412.1h23.5v24h-23.5zM1462.2 1435.7h23.5v25.6h-23.5zM1485.3 1489.5h23.5v34.1h-23.5zM1439.1 1560.2h23.5v39.1h-23.5zM1531.4 1560.2h46.6v39.1h-46.6zM1485.3 1598.9h115.8v42.5h-115.8zM1600.7 1641h23.5v42.5h-23.5z"/>
<path fill="#dae9f2" d="M1092.7 1242.1h23.5v2.1h-23.5zM1046.6 1247.2h23.5v2.1h-23.5zM1138.9 1247.2h23.5v2.1h-23.5zM1254.4 1370h23.5v20.6h-23.5zM1508.4 1523.2h46.6v37.4h-46.6zM1462.2 1598.9h23.5v42.5h-23.5zM1554.5 1641h46.6v42.5h-46.6zM1623.8 1641h23.5v42.5h-23.5z"/>
<path fill="#ddebf2" d="M1092.7 1243.8h23.5v2.1h-23.5zM1092.7 1245.5h23.5v2.1h-23.5zM1046.6 1248.9h23.5v2.1h-23.5zM1115.8 1248.9h23.5v2.1h-23.5zM1323.6 1248.9h23.5v2.1h-23.5zM1046.6 1250.6h23.5v2.1h-23.5zM1115.8 1250.6h23.5v2.1h-23.5zM1323.6 1250.6h23.5v2.1h-23.5zM1046.6 1252.2h23.5v2.1h-23.5zM1046.6 1253.9h23.5v2.9h-23.5zM1046.6 1256.5h23.5v3.8h-23.5zM1046.6 1259.8h23.5v4.6h-23.5zM1462.2 1259.8h23.5v4.6h-23.5zM1600.7 1264h23.5v5.4h-23.5zM1716.2 1275.8h23.5v8.8h-23.5zM1162 1319.6h23.5v15.5h-23.5zM1254.4 1351.5h23.5v18.9h-23.5zM1462.2 1390.2h23.5v22.3h-23.5zM1508.4 1641h46.6v42.5h-46.6zM1646.9 1641h23.5v42.5h-23.5z"/>
<path fill="#e1edf3" d="M1092.7 1247.2h23.5v2.1h-23.5zM1162 1247.2h115.8v2.1h-115.8zM1046.6 1264h23.5v5.4h-23.5zM1508.4 1275.8h23.5v8.8h-23.5zM1231.3 1390.2h46.6v22.3h-46.6zM1485.3 1412.1h23.5v24h-23.5zM1392.9 1435.7h23.5v25.6h-23.5zM1485.3 1460.9h23.5v29h-23.5zM1508.4 1489.5h23.5v34.1h-23.5zM1416 1523.2h23.5v37.4h-23.5zM1577.6 1560.2h23.5v39.1h-23.5zM1600.7 1598.9h23.5v42.5h-23.5zM1485.3 1641h23.5v42.5h-23.5zM1670 1641h115.8v42.5h-115.8z"/>
<path fill="#e4eef4" d="M1138.9 1248.9h23.5v2.1h-23.5zM1300.5 1248.9h23.5v2.1h-23.5zM1138.9 1250.6h23.5v2.1h-23.5zM1300.5 1250.6h23.5v2.1h-23.5zM1623.8 1269.1h23.5v7.1h-23.5zM1485.3 1275.8h23.5v8.8h-23.5zM1531.4 1275.8h23.5v8.8h-23.5zM1208.2 1334.7h46.6v17.2h-46.6zM1392.9 1334.7h23.5v17.2h-23.5zM1439.1 1351.5h23.5v18.9h-23.5zM1208.2 1390.2h23.5v22.3h-23.5zM1115.8 1412.1h23.5v24h-23.5zM1392.9 1460.9h23.5v29h-23.5zM1623.8 1598.9h23.5v42.5h-23.5zM1462.2 1641h23.5v42.5h-23.5zM1785.4 1641h46.6v42.5h-46.6z"/>
<path fill="#e6eff4" d="M1069.6 1240.5h23.5v2.1h-23.5zM1092.7 1248.9h23.5v2.1h-23.5zM1277.5 1248.9h23.5v2.1h-23.5zM1092.7 1250.6h23.5v2.1h-23.5zM1277.5 1250.6h23.5v2.1h-23.5zM1046.6 1269.1h23.5v7.1h-23.5zM1646.9 1269.1h46.6v7.1h-46.6zM1785.4 1306.1h23.5v13.9h-23.5zM1485.3 1390.2h23.5v22.3h-23.5zM1138.9 1412.1h23.5v24h-23.5zM1485.3 1435.7h23.5v25.6h-23.5zM1531.4 1489.5h23.5v34.1h-23.5zM1554.5 1523.2h23.5v37.4h-23.5zM1600.7 1560.2h23.5v39.1h-23.5zM1439.1 1598.9h23.5v42.5h-23.5zM1646.9 1598.9h23.5v42.5h-23.5z"/>
<path fill="#ecf2f5" d="M1069.6 1242.1h23.5v2.1h-23.5zM1162 1248.9h23.5v2.1h-23.5zM1162 1250.6h23.5v2.1h-23.5zM1092.7 1252.2h23.5v2.1h-23.5zM1439.1 1256.5h23.5v3.8h-23.5zM1462.2 1264h23.5v5.4h-23.5zM1600.7 1269.1h23.5v7.1h-23.5zM1554.5 1275.8h23.5v8.8h-23.5zM1739.3 1284.2h23.5v10.5h-23.5zM1762.3 1294.3h23.5v12.2h-23.5zM1115.8 1306.1h23.5v13.9h-23.5zM1462.2 1370h23.5v20.6h-23.5zM1162 1412.1h23.5v24h-23.5zM1508.4 1412.1h23.5v24h-23.5zM1392.9 1489.5h23.5v34.1h-23.5zM1577.6 1523.2h23.5v37.4h-23.5zM1623.8 1560.2h23.5v39.1h-23.5zM1670 1598.9h46.6v42.5h-46.6zM1831.6 1641h23.5v42.5h-23.5z"/>
<path fill="#edf2f5" d="M1069.6 1243.8h23.5v2.1h-23.5zM1069.6 1245.5h23.5v2.1h-23.5zM1185.1 1248.9h92.8v2.1h-92.8zM1185.1 1250.6h92.8v2.1h-92.8zM1092.7 1253.9h23.5v2.9h-23.5zM1046.6 1275.8h23.5v8.8h-23.5zM1577.6 1275.8h23.5v8.8h-23.5zM1693.1 1275.8h23.5v8.8h-23.5zM1138.9 1306.1h23.5v13.9h-23.5zM1185.1 1319.6h23.5v15.5h-23.5zM1392.9 1319.6h23.5v15.5h-23.5zM1808.5 1319.6h23.5v15.5h-23.5zM1254.4 1334.7h23.5v17.2h-23.5zM1508.4 1370h23.5v20.6h-23.5zM1508.4 1390.2h23.5v22.3h-23.5zM1185.1 1412.1h23.5v24h-23.5zM1254.4 1412.1h23.5v24h-23.5zM1508.4 1460.9h23.5v29h-23.5zM1646.9 1560.2h23.5v39.1h-23.5zM1716.2 1598.9h46.6v42.5h-46.6zM1854.7 1641h23.5v42.5h-23.5z"/>
<path fill="#f0f4f6" d="M1069.6 1247.2h23.5v2.1h-23.5zM1069.6 1248.9h23.5v2.1h-23.5zM1069.6 1250.6h23.5v2.1h-23.5zM1069.6 1252.2h23.5v2.1h-23.5zM1508.4 1284.2h23.5v10.5h-23.5zM1392.9 1306.1h23.5v13.9h-23.5zM1369.8 1319.6h23.5v15.5h-23.5zM1439.1 1334.7h23.5v17.2h-23.5zM1462.2 1351.5h23.5v18.9h-23.5zM1508.4 1351.5h23.5v18.9h-23.5zM1485.3 1370h23.5v20.6h-23.5zM1231.3 1412.1h23.5v24h-23.5zM1508.4 1435.7h23.5v25.6h-23.5zM1531.4 1460.9h23.5v29h-23.5zM1554.5 1489.5h23.5v34.1h-23.5zM1416 1560.2h23.5v39.1h-23.5zM1670 1560.2h23.5v39.1h-23.5zM1762.3 1598.9h46.6v42.5h-46.6z"/>
<path fill="#f5f6f7" d="M1069.6 1253.9h23.5v2.9h-23.5zM1069.6 1256.5h23.5v3.8h-23.5zM1069.6 1259.8h23.5v4.6h-23.5zM1485.3 1284.2h23.5v10.5h-23.5zM1716.2 1284.2h23.5v10.5h-23.5zM1369.8 1306.1h23.5v13.9h-23.5zM1416 1319.6h23.5v15.5h-23.5zM1485.3 1351.5h23.5v18.9h-23.5zM1900.9 1351.5h46.6v18.9h-46.6zM1531.4 1412.1h23.5v24h-23.5zM1115.8 1435.7h23.5v25.6h-23.5zM1531.4 1435.7h23.5v25.6h-23.5zM1323.6 1460.9h23.5v29h-23.5zM1323.6 1489.5h23.5v34.1h-23.5zM1600.7 1523.2h23.5v37.4h-23.5zM1693.1 1560.2h23.5v39.1h-23.5zM1808.5 1598.9h23.5v42.5h-23.5zM1439.1 1641h23.5v42.5h-23.5zM1877.8 1641h23.5v42.5h-23.5z"/>
<path fill="#f7f6f6" d="M1392.9 1252.2h23.5v2.1h-23.5zM1416 1253.9h23.5v2.9h-23.5zM1092.7 1256.5h23.5v3.8h-23.5zM1462.2 1269.1h23.5v7.1h-23.5zM1623.8 1275.8h23.5v8.8h-23.5zM1346.7 1306.1h23.5v13.9h-23.5zM1231.3 1319.6h23.5v15.5h-23.5zM1092.7 1334.7h23.5v17.2h-23.5zM1508.4 1334.7h23.5v17.2h-23.5zM1831.6 1334.7h23.5v17.2h-23.5zM1877.8 1351.5h23.5v18.9h-23.5zM1277.5 1370h23.5v20.6h-23.5zM1092.7 1390.2h23.5v22.3h-23.5zM1277.5 1390.2h46.6v22.3h-46.6zM1369.8 1390.2h23.5v22.3h-23.5zM1531.4 1390.2h23.5v22.3h-23.5zM1277.5 1412.1h115.8v24h-115.8zM1254.4 1435.7h23.5v25.6h-23.5zM1300.5 1435.7h69.7v25.6h-69.7zM1300.5 1460.9h23.5v29h-23.5zM1346.7 1460.9h23.5v29h-23.5zM1300.5 1489.5h23.5v34.1h-23.5zM1346.7 1489.5h23.5v34.1h-23.5zM1577.6 1489.5h23.5v34.1h-23.5zM1323.6 1523.2h23.5v37.4h-23.5zM1392.9 1523.2h23.5v37.4h-23.5zM1623.8 1523.2h46.6v37.4h-46.6zM1716.2 1560.2h23.5v39.1h-23.5zM1831.6 1598.9h46.6v42.5h-46.6zM1900.9 1641h23.5v42.5h-23.5z"/>
<path fill="#f7f5f4" d="M1369.8 1334.7h23.5v17.2h-23.5zM1531.4 1370h23.5v20.6h-23.5zM1346.7 1390.2h23.5v22.3h-23.5zM1554.5 1412.1h23.5v24h-23.5zM1277.5 1435.7h23.5v25.6h-23.5zM1369.8 1435.7h23.5v25.6h-23.5zM1554.5 1460.9h23.5v29h-23.5zM1346.7 1523.2h23.5v37.4h-23.5zM1670 1523.2h23.5v37.4h-23.5zM1739.3 1560.2h23.5v39.1h-23.5zM1924 1641h23.5v42.5h-23.5z"/>
<path fill="#f8f2ef" d="M1439.1 1259.8h23.5v4.6h-23.5zM1069.6 1264h23.5v5.4h-23.5zM1323.6 1275.8h23.5v8.8h-23.5zM1600.7 1275.8h23.5v8.8h-23.5zM1646.9 1275.8h23.5v8.8h-23.5zM1323.6 1284.2h23.5v10.5h-23.5zM1531.4 1284.2h23.5v10.5h-23.5zM1323.6 1294.3h23.5v12.2h-23.5zM1369.8 1294.3h23.5v12.2h-23.5zM1739.3 1294.3h23.5v12.2h-23.5zM1208.2 1319.6h23.5v15.5h-23.5zM1346.7 1319.6h23.5v15.5h-23.5zM1462.2 1334.7h23.5v17.2h-23.5zM1369.8 1351.5h23.5v18.9h-23.5zM1531.4 1351.5h23.5v18.9h-23.5zM1369.8 1370h23.5v20.6h-23.5zM1323.6 1390.2h23.5v22.3h-23.5zM1554.5 1390.2h23.5v22.3h-23.5zM1577.6 1412.1h23.5v24h-23.5zM1138.9 1435.7h23.5v25.6h-23.5zM1554.5 1435.7h23.5v25.6h-23.5zM1254.4 1460.9h46.6v29h-46.6zM1369.8 1460.9h23.5v29h-23.5zM1577.6 1460.9h23.5v29h-23.5zM1600.7 1489.5h23.5v34.1h-23.5zM1300.5 1523.2h23.5v37.4h-23.5zM1693.1 1523.2h23.5v37.4h-23.5zM1323.6 1560.2h23.5v39.1h-23.5zM1762.3 1560.2h46.6v39.1h-46.6zM1877.8 1598.9h23.5v42.5h-23.5z"/>
<path fill="#f9f0eb" d="M1323.6 1269.1h23.5v7.1h-23.5zM1670 1275.8h23.5v8.8h-23.5zM1346.7 1284.2h46.6v10.5h-46.6zM1554.5 1284.2h23.5v10.5h-23.5zM1346.7 1294.3h23.5v12.2h-23.5zM1392.9 1294.3h23.5v12.2h-23.5zM1323.6 1306.1h23.5v13.9h-23.5zM1254.4 1319.6h23.5v15.5h-23.5zM1346.7 1334.7h23.5v17.2h-23.5zM1485.3 1334.7h23.5v17.2h-23.5zM1277.5 1351.5h23.5v18.9h-23.5zM1346.7 1351.5h23.5v18.9h-23.5zM1300.5 1370h23.5v20.6h-23.5zM1346.7 1370h23.5v20.6h-23.5zM1554.5 1370h23.5v20.6h-23.5zM1577.6 1390.2h23.5v22.3h-23.5zM1208.2 1412.1h23.5v24h-23.5zM1231.3 1435.7h23.5v25.6h-23.5zM1577.6 1435.7h23.5v25.6h-23.5zM1600.7 1460.9h23.5v29h-23.5zM1369.8 1489.5h23.5v34.1h-23.5zM1623.8 1489.5h23.5v34.1h-23.5zM1369.8 1523.2h23.5v37.4h-23.5zM1716.2 1523.2h23.5v37.4h-23.5zM1346.7 1560.2h69.7v39.1h-69.7zM1808.5 1560.2h23.5v39.1h-23.5zM1416 1598.9h23.5v42.5h-23.5zM1416 1641h23.5v42.5h-23.5z"/>
<path fill="#f9eee7" d="M1346.7 1275.8h23.5v8.8h-23.5zM1392.9 1284.2h23.5v10.5h-23.5zM1577.6 1284.2h23.5v10.5h-23.5zM1693.1 1284.2h23.5v10.5h-23.5zM1162 1306.1h23.5v13.9h-23.5zM1046.6 1319.6h23.5v15.5h-23.5zM1323.6 1319.6h23.5v15.5h-23.5zM1439.1 1319.6h23.5v15.5h-23.5zM1485.3 1319.6h46.6v15.5h-46.6zM1323.6 1334.7h23.5v17.2h-23.5zM1300.5 1351.5h46.6v18.9h-46.6zM1554.5 1351.5h23.5v18.9h-23.5zM1323.6 1370h23.5v20.6h-23.5zM1577.6 1370h23.5v20.6h-23.5zM1092.7 1412.1h23.5v24h-23.5zM1600.7 1412.1h23.5v24h-23.5zM1092.7 1435.7h23.5v25.6h-23.5zM1600.7 1435.7h23.5v25.6h-23.5zM1623.8 1460.9h23.5v29h-23.5zM1646.9 1489.5h23.5v34.1h-23.5zM1300.5 1560.2h23.5v39.1h-23.5zM1831.6 1560.2h23.5v39.1h-23.5zM1369.8 1598.9h46.6v42.5h-46.6zM1392.9 1641h23.5v42.5h-23.5z"/>
<path fill="#faeae1" d="M1323.6 1264h23.5v5.4h-23.5zM1346.7 1269.1h23.5v7.1h-23.5zM1369.8 1275.8h46.6v8.8h-46.6zM1046.6 1284.2h23.5v10.5h-23.5zM1508.4 1294.3h23.5v12.2h-23.5zM1485.3 1306.1h46.6v13.9h-46.6zM1069.6 1334.7h23.5v17.2h-23.5zM1300.5 1334.7h23.5v17.2h-23.5zM1531.4 1334.7h46.6v17.2h-46.6zM1577.6 1351.5h23.5v18.9h-23.5zM1854.7 1351.5h23.5v18.9h-23.5zM1623.8 1412.1h23.5v24h-23.5zM1162 1435.7h23.5v25.6h-23.5zM1623.8 1435.7h23.5v25.6h-23.5zM1646.9 1460.9h23.5v29h-23.5zM1277.5 1489.5h23.5v34.1h-23.5zM1670 1489.5h23.5v34.1h-23.5zM1739.3 1523.2h23.5v37.4h-23.5zM1854.7 1560.2h23.5v39.1h-23.5zM1323.6 1598.9h46.6v42.5h-46.6zM1900.9 1598.9h23.5v42.5h-23.5zM1323.6 1641h69.7v42.5h-69.7z"/>
<path fill="#fae9df" d="M1346.7 1264h46.6v5.4h-46.6zM1369.8 1269.1h46.6v7.1h-46.6zM1462.2 1275.8h23.5v8.8h-23.5zM1485.3 1294.3h23.5v12.2h-23.5zM1716.2 1294.3h23.5v12.2h-23.5zM1762.3 1306.1h23.5v13.9h-23.5zM1300.5 1319.6h23.5v15.5h-23.5zM1785.4 1319.6h23.5v15.5h-23.5zM1277.5 1334.7h23.5v17.2h-23.5zM1600.7 1390.2h23.5v22.3h-23.5zM1693.1 1489.5h23.5v34.1h-23.5zM1924 1598.9h23.5v42.5h-23.5z"/>
<path fill="#fae7dc" d="M1231.3 1306.1h23.5v13.9h-23.5zM1300.5 1306.1h23.5v13.9h-23.5zM1462.2 1319.6h23.5v15.5h-23.5zM1577.6 1334.7h23.5v17.2h-23.5zM1185.1 1435.7h23.5v25.6h-23.5zM1092.7 1460.9h46.6v29h-46.6zM1231.3 1460.9h23.5v29h-23.5zM1254.4 1489.5h23.5v34.1h-23.5z"/>
<path fill="#fbe4d6" d="M1369.8 1252.2h23.5v2.1h-23.5zM1416 1256.5h23.5v3.8h-23.5zM1323.6 1259.8h69.7v4.6h-69.7zM1392.9 1264h23.5v5.4h-23.5zM1439.1 1264h23.5v5.4h-23.5zM1300.5 1275.8h23.5v8.8h-23.5zM1300.5 1284.2h23.5v10.5h-23.5zM1623.8 1284.2h23.5v10.5h-23.5zM1300.5 1294.3h23.5v12.2h-23.5zM1185.1 1306.1h23.5v13.9h-23.5zM1808.5 1334.7h23.5v17.2h-23.5zM1831.6 1351.5h23.5v18.9h-23.5zM1600.7 1370h23.5v20.6h-23.5zM1623.8 1390.2h23.5v22.3h-23.5zM1646.9 1412.1h23.5v24h-23.5zM1646.9 1435.7h23.5v25.6h-23.5zM1670 1460.9h46.6v29h-46.6zM1092.7 1489.5h46.6v34.1h-46.6zM1092.7 1523.2h46.6v37.4h-46.6zM1277.5 1523.2h23.5v37.4h-23.5zM1300.5 1598.9h23.5v42.5h-23.5zM1138.9 1641h23.5v42.5h-23.5zM1300.5 1641h23.5v42.5h-23.5z"/>
<path fill="#fce2d2" d="M1300.5 1269.1h23.5v7.1h-23.5zM1277.5 1319.6h23.5v15.5h-23.5zM1531.4 1319.6h23.5v15.5h-23.5zM1600.7 1351.5h23.5v18.9h-23.5zM1138.9 1460.9h23.5v29h-23.5zM1716.2 1489.5h23.5v34.1h-23.5zM1162 1641h23.5v42.5h-23.5z"/>
<path fill="#fce0d0" d="M1115.8 1252.2h23.5v2.1h-23.5zM1323.6 1252.2h46.6v2.1h-46.6zM1392.9 1253.9h23.5v2.9h-23.5zM1392.9 1256.5h23.5v3.8h-23.5zM1092.7 1259.8h23.5v4.6h-23.5zM1392.9 1259.8h23.5v4.6h-23.5zM1300.5 1264h23.5v5.4h-23.5zM1462.2 1284.2h23.5v10.5h-23.5zM1600.7 1284.2h23.5v10.5h-23.5zM1646.9 1284.2h46.6v10.5h-46.6zM1531.4 1294.3h46.6v12.2h-46.6zM1208.2 1306.1h23.5v13.9h-23.5zM1254.4 1306.1h23.5v13.9h-23.5zM1416 1306.1h23.5v13.9h-23.5zM1462.2 1306.1h23.5v13.9h-23.5zM1531.4 1306.1h46.6v13.9h-46.6zM1554.5 1319.6h23.5v15.5h-23.5zM1623.8 1370h23.5v20.6h-23.5zM1877.8 1370h69.7v20.6h-69.7zM1208.2 1435.7h23.5v25.6h-23.5zM1670 1435.7h23.5v25.6h-23.5zM1716.2 1460.9h23.5v29h-23.5zM1231.3 1489.5h23.5v34.1h-23.5zM1739.3 1489.5h23.5v34.1h-23.5zM1254.4 1523.2h23.5v37.4h-23.5zM1762.3 1523.2h23.5v37.4h-23.5zM1092.7 1560.2h46.6v39.1h-46.6zM1877.8 1560.2h23.5v39.1h-23.5zM1138.9 1598.9h46.6v42.5h-46.6zM1185.1 1641h23.5v42.5h-23.5z"/>
<path fill="#fddcc9" d="M1462.2 1294.3h23.5v12.2h-23.5zM1577.6 1294.3h23.5v12.2h-23.5zM1277.5 1306.1h23.5v13.9h-23.5zM1577.6 1319.6h23.5v15.5h-23.5zM1854.7 1370h23.5v20.6h-23.5zM1854.7 1390.2h69.7v22.3h-69.7zM1831.6 1435.7h92.8v25.6h-92.8zM1808.5 1460.9h138.9v29h-138.9zM1854.7 1489.5h46.6v34.1h-46.6zM1785.4 1523.2h23.5v37.4h-23.5zM1277.5 1560.2h23.5v39.1h-23.5zM1115.8 1598.9h23.5v42.5h-23.5zM1185.1 1598.9h23.5v42.5h-23.5zM1115.8 1641h23.5v42.5h-23.5zM1208.2 1641h46.6v42.5h-46.6zM1277.5 1641h23.5v42.5h-23.5z"/>
<path fill="#fddbc7" d="M1300.5 1259.8h23.5v4.6h-23.5zM1416 1259.8h23.5v4.6h-23.5zM1439.1 1269.1h23.5v7.1h-23.5zM1693.1 1294.3h23.5v12.2h-23.5zM1046.6 1306.1h23.5v13.9h-23.5zM1439.1 1306.1h23.5v13.9h-23.5zM1577.6 1306.1h23.5v13.9h-23.5zM1092.7 1319.6h23.5v15.5h-23.5zM1600.7 1334.7h23.5v17.2h-23.5zM1623.8 1351.5h23.5v18.9h-23.5zM1808.5 1351.5h23.5v18.9h-23.5zM1831.6 1370h23.5v20.6h-23.5zM1646.9 1390.2h23.5v22.3h-23.5zM1831.6 1390.2h23.5v22.3h-23.5zM1924 1390.2h23.5v22.3h-23.5zM1670 1412.1h23.5v24h-23.5zM1831.6 1412.1h115.8v24h-115.8zM1693.1 1435.7h23.5v25.6h-23.5zM1808.5 1435.7h23.5v25.6h-23.5zM1924 1435.7h23.5v25.6h-23.5zM1162 1460.9h23.5v29h-23.5zM1739.3 1460.9h69.7v29h-69.7zM1138.9 1489.5h23.5v34.1h-23.5zM1762.3 1489.5h23.5v34.1h-23.5zM1808.5 1489.5h46.6v34.1h-46.6zM1900.9 1489.5h46.6v34.1h-46.6zM1138.9 1523.2h23.5v37.4h-23.5zM1231.3 1523.2h23.5v37.4h-23.5zM1808.5 1523.2h69.7v37.4h-69.7zM1138.9 1560.2h23.5v39.1h-23.5zM1254.4 1560.2h23.5v39.1h-23.5zM1900.9 1560.2h46.6v39.1h-46.6zM1208.2 1598.9h92.8v42.5h-92.8zM1254.4 1641h23.5v42.5h-23.5z"/>
<path fill="#fcd7c2" d="M1416 1264h23.5v5.4h-23.5zM1069.6 1269.1h23.5v7.1h-23.5zM1416 1269.1h23.5v7.1h-23.5zM1416 1275.8h46.6v8.8h-46.6zM1277.5 1284.2h23.5v10.5h-23.5zM1416 1284.2h46.6v10.5h-46.6zM1231.3 1294.3h69.7v12.2h-69.7zM1416 1294.3h46.6v12.2h-46.6zM1739.3 1306.1h23.5v13.9h-23.5zM1693.1 1412.1h23.5v24h-23.5zM1808.5 1412.1h23.5v24h-23.5zM1785.4 1435.7h23.5v25.6h-23.5zM1185.1 1460.9h23.5v29h-23.5zM1785.4 1489.5h23.5v34.1h-23.5zM1162 1523.2h23.5v37.4h-23.5zM1877.8 1523.2h23.5v37.4h-23.5zM1162 1560.2h23.5v39.1h-23.5zM1231.3 1560.2h23.5v39.1h-23.5zM1092.7 1598.9h23.5v42.5h-23.5z"/>
<path fill="#fcd5bf" d="M1716.2 1435.7h23.5v25.6h-23.5zM1762.3 1435.7h23.5v25.6h-23.5zM1208.2 1460.9h23.5v29h-23.5zM1162 1489.5h23.5v34.1h-23.5zM1900.9 1523.2h46.6v37.4h-46.6zM1185.1 1560.2h23.5v39.1h-23.5zM1092.7 1641h23.5v42.5h-23.5z"/>
<path fill="#fbd0b9" d="M1277.5 1275.8h23.5v8.8h-23.5zM1231.3 1284.2h46.6v10.5h-46.6zM1785.4 1334.7h23.5v17.2h-23.5zM1808.5 1370h23.5v20.6h-23.5zM1808.5 1390.2h23.5v22.3h-23.5zM1716.2 1412.1h92.8v24h-92.8zM1739.3 1435.7h23.5v25.6h-23.5z"/>
<path fill="#fbccb4" d="M1300.5 1252.2h23.5v2.1h-23.5zM1369.8 1253.9h23.5v2.9h-23.5zM1323.6 1256.5h69.7v3.8h-69.7zM1046.6 1294.3h23.5v12.2h-23.5zM1208.2 1294.3h23.5v12.2h-23.5zM1600.7 1294.3h46.6v12.2h-46.6zM1600.7 1319.6h23.5v15.5h-23.5zM1762.3 1319.6h23.5v15.5h-23.5zM1623.8 1334.7h23.5v17.2h-23.5zM1646.9 1370h23.5v20.6h-23.5zM1670 1390.2h46.6v22.3h-46.6zM1785.4 1390.2h23.5v22.3h-23.5zM1208.2 1489.5h23.5v34.1h-23.5zM1185.1 1523.2h23.5v37.4h-23.5z"/>
<path fill="#facab1" d="M1208.2 1284.2h23.5v10.5h-23.5zM1646.9 1294.3h46.6v12.2h-46.6zM1600.7 1306.1h23.5v13.9h-23.5zM1716.2 1306.1h23.5v13.9h-23.5zM1762.3 1390.2h23.5v22.3h-23.5zM1185.1 1489.5h23.5v34.1h-23.5zM1208.2 1560.2h23.5v39.1h-23.5z"/>
<path fill="#f9c6ac" d="M1208.2 1523.2h23.5v37.4h-23.5z"/>
<path fill="#f9c4a9" d="M1277.5 1269.1h23.5v7.1h-23.5zM1254.4 1275.8h23.5v8.8h-23.5zM1185.1 1284.2h23.5v10.5h-23.5zM1185.1 1294.3h23.5v12.2h-23.5zM1693.1 1306.1h23.5v13.9h-23.5zM1623.8 1319.6h23.5v15.5h-23.5zM1646.9 1351.5h23.5v18.9h-23.5zM1785.4 1351.5h23.5v18.9h-23.5zM1716.2 1390.2h46.6v22.3h-46.6z"/>
<path fill="#f8bfa4" d="M1346.7 1253.9h23.5v2.9h-23.5zM1623.8 1306.1h23.5v13.9h-23.5zM1739.3 1319.6h23.5v15.5h-23.5z"/>
<path fill="#f8bb9e" d="M1231.3 1275.8h23.5v8.8h-23.5zM1670 1370h23.5v20.6h-23.5zM1785.4 1370h23.5v20.6h-23.5z"/>
<path fill="#f7b99c" d="M1646.9 1334.7h23.5v17.2h-23.5z"/>
<path fill="#f7b596" d="M1277.5 1252.2h23.5v2.1h-23.5zM1300.5 1256.5h23.5v3.8h-23.5zM1092.7 1264h23.5v5.4h-23.5zM1277.5 1264h23.5v5.4h-23.5zM1208.2 1275.8h23.5v8.8h-23.5z"/>
<path fill="#f6b394" d="M1646.9 1306.1h46.6v13.9h-46.6zM1646.9 1319.6h23.5v15.5h-23.5zM1716.2 1319.6h23.5v15.5h-23.5zM1762.3 1334.7h23.5v17.2h-23.5zM1693.1 1370h23.5v20.6h-23.5z"/>
<path fill="#f6af8e" d="M1115.8 1253.9h23.5v2.9h-23.5zM1323.6 1253.9h23.5v2.9h-23.5zM1254.4 1269.1h23.5v7.1h-23.5zM1185.1 1275.8h23.5v8.8h-23.5zM1115.8 1294.3h46.6v12.2h-46.6zM1092.7 1306.1h23.5v13.9h-23.5zM1693.1 1319.6h23.5v15.5h-23.5z"/>
<path fill="#f5aa89" d="M1739.3 1334.7h23.5v17.2h-23.5zM1670 1351.5h23.5v18.9h-23.5z"/>
<path fill="#f5a886" d="M1162 1284.2h23.5v10.5h-23.5zM1162 1294.3h23.5v12.2h-23.5zM1670 1319.6h23.5v15.5h-23.5zM1670 1334.7h69.7v17.2h-69.7zM1693.1 1351.5h23.5v18.9h-23.5zM1716.2 1370h69.7v20.6h-69.7z"/>
<path fill="#f3a481" d="M1069.6 1275.8h23.5v8.8h-23.5zM1069.6 1319.6h23.5v15.5h-23.5z"/>
<path fill="#f2a17f" d="M1277.5 1259.8h23.5v4.6h-23.5zM1739.3 1351.5h46.6v18.9h-46.6z"/>
<path fill="#f09c7b" d="M1716.2 1351.5h23.5v18.9h-23.5z"/>
<path fill="#ee9677" d="M1208.2 1269.1h46.6v7.1h-46.6z"/>
<path fill="#ec9374" d="M1300.5 1253.9h23.5v2.9h-23.5z"/>
<path fill="#ea8e70" d="M1092.7 1269.1h23.5v7.1h-23.5zM1092.7 1294.3h23.5v12.2h-23.5z"/>
<path fill="#e48066" d="M1138.9 1252.2h23.5v2.1h-23.5zM1115.8 1256.5h23.5v3.8h-23.5zM1277.5 1256.5h23.5v3.8h-23.5zM1254.4 1264h23.5v5.4h-23.5zM1185.1 1269.1h23.5v7.1h-23.5z"/>
<path fill="#df765e" d="M1208.2 1264h23.5v5.4h-23.5z"/>
<path fill="#dd7059" d="M1277.5 1253.9h23.5v2.9h-23.5zM1092.7 1275.8h23.5v8.8h-23.5zM1069.6 1284.2h46.6v10.5h-46.6z"/>
<path fill="#db6b55" d="M1254.4 1259.8h23.5v4.6h-23.5zM1162 1275.8h23.5v8.8h-23.5z"/>
<path fill="#d7634f" d="M1208.2 1252.2h23.5v2.1h-23.5zM1254.4 1252.2h23.5v2.1h-23.5zM1231.3 1264h23.5v5.4h-23.5zM1115.8 1284.2h23.5v10.5h-23.5z"/>
<path fill="#d35a4a" d="M1208.2 1259.8h23.5v4.6h-23.5z"/>
<path fill="#cf5246" d="M1185.1 1264h23.5v5.4h-23.5z"/>
<path fill="#cc4c44" d="M1138.9 1284.2h23.5v10.5h-23.5zM1069.6 1306.1h23.5v13.9h-23.5z"/>
<path fill="#cb4942" d="M1162 1252.2h46.6v2.1h-46.6zM1231.3 1252.2h23.5v2.1h-23.5zM1254.4 1256.5h23.5v3.8h-23.5zM1115.8 1259.8h23.5v4.6h-23.5zM1138.9 1275.8h23.5v8.8h-23.5zM1069.6 1294.3h23.5v12.2h-23.5z"/>
<path fill="#c43b3c" d="M1208.2 1256.5h23.5v3.8h-23.5z"/>
<path fill="#bd2d35" d="M1231.3 1259.8h23.5v4.6h-23.5z"/>
<path fill="#ba2832" d="M1138.9 1253.9h23.5v2.9h-23.5zM1208.2 1253.9h23.5v2.9h-23.5zM1254.4 1253.9h23.5v2.9h-23.5zM1185.1 1259.8h23.5v4.6h-23.5zM1162 1269.1h23.5v7.1h-23.5zM1115.8 1275.8h23.5v8.8h-23.5z"/>
<path fill="#b82531" d="M1115.8 1264h23.5v5.4h-23.5z"/>
<path fill="#b41c2d" d="M1115.8 1269.1h23.5v7.1h-23.5z"/>
<path fill="#b1182b" d="M1231.3 1256.5h23.5v3.8h-23.5z"/>
<path fill="#a21328" d="M1231.3 1253.9h23.5v2.9h-23.5zM1138.9 1256.5h23.5v3.8h-23.5zM1185.1 1256.5h23.5v3.8h-23.5zM1138.9 1269.1h23.5v7.1h-23.5z"/>
<path fill="#991027" d="M1185.1 1253.9h23.5v2.9h-23.5z"/>
<path fill="#900d26" d="M1162 1264h23.5v5.4h-23.5z"/>
<path fill="#870a24" d="M1162 1253.9h23.5v2.9h-23.5zM1138.9 1259.8h23.5v4.6h-23.5zM1138.9 1264h23.5v5.4h-23.5z"/>
<path fill="#67001f" d="M1162 1256.5h23.5v3.8h-23.5zM1162 1259.8h23.5v4.6h-23.5z"/>
</g>
<path clip-path="url(#cf)" fill="url(#hR)" d="M1069.6 1253.9h23.1v2.5h-23.1zM1092.7 1253.9h23.1v2.5h-23.1zM1069.6 1256.5h23.1v3.4h-23.1zM1092.7 1256.5h23.1v3.4h-23.1zM1416 1256.5h23.1v3.4h-23.1zM1069.6 1259.8h23.1v4.2h-23.1zM1416 1259.8h23.1v4.2h-23.1zM1069.6 1264h23.1v5h-23.1zM1300.5 1264h161.6v5h-161.6zM1046.6 1269.1h23.1v6.7h-23.1zM1300.5 1269.1h184.7v6.7h-184.7zM1600.7 1269.1h92.4v6.7h-92.4zM1046.6 1275.8h23.1v8.4h-23.1zM1300.5 1275.8h415.6v8.4h-415.6zM1046.6 1284.2h23.1v10.1h-23.1zM1300.5 1284.2h461.8v10.1h-461.8zM1300.5 1294.3h254v11.8h-254zM1693.1 1294.3h92.4v11.8h-92.4zM1115.8 1306.1h415.6v13.5h-415.6zM1716.2 1306.1h92.4v13.5h-92.4zM1162 1319.6h415.6v15.1h-415.6zM1785.4 1319.6h46.2v15.1h-46.2zM1092.7 1334.7h23.1v16.8h-23.1zM1185.1 1334.7h415.6v16.8h-415.6zM1785.4 1334.7h92.4v16.8h-92.4zM1208.2 1351.5h415.6v18.5h-415.6zM1808.5 1351.5h138.5v18.5h-138.5zM1115.8 1370h23.1v20.2h-23.1zM1208.2 1370h438.7v20.2h-438.7zM1831.6 1370h115.4v20.2h-115.4zM1092.7 1390.2h554.2v21.9h-554.2zM1854.7 1390.2h46.2v21.9h-46.2zM1092.7 1412.1h577.2v23.6h-577.2zM1092.7 1435.7h554.2v25.2h-554.2zM1092.7 1460.9h115.4v28.6h-115.4zM1231.3 1460.9h438.7v28.6h-438.7zM1092.7 1489.5h69.3v33.7h-69.3zM1254.4 1489.5h461.8v33.7h-461.8zM1092.7 1523.2h69.3v37h-69.3zM1254.4 1523.2h23.1v37h-23.1zM1300.5 1523.2h184.7v37h-184.7zM1554.5 1523.2h207.8v37h-207.8zM1092.7 1560.2h46.2v38.7h-46.2zM1300.5 1560.2h184.7v38.7h-184.7zM1577.6 1560.2h300.2v38.7h-300.2zM1300.5 1598.9h184.7v42.1h-184.7zM1623.8 1598.9h323.3v42.1h-323.3zM1323.6 1641h161.6v42.1h-161.6zM1670 1641h277.1v42.1h-277.1z"/>
<rect x="1021.4" y="1237.1" width="919" height="420.7" fill="none" stroke="#000" stroke-width="1.8"/>
<path d="M1021.4 1657.8L1021.4 1665.3" stroke="#000" stroke-width="2"/>
<text x="1021.4" y="1692.7" font-size="28" text-anchor="middle">−80</text>
<path d="M1136.3 1657.8L1136.3 1665.3" stroke="#000" stroke-width="2"/>
<text x="1136.3" y="1692.7" font-size="28" text-anchor="middle">−75</text>
<path d="M1251.2 1657.8L1251.2 1665.3" stroke="#000" stroke-width="2"/>
<text x="1251.2" y="1692.7" font-size="28" text-anchor="middle">−70</text>
<path d="M1366 1657.8L1366 1665.3" stroke="#000" stroke-width="2"/>
<text x="1366" y="1692.7" font-size="28" text-anchor="middle">−65</text>
<path d="M1480.9 1657.8L1480.9 1665.3" stroke="#000" stroke-width="2"/>
<text x="1480.9" y="1692.7" font-size="28" text-anchor="middle">−60</text>
<path d="M1595.8 1657.8L1595.8 1665.3" stroke="#000" stroke-width="2"/>
<text x="1595.8" y="1692.7" font-size="28" text-anchor="middle">−55</text>
<path d="M1710.7 1657.8L1710.7 1665.3" stroke="#000" stroke-width="2"/>
<text x="1710.7" y="1692.7" font-size="28" text-anchor="middle">−50</text>
<path d="M1825.5 1657.8L1825.5 1665.3" stroke="#000" stroke-width="2"/>
<text x="1825.5" y="1692.7" font-size="28" text-anchor="middle">−45</text>
<path d="M1940.4 1657.8L1940.4 1665.3" stroke="#000" stroke-width="2"/>
<text x="1940.4" y="1692.7" font-size="28" text-anchor="middle">−40</text>
<path d="M1013.9 1237.1L1021.4 1237.1" stroke="#000" stroke-width="2"/>
<text x="1007.1" y="1247.4" font-size="27.8" text-anchor="end">0</text>
<path d="M1013.9 1321.2L1021.4 1321.2" stroke="#000" stroke-width="2"/>
<text x="1007.1" y="1331.5" font-size="27.8" text-anchor="end">−500</text>
<path d="M1013.9 1405.4L1021.4 1405.4" stroke="#000" stroke-width="2"/>
<text x="1007.1" y="1415.7" font-size="27.8" text-anchor="end">−1000</text>
<path d="M1013.9 1489.5L1021.4 1489.5" stroke="#000" stroke-width="2"/>
<text x="1007.1" y="1499.8" font-size="27.8" text-anchor="end">−1500</text>
<path d="M1013.9 1573.7L1021.4 1573.7" stroke="#000" stroke-width="2"/>
<text x="1007.1" y="1584" font-size="27.8" text-anchor="end">−2000</text>
<path d="M1013.9 1657.8L1021.4 1657.8" stroke="#000" stroke-width="2"/>
<text x="1007.1" y="1668.1" font-size="27.8" text-anchor="end">−2500</text>
<text transform="translate(898.4,1448) rotate(-90)" font-size="35.5" text-anchor="middle">depth [m]</text>
<text x="1480.5" y="1733.8" font-size="35.6" text-anchor="middle">latitude</text>
<rect x="1632.9" y="1571.2" width="267.7" height="52.1" fill="#fff"/>
<text x="1640.2" y="1607.3" font-size="36.1">HR-LR change</text>
<linearGradient id="gf" x1="0" x2="1" y1="0" y2="0"><stop offset="0.0000" stop-color="#053061"/><stop offset="0.0312" stop-color="#0e4179"/><stop offset="0.0625" stop-color="#175290"/><stop offset="0.0938" stop-color="#1f63a8"/><stop offset="0.1250" stop-color="#2a71b2"/><stop offset="0.1562" stop-color="#3480b9"/><stop offset="0.1875" stop-color="#3f8ec0"/><stop offset="0.2188" stop-color="#529dc8"/><stop offset="0.2500" stop-color="#6bacd1"/><stop offset="0.2812" stop-color="#84bcd9"/><stop offset="0.3125" stop-color="#9bc9e0"/><stop offset="0.3438" stop-color="#aed3e6"/><stop offset="0.3750" stop-color="#c2ddec"/><stop offset="0.4062" stop-color="#d4e6f1"/><stop offset="0.4375" stop-color="#e0ecf3"/><stop offset="0.4688" stop-color="#ecf2f5"/><stop offset="0.5000" stop-color="#f7f6f6"/><stop offset="0.5312" stop-color="#f9eee7"/><stop offset="0.5625" stop-color="#fbe5d8"/><stop offset="0.5938" stop-color="#fddcc9"/><stop offset="0.6250" stop-color="#fbccb4"/><stop offset="0.6562" stop-color="#f8bb9e"/><stop offset="0.6875" stop-color="#f5aa89"/><stop offset="0.7188" stop-color="#ee9677"/><stop offset="0.7500" stop-color="#e48066"/><stop offset="0.7812" stop-color="#db6b55"/><stop offset="0.8125" stop-color="#d05548"/><stop offset="0.8438" stop-color="#c53e3d"/><stop offset="0.8750" stop-color="#ba2832"/><stop offset="0.9062" stop-color="#ab162a"/><stop offset="0.9375" stop-color="#930e26"/><stop offset="0.9688" stop-color="#7c0722"/><stop offset="1.0000" stop-color="#67001f"/></linearGradient>
<rect x="1021.2" y="1755.3" width="919.2" height="46.1" fill="url(#gf)" stroke="#000" stroke-width="1.8"/>
<path d="M1021.2 1801.4L1021.2 1808.9" stroke="#000" stroke-width="2"/>
<text x="1021.2" y="1835.5" font-size="28" text-anchor="middle">−0.6</text>
<path d="M1174.4 1801.4L1174.4 1808.9" stroke="#000" stroke-width="2"/>
<text x="1174.4" y="1835.5" font-size="28" text-anchor="middle">−0.4</text>
<path d="M1327.6 1801.4L1327.6 1808.9" stroke="#000" stroke-width="2"/>
<text x="1327.6" y="1835.5" font-size="28" text-anchor="middle">−0.2</text>
<path d="M1480.8 1801.4L1480.8 1808.9" stroke="#000" stroke-width="2"/>
<text x="1480.8" y="1835.5" font-size="28" text-anchor="middle">0.0</text>
<path d="M1634 1801.4L1634 1808.9" stroke="#000" stroke-width="2"/>
<text x="1634" y="1835.5" font-size="28" text-anchor="middle">0.2</text>
<path d="M1787.2 1801.4L1787.2 1808.9" stroke="#000" stroke-width="2"/>
<text x="1787.2" y="1835.5" font-size="28" text-anchor="middle">0.4</text>
<path d="M1940.4 1801.4L1940.4 1808.9" stroke="#000" stroke-width="2"/>
<text x="1940.4" y="1835.5" font-size="28" text-anchor="middle">0.6</text>
<text x="1479.1" y="1877.2" font-size="35.8" text-anchor="middle">pot. temperature change [<tspan font-size="23.6" dy="-8.1" dx="8.4">°</tspan><tspan dy="8.1" dx="7.8">C]</tspan></text>
<text transform="translate(869.6,1254.2) scale(1.05,0.98)" font-size="42" font-weight="bold" font-family='"Liberation Sans","DejaVu Sans",sans-serif'>f</text>
</svg></body></html>
